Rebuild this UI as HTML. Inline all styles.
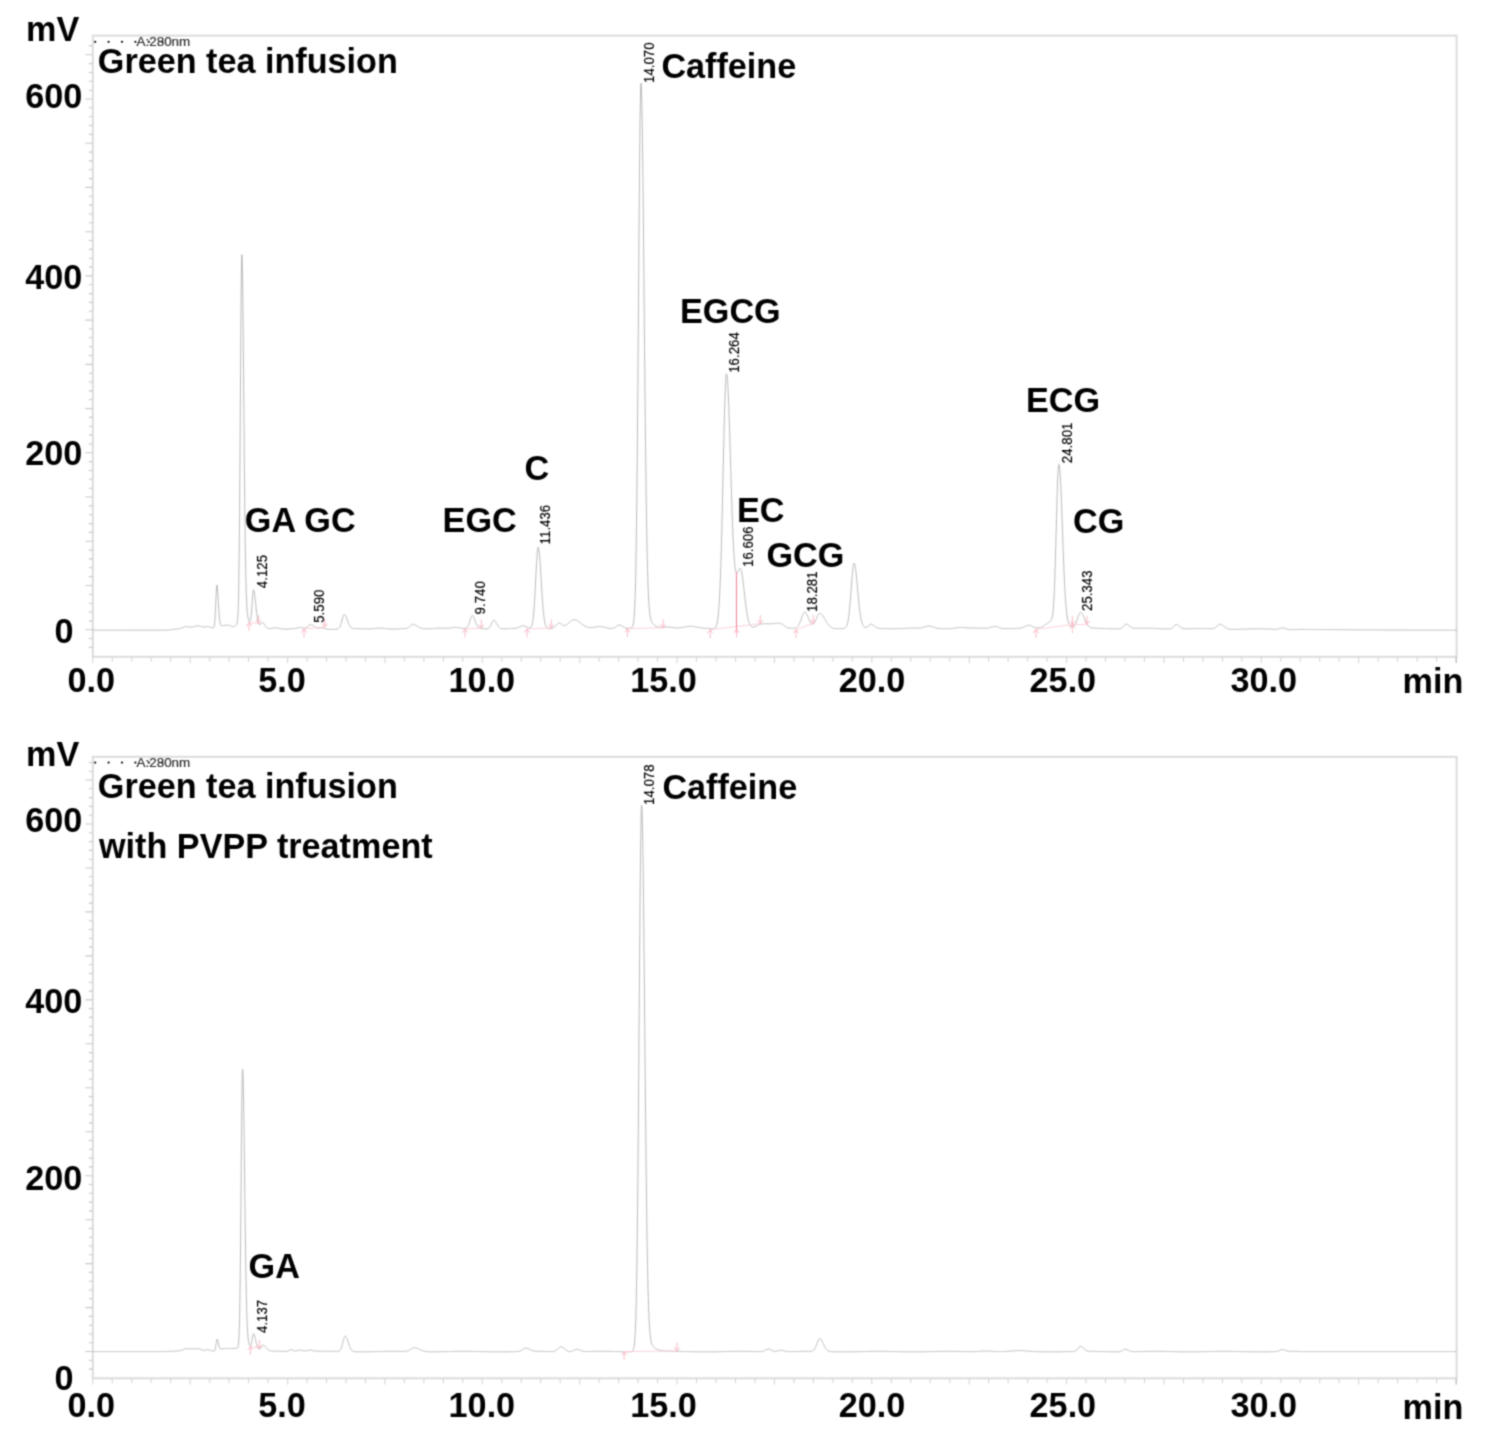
<!DOCTYPE html>
<html lang="en"><head><meta charset="utf-8"><title>HPLC chromatograms of green tea infusion</title>
<style>
html,body{margin:0;padding:0;background:#fff;}
body{width:1488px;height:1439px;overflow:hidden;}
svg{display:block;}
.b{font-family:"Liberation Sans",sans-serif;font-weight:700;font-size:34.2px;fill:#000;}
.r{font-family:"Liberation Sans",sans-serif;font-weight:400;font-size:13.3px;fill:#000;stroke:#000;stroke-width:0.15px;}
.lg{font-family:"Liberation Sans",sans-serif;font-weight:400;font-size:13.4px;fill:#303030;stroke:#303030;stroke-width:0.2px;}
.t{fill:none;stroke:#b2b2b2;stroke-width:0.9;stroke-linejoin:round;}
.m{fill:none;stroke:#f8b4c1;stroke-width:0.9;}
.m .s{stroke:#fbcdd6;stroke-width:0.9;}
</style></head><body>
<svg width="1488" height="1439" viewBox="0 0 1488 1439">
<defs><filter id="soft" x="0" y="0" width="1488" height="1439" filterUnits="userSpaceOnUse" color-interpolation-filters="sRGB"><feConvolveMatrix order="3" kernelMatrix="0.04084 0.12041 0.04084 0.12041 0.35503 0.12041 0.04084 0.12041 0.04084" divisor="1" edgeMode="duplicate" preserveAlpha="false"/></filter></defs>
<g filter="url(#soft)">
<rect width="1488" height="1439" fill="#fff"/>
<g id="chart-top">
<rect x="92.8" y="35.6" width="1363.8" height="621.2" fill="none" stroke="#dcdcdc" stroke-width="2"/>
<path d="M88.8,45.9H92.8M85.3,54.8H92.8M88.8,63.6H92.8M88.8,72.5H92.8M88.8,81.3H92.8M88.8,90.2H92.8M85.3,99.0H92.8M88.8,107.8H92.8M88.8,116.7H92.8M88.8,125.5H92.8M88.8,134.4H92.8M85.3,143.2H92.8M88.8,152.1H92.8M88.8,160.9H92.8M88.8,169.8H92.8M88.8,178.6H92.8M85.3,187.4H92.8M88.8,196.3H92.8M88.8,205.1H92.8M88.8,214.0H92.8M88.8,222.8H92.8M85.3,231.7H92.8M88.8,240.5H92.8M88.8,249.4H92.8M88.8,258.2H92.8M88.8,267.1H92.8M85.3,275.9H92.8M88.8,284.7H92.8M88.8,293.6H92.8M88.8,302.4H92.8M88.8,311.3H92.8M85.3,320.1H92.8M88.8,329.0H92.8M88.8,337.8H92.8M88.8,346.7H92.8M88.8,355.5H92.8M85.3,364.4H92.8M88.8,373.2H92.8M88.8,382.0H92.8M88.8,390.9H92.8M88.8,399.7H92.8M85.3,408.6H92.8M88.8,417.4H92.8M88.8,426.3H92.8M88.8,435.1H92.8M88.8,444.0H92.8M85.3,452.8H92.8M88.8,461.6H92.8M88.8,470.5H92.8M88.8,479.3H92.8M88.8,488.2H92.8M85.3,497.0H92.8M88.8,505.9H92.8M88.8,514.7H92.8M88.8,523.6H92.8M88.8,532.4H92.8M85.3,541.2H92.8M88.8,550.1H92.8M88.8,558.9H92.8M88.8,567.8H92.8M88.8,576.6H92.8M85.3,585.5H92.8M88.8,594.3H92.8M88.8,603.2H92.8M88.8,612.0H92.8M88.8,620.9H92.8M85.3,629.7H92.8M88.8,638.5H92.8M88.8,647.4H92.8" stroke="#cacaca" stroke-width="1.1" fill="none"/>
<path d="M92.8,656.8v6.2M112.3,656.8v5.0M131.8,656.8v5.0M151.2,656.8v5.0M170.7,656.8v5.0M190.2,656.8v6.2M209.7,656.8v5.0M229.1,656.8v5.0M248.6,656.8v5.0M268.1,656.8v5.0M287.6,656.8v6.2M307.0,656.8v5.0M326.5,656.8v5.0M346.0,656.8v5.0M365.5,656.8v5.0M384.9,656.8v6.2M404.4,656.8v5.0M423.9,656.8v5.0M443.4,656.8v5.0M462.8,656.8v5.0M482.3,656.8v6.2M501.8,656.8v5.0M521.2,656.8v5.0M540.7,656.8v5.0M560.2,656.8v5.0M579.7,656.8v6.2M599.1,656.8v5.0M618.6,656.8v5.0M638.1,656.8v5.0M657.6,656.8v5.0M677.0,656.8v6.2M696.5,656.8v5.0M716.0,656.8v5.0M735.5,656.8v5.0M755.0,656.8v5.0M774.4,656.8v6.2M793.9,656.8v5.0M813.4,656.8v5.0M832.9,656.8v5.0M852.3,656.8v5.0M871.8,656.8v6.2M891.3,656.8v5.0M910.8,656.8v5.0M930.2,656.8v5.0M949.7,656.8v5.0M969.2,656.8v6.2M988.6,656.8v5.0M1008.1,656.8v5.0M1027.6,656.8v5.0M1047.1,656.8v5.0M1066.6,656.8v6.2M1086.0,656.8v5.0M1105.5,656.8v5.0M1125.0,656.8v5.0M1144.5,656.8v5.0M1163.9,656.8v6.2M1183.4,656.8v5.0M1202.9,656.8v5.0M1222.4,656.8v5.0M1241.8,656.8v5.0M1261.3,656.8v6.2M1280.8,656.8v5.0M1300.2,656.8v5.0M1319.7,656.8v5.0M1339.2,656.8v5.0M1358.7,656.8v6.2M1378.2,656.8v5.0M1397.6,656.8v5.0M1417.1,656.8v5.0M1436.6,656.8v5.0M1456.0,656.8v6.2" stroke="#d6d6d6" stroke-width="1.1" fill="none"/>
<text class="b" transform="translate(26.0,41.4) scale(1,1.005)">mV</text>
<text class="b" transform="translate(25.2,108.3) scale(1,1.03)">600</text>
<text class="b" transform="translate(25.2,288.6) scale(1,1.03)">400</text>
<text class="b" transform="translate(25.2,465.4) scale(1,1.03)">200</text>
<text class="b" transform="translate(54.4,642.6) scale(1,1.03)">0</text>
<text class="b" transform="translate(67.4,691.6) scale(1,1.03)">0.0</text>
<text class="b" transform="translate(258.2,691.6) scale(1,1.03)">5.0</text>
<text class="b" transform="translate(448.6,691.6) scale(1,1.03)">10.0</text>
<text class="b" transform="translate(630.2,691.6) scale(1,1.03)">15.0</text>
<text class="b" transform="translate(838.8,691.6) scale(1,1.03)">20.0</text>
<text class="b" transform="translate(1029.6,691.6) scale(1,1.03)">25.0</text>
<text class="b" transform="translate(1230.4,691.6) scale(1,1.03)">30.0</text>
<text class="b" transform="translate(1402.6,693.4) scale(1,1.005)">min</text>
<path d="M1456.3,656.8v6.2" stroke="#c2c2c2" stroke-width="1.2" fill="none"/>
<path d="M95.2,41.8h0.01M108.6,41.8h0.01M122.0,41.8h0.01M135.4,41.8h0.01M148.8,41.8h0.01M162.2,41.8h0.01" stroke="#111" stroke-width="2.3" stroke-linecap="round" fill="none"/>
<text class="lg" x="136.6" y="46.0">A:280nm</text>
<path class="t" d="M92.8,630.2 L93.0,630.2 L93.3,630.2 L93.5,630.2 L93.8,630.2 L94.0,630.2 L94.3,630.2 L94.5,630.2 L94.8,630.2 L95.0,630.2 L95.3,630.2 L95.5,630.2 L95.8,630.2 L96.0,630.2 L96.3,630.2 L96.5,630.2 L96.8,630.2 L97.0,630.2 L97.3,630.2 L97.5,630.2 L97.8,630.2 L98.0,630.2 L98.3,630.2 L98.5,630.2 L98.8,630.2 L99.0,630.2 L99.3,630.2 L99.5,630.2 L99.8,630.2 L100.0,630.2 L100.3,630.2 L100.5,630.2 L100.8,630.2 L101.0,630.2 L101.3,630.2 L101.5,630.2 L101.8,630.2 L102.0,630.2 L102.3,630.2 L102.5,630.2 L102.8,630.2 L103.0,630.2 L103.3,630.2 L103.5,630.2 L103.8,630.2 L104.0,630.2 L104.3,630.2 L104.5,630.2 L104.8,630.2 L105.0,630.2 L105.3,630.2 L105.5,630.2 L105.8,630.2 L106.0,630.2 L106.3,630.2 L106.5,630.2 L106.8,630.2 L107.0,630.2 L107.3,630.2 L107.5,630.2 L107.8,630.2 L108.0,630.2 L108.3,630.2 L108.5,630.2 L108.8,630.2 L109.0,630.2 L109.3,630.2 L109.5,630.2 L109.8,630.2 L110.0,630.2 L110.3,630.2 L110.5,630.2 L110.8,630.2 L111.0,630.2 L111.3,630.2 L111.5,630.2 L111.8,630.2 L112.0,630.2 L112.3,630.2 L112.5,630.2 L112.8,630.2 L113.0,630.2 L113.3,630.2 L113.5,630.2 L113.8,630.2 L114.0,630.2 L114.3,630.2 L114.5,630.2 L114.8,630.2 L115.0,630.2 L115.3,630.2 L115.5,630.2 L115.8,630.2 L116.0,630.2 L116.3,630.2 L116.5,630.2 L116.8,630.2 L117.0,630.2 L117.3,630.2 L117.5,630.2 L117.8,630.2 L118.0,630.2 L118.3,630.2 L118.5,630.2 L118.8,630.2 L119.0,630.2 L119.3,630.2 L119.5,630.2 L119.8,630.2 L120.0,630.2 L120.3,630.2 L120.5,630.2 L120.8,630.2 L121.0,630.2 L121.3,630.2 L121.5,630.2 L121.8,630.2 L122.0,630.2 L122.3,630.2 L122.5,630.2 L122.8,630.2 L123.0,630.2 L123.3,630.2 L123.5,630.2 L123.8,630.2 L124.0,630.2 L124.3,630.2 L124.5,630.2 L124.8,630.2 L125.0,630.2 L125.3,630.2 L125.5,630.2 L125.8,630.2 L126.0,630.2 L126.3,630.2 L126.5,630.2 L126.8,630.2 L127.0,630.2 L127.3,630.2 L127.5,630.2 L127.8,630.2 L128.1,630.2 L128.3,630.2 L128.6,630.2 L128.8,630.2 L129.1,630.2 L129.3,630.2 L129.6,630.2 L129.8,630.2 L130.1,630.2 L130.3,630.2 L130.6,630.2 L130.8,630.2 L131.1,630.2 L131.3,630.2 L131.6,630.2 L131.8,630.2 L132.1,630.2 L132.3,630.2 L132.6,630.2 L132.8,630.2 L133.1,630.2 L133.3,630.2 L133.6,630.2 L133.8,630.2 L134.1,630.2 L134.3,630.2 L134.6,630.2 L134.8,630.2 L135.1,630.2 L135.3,630.2 L135.6,630.2 L135.8,630.2 L136.1,630.2 L136.3,630.2 L136.6,630.2 L136.8,630.2 L137.1,630.2 L137.3,630.2 L137.6,630.2 L137.8,630.2 L138.1,630.2 L138.3,630.2 L138.6,630.2 L138.8,630.2 L139.1,630.2 L139.3,630.2 L139.6,630.2 L139.8,630.2 L140.1,630.2 L140.3,630.2 L140.6,630.2 L140.8,630.2 L141.1,630.2 L141.3,630.2 L141.6,630.2 L141.8,630.2 L142.1,630.2 L142.3,630.2 L142.6,630.2 L142.8,630.2 L143.1,630.2 L143.3,630.2 L143.6,630.2 L143.8,630.2 L144.1,630.2 L144.3,630.2 L144.6,630.2 L144.8,630.2 L145.1,630.2 L145.3,630.2 L145.6,630.2 L145.8,630.2 L146.1,630.2 L146.3,630.2 L146.6,630.2 L146.8,630.2 L147.1,630.2 L147.3,630.2 L147.6,630.2 L147.8,630.2 L148.1,630.2 L148.3,630.2 L148.6,630.2 L148.8,630.2 L149.1,630.2 L149.3,630.2 L149.6,630.2 L149.8,630.2 L150.1,630.2 L150.3,630.2 L150.6,630.2 L150.8,630.2 L151.1,630.2 L151.3,630.2 L151.6,630.2 L151.8,630.2 L152.1,630.2 L152.3,630.2 L152.6,630.2 L152.8,630.2 L153.1,630.2 L153.3,630.2 L153.6,630.2 L153.8,630.2 L154.1,630.2 L154.3,630.2 L154.6,630.2 L154.8,630.2 L155.1,630.2 L155.3,630.2 L155.6,630.2 L155.8,630.2 L156.1,630.2 L156.3,630.2 L156.6,630.2 L156.8,630.2 L157.1,630.2 L157.3,630.2 L157.6,630.2 L157.8,630.2 L158.1,630.2 L158.3,630.2 L158.6,630.2 L158.8,630.2 L159.1,630.2 L159.3,630.2 L159.6,630.2 L159.8,630.2 L160.1,630.2 L160.3,630.2 L160.6,630.2 L160.8,630.2 L161.1,630.2 L161.3,630.2 L161.6,630.2 L161.8,630.2 L162.1,630.2 L162.3,630.2 L162.6,630.2 L162.8,630.2 L163.1,630.2 L163.3,630.2 L163.6,630.2 L163.8,630.2 L164.1,630.1 L164.3,630.1 L164.6,630.1 L164.8,630.1 L165.1,630.1 L165.3,630.1 L165.6,630.1 L165.8,630.1 L166.1,630.1 L166.3,630.1 L166.6,630.1 L166.8,630.1 L167.1,630.1 L167.3,630.0 L167.6,630.0 L167.8,630.0 L168.1,630.0 L168.3,630.0 L168.6,630.0 L168.8,630.0 L169.1,629.9 L169.3,629.9 L169.6,629.9 L169.8,629.9 L170.1,629.9 L170.3,629.8 L170.6,629.8 L170.8,629.8 L171.1,629.8 L171.3,629.7 L171.6,629.7 L171.8,629.7 L172.1,629.6 L172.3,629.5 L172.6,629.5 L172.8,629.5 L173.1,629.4 L173.3,629.4 L173.6,629.4 L173.8,629.3 L174.1,629.3 L174.3,629.2 L174.6,629.2 L174.8,629.2 L175.1,629.2 L175.3,629.1 L175.6,629.1 L175.8,629.1 L176.1,629.0 L176.3,629.0 L176.6,629.0 L176.8,628.9 L177.1,628.9 L177.3,628.9 L177.6,628.9 L177.8,628.8 L178.1,628.8 L178.3,628.8 L178.6,628.7 L178.8,628.7 L179.1,628.7 L179.3,628.6 L179.6,628.6 L179.8,628.5 L180.1,628.5 L180.3,628.4 L180.6,628.3 L180.8,628.3 L181.1,628.2 L181.3,628.1 L181.6,628.1 L181.8,628.0 L182.1,627.9 L182.3,627.8 L182.6,627.7 L182.8,627.6 L183.1,627.5 L183.3,627.4 L183.6,627.3 L183.8,627.2 L184.1,627.1 L184.3,627.0 L184.6,627.0 L184.8,626.9 L185.1,626.8 L185.3,626.8 L185.6,626.7 L185.8,626.7 L186.1,626.7 L186.3,626.7 L186.6,626.7 L186.8,626.7 L187.1,626.7 L187.3,626.7 L187.6,626.7 L187.8,626.7 L188.1,626.8 L188.3,626.8 L188.6,626.9 L188.8,626.9 L189.1,626.9 L189.3,627.0 L189.6,627.0 L189.8,627.1 L190.1,627.1 L190.3,627.1 L190.6,627.1 L190.8,627.1 L191.1,627.1 L191.3,627.1 L191.6,627.1 L191.8,627.1 L192.1,627.0 L192.3,627.0 L192.6,627.0 L192.8,626.9 L193.1,626.9 L193.3,626.8 L193.6,626.7 L193.8,626.7 L194.1,626.6 L194.3,626.5 L194.6,626.5 L194.8,626.4 L195.1,626.3 L195.3,626.3 L195.6,626.2 L195.8,626.2 L196.1,626.1 L196.3,626.1 L196.6,626.0 L196.8,626.0 L197.1,626.0 L197.3,626.0 L197.6,625.9 L197.8,625.9 L198.1,625.9 L198.3,625.9 L198.6,626.0 L198.8,626.0 L199.1,626.0 L199.3,626.1 L199.6,626.1 L199.8,626.2 L200.1,626.2 L200.3,626.3 L200.6,626.4 L200.8,626.4 L201.1,626.5 L201.3,626.6 L201.6,626.6 L201.8,626.7 L202.1,626.8 L202.3,626.8 L202.6,626.9 L202.8,626.9 L203.1,627.0 L203.3,627.0 L203.6,627.0 L203.8,627.0 L204.1,627.0 L204.3,627.0 L204.6,627.0 L204.8,627.0 L205.1,627.0 L205.3,626.9 L205.6,626.9 L205.8,626.8 L206.1,626.8 L206.3,626.7 L206.6,626.7 L206.8,626.7 L207.1,626.6 L207.3,626.6 L207.6,626.6 L207.8,626.6 L208.1,626.6 L208.3,626.6 L208.6,626.7 L208.8,626.7 L209.1,626.8 L209.3,626.9 L209.6,627.0 L209.8,627.0 L210.1,627.1 L210.3,627.2 L210.6,627.3 L210.8,627.4 L211.1,627.5 L211.3,627.6 L211.6,627.7 L211.8,627.8 L212.1,627.8 L212.3,627.9 L212.6,627.9 L212.8,628.0 L213.1,627.9 L213.3,627.9 L213.6,627.7 L213.8,627.3 L214.1,626.6 L214.3,625.5 L214.6,623.8 L214.8,621.2 L215.1,617.7 L215.3,613.2 L215.6,607.9 L215.8,602.0 L216.1,596.2 L216.3,591.0 L216.6,587.1 L216.8,585.1 L217.1,585.1 L217.3,586.6 L217.6,589.2 L217.8,592.7 L218.1,596.9 L218.3,601.4 L218.6,605.9 L218.8,610.1 L219.1,613.9 L219.3,617.1 L219.6,619.7 L219.8,621.7 L220.1,623.1 L220.3,624.2 L220.6,624.8 L220.8,625.3 L221.1,625.5 L221.3,625.6 L221.6,625.7 L221.8,625.7 L222.1,625.6 L222.3,625.6 L222.6,625.6 L222.8,625.5 L223.1,625.5 L223.3,625.5 L223.6,625.5 L223.8,625.5 L224.1,625.5 L224.3,625.4 L224.6,625.4 L224.8,625.4 L225.1,625.4 L225.3,625.4 L225.6,625.3 L225.8,625.3 L226.1,625.3 L226.3,625.2 L226.6,625.2 L226.8,625.2 L227.1,625.1 L227.3,625.1 L227.6,625.1 L227.8,625.1 L228.1,625.1 L228.3,625.1 L228.6,625.2 L228.8,625.2 L229.1,625.3 L229.3,625.4 L229.6,625.5 L229.8,625.6 L230.1,625.7 L230.3,625.8 L230.6,625.9 L230.8,626.0 L231.1,626.1 L231.3,626.2 L231.6,626.3 L231.8,626.4 L232.1,626.5 L232.3,626.5 L232.6,626.6 L232.8,626.6 L233.1,626.6 L233.3,626.6 L233.6,626.5 L233.8,626.5 L234.1,626.4 L234.3,626.3 L234.6,626.2 L234.8,626.1 L235.1,625.9 L235.3,625.8 L235.6,625.6 L235.8,625.4 L236.1,625.1 L236.3,624.9 L236.6,624.5 L236.8,623.9 L237.1,623.0 L237.3,621.6 L237.6,619.5 L237.8,616.3 L238.1,611.4 L238.3,604.4 L238.6,594.4 L238.8,580.9 L239.1,563.2 L239.3,540.8 L239.6,513.5 L239.8,481.5 L240.1,445.8 L240.3,407.7 L240.6,369.2 L240.8,332.7 L241.1,300.7 L241.3,275.8 L241.6,260.0 L241.8,254.7 L242.1,257.5 L242.3,265.9 L242.6,279.6 L242.8,298.2 L243.1,320.9 L243.3,346.8 L243.6,374.8 L243.8,403.8 L244.1,432.7 L244.3,460.6 L244.6,486.6 L244.8,510.3 L245.1,531.2 L245.3,549.3 L245.6,564.5 L245.8,577.1 L246.1,587.3 L246.3,595.3 L246.6,601.6 L246.8,606.5 L247.1,610.3 L247.3,613.1 L247.6,615.2 L247.8,616.9 L248.1,618.1 L248.3,619.1 L248.6,619.9 L248.8,620.5 L249.1,621.0 L249.3,621.3 L249.6,621.5 L249.8,621.5 L250.1,621.2 L250.3,620.6 L250.6,619.7 L250.8,618.2 L251.1,616.3 L251.3,613.9 L251.6,610.9 L251.8,607.5 L252.1,603.9 L252.3,600.2 L252.6,596.7 L252.8,593.6 L253.1,591.4 L253.3,590.1 L253.6,589.9 L253.8,590.3 L254.1,591.2 L254.3,592.4 L254.6,594.0 L254.8,595.9 L255.1,598.0 L255.3,600.3 L255.6,602.8 L255.8,605.2 L256.1,607.7 L256.3,610.0 L256.6,612.3 L256.8,614.4 L257.1,616.3 L257.3,618.0 L257.6,619.5 L257.8,620.8 L258.1,621.9 L258.3,622.7 L258.6,623.4 L258.8,623.9 L259.1,624.2 L259.3,624.4 L259.6,624.5 L259.8,624.5 L260.1,624.4 L260.3,624.2 L260.6,624.1 L260.8,623.8 L261.1,623.6 L261.3,623.4 L261.6,623.2 L261.8,623.1 L262.1,622.9 L262.3,622.9 L262.6,622.8 L262.8,622.9 L263.1,622.9 L263.3,623.1 L263.6,623.3 L263.8,623.6 L264.1,623.9 L264.3,624.2 L264.6,624.6 L264.8,625.0 L265.1,625.4 L265.3,625.8 L265.6,626.1 L265.8,626.5 L266.1,626.9 L266.3,627.2 L266.6,627.5 L266.8,627.7 L267.1,628.0 L267.3,628.1 L267.6,628.3 L267.8,628.4 L268.1,628.5 L268.3,628.6 L268.6,628.7 L268.8,628.7 L269.1,628.7 L269.3,628.7 L269.6,628.7 L269.8,628.7 L270.1,628.7 L270.3,628.6 L270.6,628.6 L270.8,628.6 L271.1,628.5 L271.3,628.5 L271.6,628.4 L271.8,628.3 L272.1,628.3 L272.3,628.2 L272.6,628.2 L272.8,628.1 L273.1,628.1 L273.3,628.1 L273.6,628.0 L273.8,628.0 L274.1,628.0 L274.3,627.9 L274.6,627.9 L274.8,627.9 L275.1,627.9 L275.3,627.9 L275.6,627.9 L275.8,627.9 L276.1,627.9 L276.3,628.0 L276.6,628.0 L276.8,628.0 L277.1,628.0 L277.3,628.1 L277.6,628.1 L277.8,628.2 L278.1,628.2 L278.3,628.2 L278.6,628.3 L278.8,628.3 L279.1,628.4 L279.3,628.4 L279.6,628.5 L279.8,628.5 L280.1,628.6 L280.3,628.6 L280.6,628.7 L280.8,628.7 L281.1,628.7 L281.3,628.8 L281.6,628.8 L281.8,628.8 L282.1,628.9 L282.3,628.9 L282.6,628.9 L282.8,628.9 L283.1,628.9 L283.3,629.0 L283.6,629.0 L283.8,629.0 L284.1,629.0 L284.3,629.0 L284.6,629.0 L284.8,629.0 L285.1,629.0 L285.3,629.0 L285.6,629.0 L285.8,629.0 L286.1,629.0 L286.3,629.0 L286.6,629.0 L286.8,629.0 L287.1,629.0 L287.3,629.0 L287.6,629.0 L287.8,629.0 L288.1,628.9 L288.3,628.9 L288.6,628.9 L288.8,628.9 L289.1,628.9 L289.3,628.9 L289.6,628.9 L289.8,628.9 L290.1,628.9 L290.3,628.9 L290.6,628.9 L290.8,628.9 L291.1,628.9 L291.3,628.8 L291.6,628.8 L291.8,628.8 L292.1,628.8 L292.3,628.8 L292.6,628.8 L292.8,628.8 L293.1,628.7 L293.3,628.7 L293.6,628.7 L293.8,628.7 L294.1,628.6 L294.3,628.6 L294.6,628.6 L294.8,628.5 L295.1,628.5 L295.3,628.4 L295.6,628.4 L295.8,628.3 L296.1,628.3 L296.3,628.2 L296.6,628.2 L296.8,628.1 L297.1,628.0 L297.3,628.0 L297.6,627.9 L297.8,627.9 L298.1,627.8 L298.3,627.8 L298.6,627.7 L298.8,627.7 L299.1,627.6 L299.3,627.6 L299.6,627.6 L299.8,627.6 L300.1,627.6 L300.3,627.6 L300.6,627.6 L300.8,627.6 L301.1,627.7 L301.3,627.7 L301.6,627.7 L301.8,627.8 L302.1,627.8 L302.3,627.9 L302.6,627.9 L302.8,628.0 L303.1,628.0 L303.3,628.0 L303.6,628.1 L303.8,628.1 L304.1,628.1 L304.3,628.1 L304.6,628.1 L304.8,628.0 L305.1,628.0 L305.3,627.9 L305.6,627.8 L305.8,627.7 L306.1,627.6 L306.3,627.5 L306.6,627.3 L306.8,627.2 L307.1,627.0 L307.3,626.8 L307.6,626.6 L307.8,626.4 L308.1,626.2 L308.3,626.0 L308.6,625.8 L308.8,625.6 L309.1,625.4 L309.3,625.2 L309.6,625.0 L309.8,624.9 L310.1,624.8 L310.3,624.7 L310.6,624.6 L310.8,624.6 L311.1,624.6 L311.3,624.6 L311.6,624.7 L311.8,624.7 L312.1,624.8 L312.3,624.9 L312.6,625.1 L312.8,625.2 L313.1,625.4 L313.3,625.5 L313.6,625.7 L313.8,625.9 L314.1,626.1 L314.3,626.3 L314.6,626.5 L314.8,626.7 L315.1,626.8 L315.3,627.0 L315.6,627.2 L315.8,627.3 L316.1,627.5 L316.3,627.6 L316.6,627.7 L316.8,627.8 L317.1,627.9 L317.3,628.0 L317.6,628.0 L317.8,628.1 L318.1,628.1 L318.3,628.1 L318.6,628.1 L318.8,628.1 L319.1,628.1 L319.3,628.1 L319.6,628.1 L319.8,628.0 L320.1,628.0 L320.3,628.0 L320.6,628.0 L320.8,627.9 L321.1,627.9 L321.3,627.9 L321.6,627.9 L321.8,627.9 L322.1,627.9 L322.3,627.9 L322.6,627.9 L322.8,628.0 L323.1,628.0 L323.3,628.1 L323.6,628.1 L323.8,628.2 L324.1,628.3 L324.3,628.3 L324.6,628.4 L324.8,628.5 L325.1,628.6 L325.3,628.6 L325.6,628.7 L325.8,628.8 L326.1,628.8 L326.3,628.9 L326.6,629.0 L326.8,629.0 L327.1,629.1 L327.3,629.1 L327.6,629.2 L327.8,629.2 L328.1,629.2 L328.3,629.3 L328.6,629.3 L328.8,629.3 L329.1,629.3 L329.3,629.3 L329.6,629.3 L329.8,629.3 L330.1,629.4 L330.3,629.4 L330.6,629.4 L330.8,629.4 L331.1,629.4 L331.3,629.4 L331.6,629.4 L331.8,629.3 L332.1,629.3 L332.3,629.3 L332.6,629.3 L332.8,629.3 L333.1,629.3 L333.3,629.3 L333.6,629.3 L333.8,629.3 L334.1,629.3 L334.3,629.3 L334.6,629.3 L334.8,629.3 L335.1,629.2 L335.3,629.2 L335.6,629.2 L335.8,629.2 L336.1,629.2 L336.3,629.2 L336.6,629.1 L336.8,629.1 L337.1,629.1 L337.3,629.0 L337.6,629.0 L337.8,628.9 L338.1,628.8 L338.3,628.6 L338.6,628.5 L338.8,628.3 L339.1,628.0 L339.3,627.7 L339.6,627.4 L339.8,626.9 L340.1,626.4 L340.3,625.9 L340.6,625.2 L340.8,624.5 L341.1,623.7 L341.3,622.8 L341.6,621.9 L341.8,621.0 L342.1,620.0 L342.3,619.0 L342.6,618.1 L342.8,617.2 L343.1,616.4 L343.3,615.7 L343.6,615.2 L343.8,614.7 L344.1,614.5 L344.3,614.4 L344.6,614.4 L344.8,614.6 L345.1,614.8 L345.3,615.1 L345.6,615.6 L345.8,616.0 L346.1,616.6 L346.3,617.2 L346.6,617.9 L346.8,618.6 L347.1,619.3 L347.3,620.0 L347.6,620.7 L347.8,621.4 L348.1,622.1 L348.3,622.8 L348.6,623.4 L348.8,624.1 L349.1,624.6 L349.3,625.1 L349.6,625.6 L349.8,626.0 L350.1,626.4 L350.3,626.8 L350.6,627.1 L350.8,627.3 L351.1,627.6 L351.3,627.8 L351.6,627.9 L351.8,628.1 L352.1,628.2 L352.3,628.3 L352.6,628.4 L352.8,628.4 L353.1,628.5 L353.3,628.5 L353.6,628.6 L353.8,628.6 L354.1,628.6 L354.3,628.6 L354.6,628.7 L354.8,628.7 L355.1,628.7 L355.3,628.7 L355.6,628.7 L355.8,628.7 L356.1,628.7 L356.3,628.7 L356.6,628.7 L356.8,628.7 L357.1,628.7 L357.3,628.7 L357.6,628.7 L357.8,628.7 L358.1,628.7 L358.3,628.7 L358.6,628.7 L358.8,628.7 L359.1,628.7 L359.3,628.7 L359.6,628.8 L359.8,628.8 L360.1,628.8 L360.3,628.8 L360.6,628.8 L360.8,628.8 L361.1,628.8 L361.3,628.8 L361.6,628.8 L361.8,628.8 L362.1,628.8 L362.3,628.8 L362.6,628.8 L362.8,628.8 L363.1,628.8 L363.3,628.8 L363.6,628.9 L363.8,628.9 L364.1,628.9 L364.3,628.9 L364.6,628.9 L364.8,628.9 L365.1,628.9 L365.3,628.9 L365.6,628.9 L365.8,628.9 L366.1,628.9 L366.3,628.9 L366.6,628.9 L366.8,628.9 L367.1,628.9 L367.3,628.9 L367.6,628.9 L367.8,628.9 L368.1,629.0 L368.3,629.0 L368.6,629.0 L368.8,628.9 L369.1,628.9 L369.3,628.9 L369.6,628.9 L369.8,628.9 L370.1,628.9 L370.3,628.9 L370.6,628.9 L370.8,628.9 L371.1,628.9 L371.3,628.9 L371.6,628.9 L371.8,628.8 L372.1,628.8 L372.3,628.8 L372.6,628.8 L372.8,628.8 L373.1,628.7 L373.3,628.7 L373.6,628.7 L373.8,628.7 L374.1,628.6 L374.3,628.6 L374.6,628.6 L374.8,628.5 L375.1,628.5 L375.3,628.5 L375.6,628.5 L375.8,628.4 L376.1,628.4 L376.3,628.4 L376.6,628.3 L376.8,628.3 L377.1,628.3 L377.3,628.3 L377.6,628.2 L377.8,628.2 L378.1,628.2 L378.3,628.2 L378.6,628.2 L378.8,628.1 L379.1,628.1 L379.3,628.1 L379.6,628.1 L379.8,628.1 L380.1,628.1 L380.3,628.1 L380.6,628.1 L380.8,628.1 L381.1,628.2 L381.3,628.2 L381.6,628.2 L381.8,628.2 L382.1,628.2 L382.3,628.2 L382.6,628.3 L382.8,628.3 L383.1,628.3 L383.3,628.4 L383.6,628.4 L383.8,628.4 L384.1,628.5 L384.3,628.5 L384.6,628.5 L384.8,628.5 L385.1,628.6 L385.3,628.6 L385.6,628.6 L385.8,628.7 L386.1,628.7 L386.3,628.7 L386.6,628.8 L386.8,628.8 L387.1,628.8 L387.3,628.8 L387.6,628.9 L387.8,628.9 L388.1,628.9 L388.3,628.9 L388.6,628.9 L388.8,629.0 L389.1,629.0 L389.3,629.0 L389.6,629.0 L389.8,629.0 L390.1,629.0 L390.3,629.0 L390.6,629.0 L390.8,629.0 L391.1,629.0 L391.3,629.0 L391.6,629.0 L391.8,629.0 L392.1,629.0 L392.3,629.0 L392.6,629.0 L392.8,629.0 L393.1,629.0 L393.3,629.0 L393.6,629.0 L393.8,629.0 L394.1,629.0 L394.3,629.0 L394.6,629.0 L394.8,629.0 L395.1,629.0 L395.3,629.0 L395.6,629.0 L395.8,628.9 L396.1,628.9 L396.3,628.9 L396.6,628.9 L396.8,628.9 L397.1,628.9 L397.3,628.9 L397.6,628.9 L397.8,628.9 L398.1,628.9 L398.3,628.9 L398.6,628.8 L398.8,628.8 L399.1,628.8 L399.3,628.8 L399.6,628.8 L399.8,628.8 L400.1,628.8 L400.3,628.8 L400.6,628.8 L400.8,628.8 L401.1,628.7 L401.3,628.7 L401.6,628.7 L401.8,628.7 L402.1,628.7 L402.3,628.7 L402.6,628.7 L402.8,628.7 L403.1,628.7 L403.3,628.7 L403.6,628.6 L403.8,628.6 L404.1,628.6 L404.3,628.6 L404.6,628.6 L404.8,628.6 L405.1,628.5 L405.3,628.5 L405.6,628.5 L405.8,628.4 L406.1,628.4 L406.3,628.3 L406.6,628.3 L406.8,628.2 L407.1,628.1 L407.3,628.0 L407.6,627.9 L407.8,627.8 L408.1,627.6 L408.3,627.5 L408.6,627.3 L408.8,627.1 L409.1,626.9 L409.3,626.7 L409.6,626.5 L409.8,626.3 L410.1,626.0 L410.3,625.8 L410.6,625.6 L410.8,625.4 L411.1,625.2 L411.3,625.0 L411.6,624.8 L411.8,624.7 L412.1,624.5 L412.3,624.4 L412.6,624.4 L412.8,624.4 L413.1,624.4 L413.3,624.4 L413.6,624.4 L413.8,624.5 L414.1,624.5 L414.3,624.6 L414.6,624.7 L414.8,624.8 L415.1,624.9 L415.3,625.1 L415.6,625.2 L415.8,625.4 L416.1,625.5 L416.3,625.7 L416.6,625.8 L416.8,626.0 L417.1,626.2 L417.3,626.3 L417.6,626.5 L417.8,626.7 L418.1,626.8 L418.3,627.0 L418.6,627.1 L418.8,627.2 L419.1,627.4 L419.3,627.5 L419.6,627.6 L419.8,627.7 L420.1,627.8 L420.3,627.9 L420.6,628.0 L420.8,628.1 L421.1,628.2 L421.3,628.3 L421.6,628.3 L421.8,628.4 L422.1,628.4 L422.3,628.5 L422.6,628.5 L422.8,628.6 L423.1,628.6 L423.3,628.6 L423.6,628.7 L423.8,628.7 L424.1,628.7 L424.3,628.7 L424.6,628.8 L424.8,628.8 L425.1,628.8 L425.3,628.8 L425.6,628.8 L425.8,628.8 L426.1,628.8 L426.3,628.8 L426.6,628.8 L426.8,628.8 L427.1,628.8 L427.3,628.8 L427.6,628.8 L427.8,628.8 L428.1,628.8 L428.3,628.8 L428.6,628.8 L428.8,628.8 L429.1,628.8 L429.3,628.8 L429.6,628.8 L429.8,628.8 L430.1,628.8 L430.3,628.8 L430.6,628.8 L430.8,628.7 L431.1,628.7 L431.3,628.7 L431.6,628.7 L431.8,628.7 L432.1,628.7 L432.3,628.7 L432.6,628.6 L432.8,628.6 L433.1,628.6 L433.3,628.6 L433.6,628.6 L433.8,628.5 L434.1,628.5 L434.3,628.5 L434.6,628.5 L434.8,628.4 L435.1,628.4 L435.3,628.4 L435.6,628.4 L435.8,628.4 L436.1,628.3 L436.3,628.3 L436.6,628.3 L436.8,628.3 L437.1,628.3 L437.3,628.3 L437.6,628.2 L437.8,628.2 L438.1,628.2 L438.3,628.2 L438.6,628.2 L438.8,628.2 L439.1,628.2 L439.3,628.2 L439.6,628.2 L439.8,628.1 L440.1,628.1 L440.3,628.1 L440.6,628.1 L440.8,628.1 L441.1,628.1 L441.3,628.1 L441.6,628.2 L441.8,628.2 L442.1,628.2 L442.3,628.2 L442.6,628.2 L442.8,628.2 L443.1,628.2 L443.3,628.2 L443.6,628.2 L443.8,628.2 L444.1,628.2 L444.3,628.3 L444.6,628.3 L444.8,628.3 L445.1,628.3 L445.3,628.3 L445.6,628.3 L445.8,628.3 L446.1,628.3 L446.3,628.3 L446.6,628.3 L446.8,628.3 L447.1,628.3 L447.3,628.3 L447.6,628.3 L447.8,628.3 L448.1,628.3 L448.3,628.3 L448.6,628.2 L448.8,628.2 L449.1,628.2 L449.3,628.2 L449.6,628.1 L449.8,628.1 L450.1,628.1 L450.3,628.0 L450.6,628.0 L450.8,627.9 L451.1,627.9 L451.3,627.9 L451.6,627.8 L451.8,627.8 L452.1,627.7 L452.3,627.7 L452.6,627.7 L452.8,627.6 L453.1,627.6 L453.3,627.6 L453.6,627.5 L453.8,627.5 L454.1,627.5 L454.3,627.5 L454.6,627.4 L454.8,627.4 L455.1,627.4 L455.3,627.4 L455.6,627.4 L455.8,627.4 L456.1,627.4 L456.3,627.4 L456.6,627.5 L456.8,627.5 L457.1,627.5 L457.3,627.5 L457.6,627.6 L457.8,627.6 L458.1,627.6 L458.3,627.7 L458.6,627.7 L458.8,627.7 L459.1,627.8 L459.3,627.8 L459.6,627.9 L459.8,627.9 L460.1,627.9 L460.3,628.0 L460.6,628.0 L460.8,628.0 L461.1,628.1 L461.3,628.1 L461.6,628.1 L461.8,628.1 L462.1,628.2 L462.3,628.2 L462.6,628.2 L462.8,628.2 L463.1,628.2 L463.3,628.3 L463.6,628.3 L463.8,628.3 L464.1,628.3 L464.3,628.3 L464.6,628.3 L464.8,628.3 L465.1,628.2 L465.3,628.2 L465.6,628.2 L465.8,628.1 L466.1,628.0 L466.3,627.9 L466.6,627.8 L466.8,627.6 L467.1,627.4 L467.3,627.1 L467.6,626.8 L467.8,626.5 L468.1,626.0 L468.3,625.5 L468.6,625.0 L468.8,624.3 L469.1,623.6 L469.3,622.9 L469.6,622.1 L469.8,621.3 L470.1,620.4 L470.3,619.6 L470.6,618.8 L470.8,618.0 L471.1,617.3 L471.3,616.7 L471.6,616.3 L471.8,615.9 L472.1,615.7 L472.3,615.6 L472.6,615.7 L472.8,615.8 L473.1,616.1 L473.3,616.5 L473.6,616.9 L473.8,617.5 L474.1,618.1 L474.3,618.7 L474.6,619.4 L474.8,620.1 L475.1,620.9 L475.3,621.6 L475.6,622.3 L475.8,623.0 L476.1,623.6 L476.3,624.2 L476.6,624.8 L476.8,625.3 L477.1,625.8 L477.3,626.2 L477.6,626.6 L477.8,626.9 L478.1,627.2 L478.3,627.5 L478.6,627.7 L478.8,627.9 L479.1,628.0 L479.3,628.2 L479.6,628.3 L479.8,628.4 L480.1,628.4 L480.3,628.5 L480.6,628.5 L480.8,628.6 L481.1,628.6 L481.3,628.6 L481.6,628.7 L481.8,628.7 L482.1,628.7 L482.3,628.7 L482.6,628.7 L482.8,628.7 L483.1,628.7 L483.3,628.7 L483.6,628.8 L483.8,628.8 L484.1,628.8 L484.3,628.8 L484.6,628.8 L484.8,628.8 L485.1,628.8 L485.3,628.8 L485.6,628.8 L485.8,628.8 L486.1,628.8 L486.3,628.8 L486.6,628.8 L486.8,628.8 L487.1,628.8 L487.3,628.7 L487.6,628.7 L487.8,628.6 L488.1,628.6 L488.3,628.5 L488.6,628.3 L488.8,628.2 L489.1,628.0 L489.3,627.7 L489.6,627.4 L489.8,627.1 L490.1,626.7 L490.3,626.3 L490.6,625.8 L490.8,625.3 L491.1,624.7 L491.3,624.1 L491.6,623.5 L491.8,622.9 L492.1,622.3 L492.3,621.8 L492.6,621.3 L492.8,620.9 L493.1,620.6 L493.3,620.3 L493.6,620.2 L493.8,620.2 L494.1,620.2 L494.3,620.4 L494.6,620.5 L494.8,620.8 L495.1,621.1 L495.3,621.4 L495.6,621.8 L495.8,622.2 L496.1,622.6 L496.3,623.1 L496.6,623.5 L496.8,624.0 L497.1,624.4 L497.3,624.9 L497.6,625.3 L497.8,625.7 L498.1,626.1 L498.3,626.4 L498.6,626.8 L498.8,627.1 L499.1,627.3 L499.3,627.6 L499.6,627.8 L499.8,628.0 L500.1,628.1 L500.3,628.2 L500.6,628.4 L500.8,628.5 L501.1,628.5 L501.3,628.6 L501.6,628.7 L501.8,628.7 L502.1,628.7 L502.3,628.7 L502.6,628.8 L502.8,628.8 L503.1,628.8 L503.3,628.8 L503.6,628.8 L503.8,628.8 L504.1,628.8 L504.3,628.8 L504.6,628.8 L504.8,628.8 L505.1,628.8 L505.3,628.7 L505.6,628.7 L505.8,628.7 L506.1,628.7 L506.3,628.7 L506.6,628.7 L506.8,628.7 L507.1,628.7 L507.3,628.7 L507.6,628.7 L507.8,628.7 L508.1,628.6 L508.3,628.6 L508.6,628.6 L508.8,628.6 L509.1,628.6 L509.3,628.6 L509.6,628.6 L509.8,628.6 L510.1,628.6 L510.3,628.5 L510.6,628.5 L510.8,628.5 L511.1,628.5 L511.3,628.5 L511.6,628.5 L511.8,628.5 L512.0,628.5 L512.3,628.5 L512.5,628.5 L512.8,628.4 L513.0,628.4 L513.3,628.4 L513.5,628.4 L513.8,628.4 L514.0,628.4 L514.3,628.4 L514.5,628.3 L514.8,628.3 L515.0,628.3 L515.3,628.3 L515.5,628.2 L515.8,628.2 L516.0,628.2 L516.3,628.1 L516.5,628.1 L516.8,628.0 L517.0,628.0 L517.3,627.9 L517.5,627.8 L517.8,627.7 L518.0,627.6 L518.3,627.5 L518.5,627.4 L518.8,627.3 L519.0,627.2 L519.3,627.1 L519.5,627.0 L519.8,626.8 L520.0,626.7 L520.3,626.6 L520.5,626.4 L520.8,626.3 L521.0,626.2 L521.3,626.1 L521.5,626.0 L521.8,625.9 L522.0,625.8 L522.3,625.8 L522.5,625.7 L522.8,625.7 L523.0,625.7 L523.3,625.7 L523.5,625.8 L523.8,625.8 L524.0,625.9 L524.3,625.9 L524.5,626.0 L524.8,626.1 L525.0,626.2 L525.3,626.3 L525.5,626.5 L525.8,626.6 L526.0,626.7 L526.3,626.9 L526.5,627.0 L526.8,627.1 L527.0,627.2 L527.3,627.3 L527.5,627.4 L527.8,627.5 L528.0,627.6 L528.3,627.7 L528.5,627.8 L528.8,627.8 L529.0,627.9 L529.3,627.9 L529.5,627.9 L529.8,627.9 L530.0,627.8 L530.3,627.7 L530.5,627.6 L530.8,627.4 L531.0,627.1 L531.3,626.7 L531.5,626.2 L531.8,625.6 L532.0,624.8 L532.3,623.8 L532.5,622.6 L532.8,621.2 L533.0,619.4 L533.3,617.3 L533.5,614.9 L533.8,612.1 L534.0,609.0 L534.3,605.5 L534.5,601.6 L534.8,597.3 L535.0,592.8 L535.3,588.0 L535.5,583.1 L535.8,578.0 L536.0,573.0 L536.3,568.2 L536.5,563.5 L536.8,559.3 L537.0,555.5 L537.3,552.3 L537.5,549.8 L537.8,548.1 L538.0,547.2 L538.3,547.1 L538.5,547.6 L538.8,548.7 L539.0,550.4 L539.3,552.6 L539.5,555.2 L539.8,558.3 L540.0,561.7 L540.3,565.4 L540.5,569.3 L540.8,573.4 L541.0,577.6 L541.3,581.7 L541.5,585.9 L541.8,590.0 L542.0,593.9 L542.3,597.7 L542.5,601.2 L542.8,604.6 L543.0,607.6 L543.3,610.4 L543.5,613.0 L543.8,615.3 L544.0,617.3 L544.3,619.1 L544.5,620.7 L544.8,622.1 L545.0,623.3 L545.3,624.3 L545.5,625.1 L545.8,625.8 L546.0,626.4 L546.3,626.9 L546.5,627.3 L546.8,627.7 L547.0,627.9 L547.3,628.1 L547.5,628.3 L547.8,628.4 L548.0,628.5 L548.3,628.6 L548.5,628.7 L548.8,628.7 L549.0,628.7 L549.3,628.8 L549.5,628.8 L549.8,628.8 L550.0,628.8 L550.3,628.8 L550.5,628.7 L550.8,628.7 L551.0,628.7 L551.3,628.6 L551.5,628.6 L551.8,628.5 L552.0,628.5 L552.3,628.4 L552.5,628.3 L552.8,628.2 L553.0,628.1 L553.3,627.9 L553.5,627.8 L553.8,627.6 L554.0,627.4 L554.3,627.2 L554.5,627.0 L554.8,626.7 L555.0,626.5 L555.3,626.2 L555.5,626.0 L555.8,625.7 L556.0,625.4 L556.3,625.1 L556.5,624.8 L556.8,624.5 L557.0,624.3 L557.3,624.0 L557.5,623.8 L557.8,623.6 L558.0,623.4 L558.3,623.3 L558.5,623.1 L558.8,623.1 L559.0,623.0 L559.3,623.0 L559.5,623.0 L559.8,623.1 L560.0,623.2 L560.3,623.3 L560.5,623.4 L560.8,623.6 L561.0,623.8 L561.3,624.0 L561.5,624.2 L561.8,624.4 L562.0,624.6 L562.3,624.7 L562.5,624.9 L562.8,625.1 L563.0,625.2 L563.3,625.3 L563.5,625.4 L563.8,625.5 L564.0,625.6 L564.3,625.6 L564.5,625.6 L564.8,625.6 L565.0,625.5 L565.3,625.5 L565.5,625.4 L565.8,625.3 L566.0,625.1 L566.3,625.0 L566.5,624.8 L566.8,624.7 L567.0,624.5 L567.3,624.3 L567.5,624.1 L567.8,623.8 L568.0,623.6 L568.3,623.4 L568.5,623.1 L568.8,622.9 L569.0,622.7 L569.3,622.4 L569.5,622.2 L569.8,622.0 L570.0,621.8 L570.3,621.5 L570.5,621.3 L570.8,621.1 L571.0,620.9 L571.3,620.7 L571.5,620.6 L571.8,620.4 L572.0,620.3 L572.3,620.1 L572.5,620.0 L572.8,619.9 L573.0,619.9 L573.3,619.8 L573.5,619.7 L573.8,619.7 L574.0,619.7 L574.3,619.7 L574.5,619.7 L574.8,619.7 L575.0,619.8 L575.3,619.8 L575.5,619.9 L575.8,620.0 L576.0,620.1 L576.3,620.2 L576.5,620.3 L576.8,620.4 L577.0,620.5 L577.3,620.7 L577.5,620.8 L577.8,621.0 L578.0,621.1 L578.3,621.3 L578.5,621.5 L578.8,621.7 L579.0,621.8 L579.3,622.0 L579.5,622.2 L579.8,622.4 L580.0,622.6 L580.3,622.8 L580.5,623.0 L580.8,623.2 L581.0,623.4 L581.3,623.6 L581.5,623.8 L581.8,624.0 L582.0,624.2 L582.3,624.4 L582.5,624.5 L582.8,624.7 L583.0,624.9 L583.3,625.1 L583.5,625.2 L583.8,625.4 L584.0,625.6 L584.3,625.7 L584.5,625.9 L584.8,626.0 L585.0,626.1 L585.3,626.3 L585.5,626.4 L585.8,626.5 L586.0,626.6 L586.3,626.7 L586.5,626.8 L586.8,626.9 L587.0,627.0 L587.3,627.1 L587.5,627.2 L587.8,627.2 L588.0,627.3 L588.3,627.4 L588.5,627.4 L588.8,627.5 L589.0,627.5 L589.3,627.5 L589.5,627.6 L589.8,627.6 L590.0,627.6 L590.3,627.6 L590.5,627.6 L590.8,627.6 L591.0,627.6 L591.3,627.6 L591.5,627.6 L591.8,627.6 L592.0,627.6 L592.3,627.6 L592.5,627.5 L592.8,627.5 L593.0,627.5 L593.3,627.4 L593.5,627.4 L593.8,627.3 L594.0,627.3 L594.3,627.3 L594.5,627.2 L594.8,627.2 L595.0,627.1 L595.3,627.0 L595.5,627.0 L595.8,626.9 L596.0,626.9 L596.3,626.8 L596.5,626.8 L596.8,626.7 L597.0,626.7 L597.3,626.7 L597.5,626.6 L597.8,626.6 L598.0,626.6 L598.3,626.5 L598.5,626.5 L598.8,626.5 L599.0,626.5 L599.3,626.5 L599.5,626.5 L599.8,626.5 L600.0,626.5 L600.3,626.5 L600.5,626.5 L600.8,626.5 L601.0,626.5 L601.3,626.6 L601.5,626.6 L601.8,626.7 L602.0,626.7 L602.3,626.7 L602.5,626.8 L602.8,626.9 L603.0,626.9 L603.3,627.0 L603.5,627.0 L603.8,627.1 L604.0,627.2 L604.3,627.2 L604.5,627.3 L604.8,627.4 L605.0,627.5 L605.3,627.5 L605.5,627.6 L605.8,627.7 L606.0,627.7 L606.3,627.8 L606.5,627.9 L606.8,627.9 L607.0,628.0 L607.3,628.0 L607.5,628.1 L607.8,628.1 L608.0,628.2 L608.3,628.2 L608.5,628.3 L608.8,628.3 L609.0,628.4 L609.3,628.4 L609.5,628.4 L609.8,628.4 L610.0,628.5 L610.3,628.5 L610.5,628.5 L610.8,628.5 L611.0,628.5 L611.3,628.5 L611.5,628.5 L611.8,628.5 L612.0,628.5 L612.3,628.4 L612.5,628.4 L612.8,628.4 L613.0,628.3 L613.3,628.2 L613.5,628.2 L613.8,628.1 L614.0,628.0 L614.3,627.9 L614.5,627.7 L614.8,627.6 L615.0,627.4 L615.3,627.3 L615.5,627.1 L615.8,627.0 L616.0,626.8 L616.3,626.6 L616.5,626.4 L616.8,626.2 L617.0,626.1 L617.3,625.9 L617.5,625.7 L617.8,625.6 L618.0,625.4 L618.3,625.3 L618.5,625.2 L618.8,625.1 L619.0,625.1 L619.3,625.1 L619.5,625.1 L619.8,625.1 L620.0,625.1 L620.3,625.2 L620.5,625.3 L620.8,625.4 L621.0,625.5 L621.3,625.6 L621.5,625.8 L621.8,625.9 L622.0,626.1 L622.3,626.2 L622.5,626.4 L622.8,626.6 L623.0,626.7 L623.3,626.9 L623.5,627.0 L623.8,627.2 L624.0,627.3 L624.3,627.4 L624.5,627.6 L624.8,627.6 L625.0,627.7 L625.3,627.8 L625.5,627.9 L625.8,627.9 L626.0,628.0 L626.3,628.0 L626.5,628.1 L626.8,628.1 L627.0,628.1 L627.3,628.1 L627.5,628.2 L627.8,628.2 L628.0,628.2 L628.3,628.2 L628.5,628.2 L628.8,628.2 L629.0,628.2 L629.3,628.2 L629.5,628.2 L629.8,628.2 L630.0,628.1 L630.3,628.1 L630.5,628.1 L630.8,628.1 L631.0,628.0 L631.3,627.9 L631.5,627.8 L631.8,627.7 L632.0,627.4 L632.3,627.1 L632.5,626.7 L632.8,626.1 L633.0,625.3 L633.3,624.2 L633.5,622.7 L633.8,620.8 L634.0,618.3 L634.3,615.1 L634.5,611.1 L634.8,605.9 L635.0,599.5 L635.3,591.7 L635.5,582.2 L635.8,570.8 L636.0,557.3 L636.3,541.5 L636.5,523.4 L636.8,502.7 L637.0,479.5 L637.3,453.8 L637.5,425.9 L637.8,395.8 L638.0,364.1 L638.3,331.1 L638.5,297.5 L638.8,263.9 L639.0,231.0 L639.3,199.7 L639.5,170.7 L639.8,144.7 L640.0,122.6 L640.3,104.9 L640.5,92.2 L640.8,84.9 L641.0,83.2 L641.3,85.5 L641.5,91.0 L641.8,99.8 L642.0,111.9 L642.3,126.9 L642.5,144.7 L642.8,165.1 L643.0,187.6 L643.3,211.9 L643.5,237.6 L643.8,264.2 L644.0,291.3 L644.3,318.6 L644.5,345.6 L644.8,371.9 L645.0,397.3 L645.3,421.6 L645.5,444.4 L645.8,465.8 L646.0,485.4 L646.3,503.4 L646.5,519.7 L646.8,534.3 L647.0,547.3 L647.3,558.8 L647.5,568.8 L647.8,577.5 L648.0,585.0 L648.3,591.5 L648.5,596.9 L648.8,601.5 L649.0,605.4 L649.3,608.6 L649.5,611.3 L649.8,613.6 L650.0,615.4 L650.3,617.0 L650.5,618.3 L650.8,619.3 L651.0,620.2 L651.3,621.0 L651.5,621.6 L651.8,622.1 L652.0,622.6 L652.3,623.0 L652.5,623.4 L652.8,623.7 L653.0,624.0 L653.3,624.2 L653.5,624.5 L653.8,624.7 L654.0,624.9 L654.3,625.1 L654.5,625.3 L654.8,625.4 L655.0,625.6 L655.3,625.7 L655.5,625.9 L655.8,626.0 L656.0,626.1 L656.3,626.2 L656.5,626.3 L656.8,626.4 L657.0,626.5 L657.3,626.6 L657.5,626.7 L657.8,626.8 L658.0,626.8 L658.3,626.9 L658.5,627.0 L658.8,627.0 L659.0,627.1 L659.3,627.1 L659.5,627.2 L659.8,627.2 L660.0,627.2 L660.3,627.2 L660.5,627.3 L660.8,627.3 L661.0,627.3 L661.3,627.3 L661.5,627.3 L661.8,627.3 L662.0,627.3 L662.3,627.3 L662.5,627.3 L662.8,627.3 L663.0,627.2 L663.3,627.2 L663.5,627.2 L663.8,627.2 L664.0,627.2 L664.3,627.2 L664.5,627.1 L664.8,627.1 L665.0,627.1 L665.3,627.1 L665.5,627.1 L665.8,627.1 L666.0,627.0 L666.3,627.0 L666.5,627.0 L666.8,627.0 L667.0,627.0 L667.3,627.0 L667.5,627.0 L667.8,627.0 L668.0,627.0 L668.3,627.0 L668.5,627.0 L668.8,627.1 L669.0,627.1 L669.3,627.1 L669.5,627.1 L669.8,627.1 L670.0,627.2 L670.3,627.2 L670.5,627.2 L670.8,627.3 L671.0,627.3 L671.3,627.3 L671.5,627.4 L671.8,627.4 L672.0,627.5 L672.3,627.5 L672.5,627.5 L672.8,627.6 L673.0,627.6 L673.3,627.7 L673.5,627.7 L673.8,627.7 L674.0,627.8 L674.3,627.8 L674.5,627.8 L674.8,627.8 L675.0,627.9 L675.3,627.9 L675.5,627.9 L675.8,627.9 L676.0,628.0 L676.3,628.0 L676.5,628.0 L676.8,628.0 L677.0,628.0 L677.3,628.0 L677.5,628.0 L677.8,628.0 L678.0,628.0 L678.3,628.0 L678.5,627.9 L678.8,627.9 L679.0,627.9 L679.3,627.9 L679.5,627.9 L679.8,627.8 L680.0,627.8 L680.3,627.8 L680.5,627.7 L680.8,627.7 L681.0,627.7 L681.3,627.6 L681.5,627.6 L681.8,627.5 L682.0,627.5 L682.3,627.5 L682.5,627.4 L682.8,627.4 L683.0,627.3 L683.3,627.3 L683.5,627.2 L683.8,627.2 L684.0,627.1 L684.3,627.1 L684.5,627.0 L684.8,627.0 L685.0,626.9 L685.3,626.9 L685.5,626.8 L685.8,626.8 L686.0,626.7 L686.3,626.7 L686.5,626.6 L686.8,626.6 L687.0,626.5 L687.3,626.5 L687.5,626.5 L687.8,626.4 L688.0,626.4 L688.3,626.4 L688.5,626.4 L688.8,626.3 L689.0,626.3 L689.3,626.3 L689.5,626.3 L689.8,626.3 L690.0,626.3 L690.3,626.3 L690.5,626.3 L690.8,626.3 L691.0,626.3 L691.3,626.3 L691.5,626.3 L691.8,626.3 L692.0,626.4 L692.3,626.4 L692.5,626.4 L692.8,626.4 L693.0,626.5 L693.3,626.5 L693.5,626.5 L693.8,626.6 L694.0,626.6 L694.3,626.7 L694.5,626.7 L694.8,626.8 L695.0,626.8 L695.3,626.9 L695.5,626.9 L695.8,626.9 L696.0,627.0 L696.3,627.0 L696.5,627.1 L696.8,627.1 L697.0,627.2 L697.3,627.2 L697.5,627.3 L697.8,627.3 L698.0,627.4 L698.3,627.4 L698.5,627.5 L698.8,627.5 L699.0,627.6 L699.3,627.6 L699.5,627.6 L699.8,627.7 L700.0,627.7 L700.3,627.8 L700.5,627.8 L700.8,627.8 L701.0,627.9 L701.3,627.9 L701.5,627.9 L701.8,628.0 L702.0,628.0 L702.3,628.0 L702.5,628.0 L702.8,628.1 L703.0,628.1 L703.3,628.1 L703.5,628.1 L703.8,628.2 L704.0,628.2 L704.3,628.2 L704.5,628.2 L704.8,628.2 L705.0,628.2 L705.3,628.3 L705.5,628.3 L705.8,628.3 L706.0,628.3 L706.3,628.3 L706.5,628.3 L706.8,628.4 L707.0,628.4 L707.3,628.4 L707.5,628.4 L707.8,628.4 L708.0,628.4 L708.3,628.4 L708.5,628.4 L708.8,628.5 L709.0,628.5 L709.3,628.5 L709.5,628.5 L709.8,628.5 L710.0,628.5 L710.3,628.5 L710.5,628.5 L710.8,628.5 L711.0,628.5 L711.3,628.5 L711.5,628.6 L711.8,628.6 L712.0,628.6 L712.3,628.6 L712.5,628.5 L712.8,628.5 L713.0,628.5 L713.3,628.5 L713.5,628.5 L713.8,628.4 L714.0,628.3 L714.3,628.2 L714.5,628.1 L714.8,628.0 L715.0,627.8 L715.3,627.6 L715.5,627.3 L715.8,626.9 L716.0,626.4 L716.3,625.9 L716.5,625.2 L716.8,624.4 L717.0,623.4 L717.3,622.2 L717.5,620.8 L717.8,619.1 L718.0,617.1 L718.3,614.8 L718.5,612.2 L718.8,609.2 L719.0,605.7 L719.3,601.7 L719.5,597.2 L719.8,592.2 L720.0,586.7 L720.3,580.5 L720.5,573.7 L720.8,566.3 L721.0,558.3 L721.3,549.7 L721.5,540.6 L721.8,530.9 L722.0,520.7 L722.3,510.1 L722.5,499.1 L722.8,488.0 L723.0,476.6 L723.3,465.3 L723.5,454.0 L723.8,443.0 L724.0,432.4 L724.3,422.2 L724.5,412.7 L724.8,404.0 L725.0,396.2 L725.3,389.4 L725.5,383.8 L725.8,379.3 L726.0,376.1 L726.3,374.3 L726.5,373.8 L726.8,374.3 L727.0,375.7 L727.3,377.8 L727.5,380.8 L727.8,384.6 L728.0,389.1 L728.3,394.3 L728.5,400.1 L728.8,406.5 L729.0,413.5 L729.3,420.9 L729.5,428.6 L729.8,436.7 L730.0,445.0 L730.3,453.4 L730.5,461.9 L730.8,470.4 L731.0,478.9 L731.3,487.1 L731.5,495.2 L731.8,503.1 L732.0,510.6 L732.3,517.8 L732.5,524.5 L732.8,530.9 L733.0,536.8 L733.3,542.3 L733.5,547.3 L733.8,551.8 L734.0,555.8 L734.3,559.3 L734.5,562.4 L734.8,565.1 L735.0,567.3 L735.3,569.1 L735.5,570.6 L735.8,571.7 L736.0,572.5 L736.3,573.0 L736.5,573.3 L736.8,573.3 L737.0,573.2 L737.3,572.9 L737.5,572.5 L737.8,572.0 L738.0,571.5 L738.3,570.9 L738.5,570.4 L738.8,569.8 L739.0,569.4 L739.3,569.0 L739.5,568.7 L739.8,568.6 L740.0,568.5 L740.3,568.6 L740.5,568.9 L740.8,569.3 L741.0,569.9 L741.3,570.7 L741.5,571.7 L741.8,572.8 L742.0,574.2 L742.3,575.7 L742.5,577.4 L742.8,579.2 L743.0,581.1 L743.3,583.1 L743.5,585.2 L743.8,587.4 L744.0,589.6 L744.3,591.8 L744.5,594.1 L744.8,596.3 L745.0,598.5 L745.3,600.7 L745.5,602.8 L745.8,604.8 L746.0,606.8 L746.3,608.7 L746.5,610.4 L746.8,612.1 L747.0,613.7 L747.3,615.1 L747.5,616.5 L747.8,617.7 L748.0,618.9 L748.3,619.9 L748.5,620.8 L748.8,621.7 L749.0,622.5 L749.3,623.1 L749.5,623.8 L749.8,624.3 L750.0,624.8 L750.3,625.2 L750.5,625.5 L750.8,625.8 L751.0,626.1 L751.3,626.3 L751.5,626.5 L751.8,626.6 L752.0,626.8 L752.3,626.8 L752.5,626.9 L752.8,627.0 L753.0,627.0 L753.3,627.0 L753.5,627.0 L753.8,626.9 L754.0,626.9 L754.3,626.9 L754.5,626.8 L754.8,626.7 L755.0,626.6 L755.3,626.5 L755.5,626.4 L755.8,626.3 L756.0,626.2 L756.3,626.1 L756.5,625.9 L756.8,625.8 L757.0,625.7 L757.3,625.5 L757.5,625.4 L757.8,625.2 L758.0,625.1 L758.3,625.0 L758.5,624.8 L758.8,624.7 L759.0,624.6 L759.3,624.5 L759.5,624.4 L759.8,624.3 L760.0,624.2 L760.3,624.1 L760.5,624.0 L760.8,624.0 L761.0,623.9 L761.3,623.9 L761.5,623.9 L761.8,623.8 L762.0,623.8 L762.3,623.8 L762.5,623.8 L762.8,623.8 L763.0,623.7 L763.3,623.7 L763.5,623.7 L763.8,623.7 L764.0,623.7 L764.3,623.7 L764.5,623.7 L764.8,623.7 L765.0,623.7 L765.3,623.7 L765.5,623.7 L765.8,623.7 L766.0,623.7 L766.3,623.7 L766.5,623.7 L766.8,623.7 L767.0,623.7 L767.3,623.8 L767.5,623.8 L767.8,623.8 L768.0,623.8 L768.3,623.8 L768.5,623.8 L768.8,623.8 L769.0,623.8 L769.3,623.8 L769.5,623.8 L769.8,623.8 L770.0,623.8 L770.3,623.8 L770.5,623.8 L770.8,623.8 L771.0,623.8 L771.3,623.7 L771.5,623.7 L771.8,623.7 L772.0,623.7 L772.3,623.7 L772.5,623.7 L772.8,623.7 L773.0,623.6 L773.3,623.6 L773.5,623.6 L773.8,623.6 L774.0,623.6 L774.3,623.5 L774.5,623.5 L774.8,623.5 L775.0,623.5 L775.3,623.5 L775.5,623.4 L775.8,623.4 L776.0,623.4 L776.3,623.4 L776.5,623.3 L776.8,623.3 L777.0,623.3 L777.3,623.3 L777.5,623.3 L777.8,623.3 L778.0,623.3 L778.3,623.3 L778.5,623.3 L778.8,623.3 L779.0,623.3 L779.3,623.3 L779.5,623.4 L779.8,623.4 L780.0,623.4 L780.3,623.5 L780.5,623.5 L780.8,623.6 L781.0,623.6 L781.3,623.7 L781.5,623.8 L781.8,623.9 L782.0,624.0 L782.3,624.1 L782.5,624.3 L782.8,624.4 L783.0,624.6 L783.3,624.8 L783.5,625.0 L783.8,625.2 L784.0,625.4 L784.3,625.6 L784.5,625.8 L784.8,626.0 L785.0,626.2 L785.3,626.4 L785.5,626.5 L785.8,626.7 L786.0,626.9 L786.3,627.0 L786.5,627.2 L786.8,627.3 L787.0,627.5 L787.3,627.6 L787.5,627.7 L787.8,627.8 L788.0,627.9 L788.3,627.9 L788.5,628.0 L788.8,628.1 L789.0,628.1 L789.3,628.2 L789.5,628.2 L789.8,628.2 L790.0,628.3 L790.3,628.3 L790.5,628.3 L790.8,628.3 L791.0,628.3 L791.3,628.3 L791.5,628.3 L791.8,628.3 L792.0,628.3 L792.3,628.3 L792.5,628.3 L792.8,628.3 L793.0,628.3 L793.3,628.3 L793.5,628.3 L793.8,628.3 L794.0,628.2 L794.3,628.2 L794.5,628.2 L794.8,628.1 L795.0,628.1 L795.3,628.0 L795.5,627.9 L795.8,627.8 L796.0,627.7 L796.3,627.6 L796.5,627.5 L796.8,627.3 L797.0,627.1 L797.3,626.9 L797.5,626.7 L797.8,626.4 L798.0,626.1 L798.3,625.7 L798.5,625.4 L798.8,624.9 L799.0,624.5 L799.3,624.0 L799.5,623.4 L799.8,622.8 L800.0,622.2 L800.3,621.5 L800.5,620.9 L800.8,620.2 L801.0,619.4 L801.3,618.7 L801.5,618.0 L801.8,617.2 L802.0,616.5 L802.3,615.8 L802.5,615.1 L802.8,614.5 L803.0,614.0 L803.3,613.4 L803.5,613.0 L803.8,612.6 L804.0,612.4 L804.3,612.2 L804.5,612.1 L804.8,612.1 L805.0,612.1 L805.3,612.2 L805.5,612.4 L805.8,612.7 L806.0,613.0 L806.3,613.4 L806.5,613.8 L806.8,614.3 L807.0,614.8 L807.3,615.4 L807.5,615.9 L807.8,616.5 L808.0,617.1 L808.3,617.8 L808.5,618.4 L808.8,619.0 L809.0,619.6 L809.3,620.2 L809.5,620.7 L809.8,621.3 L810.0,621.8 L810.3,622.2 L810.5,622.6 L810.8,623.0 L811.0,623.4 L811.3,623.6 L811.5,623.9 L811.8,624.1 L812.0,624.2 L812.3,624.3 L812.5,624.3 L812.8,624.2 L813.0,624.1 L813.3,624.0 L813.5,623.8 L813.8,623.5 L814.0,623.2 L814.3,622.9 L814.5,622.5 L814.8,622.0 L815.0,621.5 L815.3,621.0 L815.5,620.5 L815.8,619.9 L816.0,619.3 L816.3,618.7 L816.5,618.2 L816.8,617.6 L817.0,617.0 L817.3,616.4 L817.5,615.9 L817.8,615.4 L818.0,615.0 L818.3,614.5 L818.5,614.2 L818.8,613.9 L819.0,613.7 L819.3,613.5 L819.5,613.4 L819.8,613.4 L820.0,613.4 L820.3,613.5 L820.5,613.6 L820.8,613.7 L821.0,613.9 L821.3,614.1 L821.5,614.3 L821.8,614.5 L822.0,614.8 L822.3,615.1 L822.5,615.4 L822.8,615.8 L823.0,616.2 L823.3,616.6 L823.5,617.0 L823.8,617.4 L824.0,617.8 L824.3,618.2 L824.5,618.7 L824.8,619.1 L825.0,619.6 L825.3,620.0 L825.5,620.5 L825.8,620.9 L826.0,621.3 L826.3,621.8 L826.5,622.2 L826.8,622.6 L827.0,623.0 L827.3,623.3 L827.5,623.7 L827.8,624.1 L828.0,624.4 L828.3,624.7 L828.5,625.0 L828.8,625.3 L829.0,625.6 L829.3,625.9 L829.5,626.1 L829.8,626.3 L830.0,626.6 L830.3,626.8 L830.5,626.9 L830.8,627.1 L831.0,627.3 L831.3,627.4 L831.5,627.6 L831.8,627.7 L832.0,627.8 L832.3,627.9 L832.5,628.0 L832.8,628.1 L833.0,628.2 L833.3,628.2 L833.5,628.3 L833.8,628.4 L834.0,628.4 L834.3,628.4 L834.5,628.5 L834.8,628.5 L835.0,628.5 L835.3,628.6 L835.5,628.6 L835.8,628.6 L836.0,628.6 L836.3,628.6 L836.5,628.7 L836.8,628.7 L837.0,628.7 L837.3,628.7 L837.5,628.7 L837.8,628.7 L838.0,628.7 L838.3,628.7 L838.5,628.7 L838.8,628.7 L839.0,628.7 L839.3,628.7 L839.5,628.7 L839.8,628.7 L840.0,628.7 L840.3,628.7 L840.5,628.7 L840.8,628.7 L841.0,628.7 L841.3,628.6 L841.5,628.6 L841.8,628.6 L842.0,628.6 L842.3,628.6 L842.5,628.6 L842.8,628.6 L843.0,628.6 L843.3,628.5 L843.5,628.5 L843.8,628.5 L844.0,628.4 L844.3,628.3 L844.5,628.3 L844.8,628.2 L845.0,628.0 L845.3,627.9 L845.5,627.7 L845.8,627.4 L846.0,627.1 L846.3,626.7 L846.5,626.3 L846.8,625.7 L847.0,625.1 L847.3,624.3 L847.5,623.4 L847.8,622.3 L848.0,621.0 L848.3,619.6 L848.5,618.0 L848.8,616.2 L849.0,614.1 L849.3,611.9 L849.5,609.4 L849.8,606.7 L850.0,603.8 L850.3,600.8 L850.5,597.6 L850.8,594.3 L851.0,590.9 L851.3,587.5 L851.5,584.1 L851.8,580.8 L852.0,577.6 L852.3,574.6 L852.5,571.9 L852.8,569.5 L853.0,567.4 L853.3,565.7 L853.5,564.4 L853.8,563.6 L854.0,563.2 L854.3,563.3 L854.5,563.7 L854.8,564.5 L855.0,565.5 L855.3,566.9 L855.5,568.5 L855.8,570.4 L856.0,572.5 L856.3,574.8 L856.5,577.3 L856.8,579.9 L857.0,582.6 L857.3,585.3 L857.5,588.1 L857.8,590.9 L858.0,593.7 L858.3,596.5 L858.5,599.1 L858.8,601.7 L859.0,604.2 L859.3,606.5 L859.5,608.7 L859.8,610.8 L860.0,612.7 L860.3,614.5 L860.5,616.2 L860.8,617.7 L861.0,619.0 L861.3,620.2 L861.5,621.3 L861.8,622.3 L862.0,623.1 L862.3,623.9 L862.5,624.5 L862.8,625.1 L863.0,625.6 L863.3,626.0 L863.5,626.3 L863.8,626.6 L864.0,626.8 L864.3,627.0 L864.5,627.2 L864.8,627.3 L865.0,627.4 L865.3,627.4 L865.5,627.4 L865.8,627.4 L866.0,627.4 L866.3,627.3 L866.5,627.3 L866.8,627.1 L867.0,627.0 L867.3,626.9 L867.5,626.7 L867.8,626.5 L868.0,626.3 L868.3,626.1 L868.5,625.8 L868.8,625.6 L869.0,625.4 L869.3,625.1 L869.5,624.9 L869.8,624.7 L870.0,624.6 L870.3,624.4 L870.5,624.3 L870.8,624.2 L871.0,624.2 L871.3,624.2 L871.5,624.2 L871.8,624.3 L872.0,624.4 L872.3,624.5 L872.5,624.6 L872.8,624.8 L873.0,624.9 L873.3,625.1 L873.5,625.3 L873.8,625.5 L874.0,625.7 L874.3,626.0 L874.5,626.2 L874.8,626.4 L875.0,626.6 L875.3,626.8 L875.5,627.0 L875.8,627.1 L876.0,627.3 L876.3,627.4 L876.5,627.6 L876.8,627.7 L877.0,627.8 L877.3,627.9 L877.5,628.0 L877.8,628.1 L878.0,628.2 L878.3,628.2 L878.5,628.3 L878.8,628.3 L879.0,628.4 L879.3,628.4 L879.5,628.4 L879.8,628.4 L880.0,628.5 L880.3,628.5 L880.5,628.5 L880.8,628.5 L881.0,628.5 L881.3,628.6 L881.5,628.6 L881.8,628.6 L882.0,628.6 L882.3,628.6 L882.5,628.6 L882.8,628.6 L883.0,628.6 L883.3,628.6 L883.5,628.6 L883.8,628.6 L884.0,628.7 L884.3,628.7 L884.5,628.7 L884.8,628.7 L885.0,628.7 L885.3,628.7 L885.5,628.7 L885.8,628.7 L886.0,628.7 L886.3,628.7 L886.5,628.7 L886.8,628.7 L887.0,628.7 L887.3,628.7 L887.5,628.7 L887.8,628.7 L888.0,628.7 L888.3,628.7 L888.5,628.7 L888.8,628.7 L889.0,628.7 L889.3,628.7 L889.5,628.7 L889.8,628.7 L890.0,628.7 L890.3,628.7 L890.5,628.8 L890.8,628.8 L891.0,628.8 L891.3,628.8 L891.5,628.8 L891.8,628.7 L892.0,628.7 L892.3,628.7 L892.5,628.7 L892.8,628.7 L893.0,628.7 L893.3,628.7 L893.5,628.7 L893.8,628.7 L894.0,628.7 L894.3,628.7 L894.5,628.7 L894.8,628.7 L895.0,628.7 L895.3,628.7 L895.5,628.7 L895.8,628.7 L896.0,628.7 L896.3,628.7 L896.5,628.7 L896.8,628.7 L897.0,628.7 L897.3,628.7 L897.5,628.7 L897.8,628.7 L898.0,628.6 L898.3,628.6 L898.5,628.6 L898.8,628.6 L899.0,628.6 L899.3,628.6 L899.5,628.6 L899.8,628.6 L900.0,628.6 L900.3,628.6 L900.5,628.6 L900.8,628.6 L901.0,628.6 L901.3,628.5 L901.5,628.5 L901.8,628.5 L902.0,628.5 L902.3,628.5 L902.5,628.5 L902.8,628.5 L903.0,628.5 L903.3,628.5 L903.5,628.5 L903.8,628.5 L904.0,628.4 L904.3,628.4 L904.5,628.4 L904.8,628.4 L905.0,628.4 L905.3,628.4 L905.5,628.4 L905.8,628.4 L906.0,628.4 L906.3,628.4 L906.5,628.3 L906.8,628.3 L907.0,628.3 L907.3,628.3 L907.5,628.3 L907.8,628.3 L908.0,628.3 L908.3,628.3 L908.5,628.3 L908.8,628.3 L909.0,628.3 L909.3,628.2 L909.5,628.2 L909.8,628.2 L910.0,628.2 L910.3,628.2 L910.5,628.2 L910.8,628.2 L911.0,628.2 L911.3,628.2 L911.5,628.2 L911.8,628.2 L912.0,628.2 L912.3,628.2 L912.5,628.1 L912.8,628.1 L913.0,628.1 L913.3,628.1 L913.5,628.1 L913.8,628.1 L914.0,628.1 L914.3,628.1 L914.5,628.1 L914.8,628.1 L915.0,628.1 L915.3,628.1 L915.5,628.1 L915.8,628.1 L916.0,628.1 L916.3,628.1 L916.5,628.1 L916.8,628.0 L917.0,628.0 L917.3,628.0 L917.5,628.0 L917.8,628.0 L918.0,628.0 L918.3,628.0 L918.5,628.0 L918.8,628.0 L919.0,628.0 L919.3,628.0 L919.5,627.9 L919.8,627.9 L920.0,627.9 L920.3,627.9 L920.5,627.9 L920.8,627.8 L921.0,627.8 L921.3,627.8 L921.5,627.7 L921.8,627.7 L922.0,627.6 L922.3,627.6 L922.5,627.5 L922.8,627.5 L923.0,627.4 L923.3,627.4 L923.5,627.3 L923.8,627.2 L924.0,627.2 L924.3,627.1 L924.5,627.0 L924.8,626.9 L925.0,626.9 L925.3,626.8 L925.5,626.7 L925.8,626.6 L926.0,626.6 L926.3,626.5 L926.5,626.4 L926.8,626.4 L927.0,626.3 L927.3,626.2 L927.5,626.2 L927.8,626.1 L928.0,626.1 L928.3,626.1 L928.5,626.1 L928.8,626.0 L929.0,626.0 L929.3,626.0 L929.5,626.1 L929.8,626.1 L930.0,626.1 L930.3,626.2 L930.5,626.2 L930.8,626.3 L931.0,626.3 L931.3,626.4 L931.5,626.5 L931.8,626.5 L932.0,626.6 L932.3,626.7 L932.5,626.8 L932.8,626.9 L933.0,627.0 L933.3,627.1 L933.5,627.2 L933.8,627.2 L934.0,627.3 L934.3,627.4 L934.5,627.5 L934.8,627.6 L935.0,627.7 L935.3,627.8 L935.5,627.8 L935.8,627.9 L936.0,628.0 L936.3,628.0 L936.5,628.1 L936.8,628.2 L937.0,628.2 L937.3,628.3 L937.5,628.3 L937.8,628.3 L938.0,628.4 L938.3,628.4 L938.5,628.4 L938.8,628.5 L939.0,628.5 L939.3,628.5 L939.5,628.5 L939.8,628.6 L940.0,628.6 L940.3,628.6 L940.5,628.6 L940.8,628.6 L941.0,628.6 L941.3,628.6 L941.5,628.7 L941.8,628.7 L942.0,628.7 L942.3,628.7 L942.5,628.7 L942.8,628.7 L943.0,628.7 L943.3,628.7 L943.5,628.7 L943.8,628.7 L944.0,628.7 L944.3,628.7 L944.5,628.7 L944.8,628.7 L945.0,628.7 L945.3,628.7 L945.5,628.7 L945.8,628.7 L946.0,628.7 L946.3,628.7 L946.5,628.7 L946.8,628.7 L947.0,628.7 L947.3,628.7 L947.5,628.7 L947.8,628.7 L948.0,628.7 L948.3,628.7 L948.5,628.7 L948.8,628.7 L949.0,628.7 L949.3,628.6 L949.5,628.6 L949.8,628.6 L950.0,628.6 L950.3,628.6 L950.5,628.6 L950.8,628.5 L951.0,628.5 L951.3,628.5 L951.5,628.5 L951.8,628.5 L952.0,628.4 L952.3,628.4 L952.5,628.4 L952.8,628.3 L953.0,628.3 L953.3,628.3 L953.5,628.2 L953.8,628.2 L954.0,628.2 L954.3,628.1 L954.5,628.1 L954.8,628.1 L955.0,628.0 L955.3,628.0 L955.5,628.0 L955.8,627.9 L956.0,627.9 L956.3,627.8 L956.5,627.8 L956.8,627.8 L957.0,627.7 L957.3,627.7 L957.5,627.7 L957.8,627.6 L958.0,627.6 L958.3,627.6 L958.5,627.6 L958.8,627.5 L959.0,627.5 L959.3,627.5 L959.5,627.5 L959.8,627.5 L960.0,627.5 L960.3,627.5 L960.5,627.5 L960.8,627.5 L961.0,627.4 L961.3,627.5 L961.5,627.5 L961.8,627.5 L962.0,627.5 L962.3,627.5 L962.5,627.5 L962.8,627.5 L963.0,627.5 L963.3,627.5 L963.5,627.6 L963.8,627.6 L964.0,627.6 L964.3,627.6 L964.5,627.6 L964.8,627.7 L965.0,627.7 L965.3,627.7 L965.5,627.7 L965.8,627.7 L966.0,627.8 L966.3,627.8 L966.5,627.8 L966.8,627.8 L967.0,627.8 L967.3,627.9 L967.5,627.9 L967.8,627.9 L968.0,627.9 L968.3,627.9 L968.5,627.9 L968.8,627.9 L969.0,628.0 L969.3,628.0 L969.5,628.0 L969.8,628.0 L970.0,628.0 L970.3,628.0 L970.5,628.0 L970.8,628.0 L971.0,628.0 L971.3,628.0 L971.5,628.0 L971.8,628.0 L972.0,628.0 L972.3,628.0 L972.5,628.0 L972.8,628.0 L973.0,628.0 L973.3,628.0 L973.5,628.0 L973.8,628.0 L974.0,628.0 L974.3,628.0 L974.5,628.0 L974.8,628.0 L975.0,628.0 L975.3,628.0 L975.5,628.0 L975.8,628.0 L976.0,628.0 L976.3,628.1 L976.5,628.1 L976.8,628.1 L977.0,628.1 L977.3,628.1 L977.5,628.1 L977.8,628.1 L978.0,628.1 L978.3,628.1 L978.5,628.1 L978.8,628.1 L979.0,628.1 L979.3,628.1 L979.5,628.1 L979.8,628.1 L980.0,628.1 L980.3,628.1 L980.5,628.1 L980.8,628.1 L981.0,628.1 L981.3,628.1 L981.5,628.1 L981.8,628.1 L982.0,628.1 L982.3,628.1 L982.5,628.1 L982.8,628.2 L983.0,628.2 L983.3,628.2 L983.5,628.2 L983.8,628.2 L984.0,628.2 L984.3,628.2 L984.5,628.2 L984.8,628.2 L985.0,628.2 L985.3,628.2 L985.5,628.2 L985.8,628.2 L986.0,628.2 L986.3,628.2 L986.5,628.2 L986.8,628.2 L987.0,628.1 L987.3,628.1 L987.5,628.1 L987.8,628.1 L988.0,628.1 L988.3,628.0 L988.5,628.0 L988.8,627.9 L989.0,627.9 L989.3,627.8 L989.5,627.8 L989.8,627.7 L990.0,627.7 L990.3,627.6 L990.5,627.5 L990.8,627.4 L991.0,627.4 L991.3,627.3 L991.5,627.2 L991.8,627.1 L992.0,627.0 L992.3,626.9 L992.5,626.9 L992.8,626.8 L993.0,626.7 L993.3,626.6 L993.5,626.6 L993.8,626.5 L994.0,626.5 L994.3,626.4 L994.5,626.4 L994.8,626.4 L995.0,626.4 L995.3,626.4 L995.5,626.4 L995.8,626.5 L996.0,626.5 L996.3,626.5 L996.5,626.6 L996.8,626.7 L997.0,626.7 L997.3,626.8 L997.5,626.9 L997.8,627.0 L998.0,627.1 L998.3,627.2 L998.5,627.3 L998.8,627.4 L999.0,627.5 L999.3,627.6 L999.5,627.7 L999.8,627.8 L1000.0,627.9 L1000.3,628.0 L1000.5,628.0 L1000.8,628.1 L1001.0,628.2 L1001.3,628.3 L1001.5,628.3 L1001.8,628.4 L1002.0,628.4 L1002.3,628.5 L1002.5,628.5 L1002.8,628.5 L1003.0,628.6 L1003.3,628.6 L1003.5,628.6 L1003.8,628.7 L1004.0,628.7 L1004.3,628.7 L1004.5,628.7 L1004.8,628.7 L1005.0,628.7 L1005.3,628.7 L1005.5,628.7 L1005.8,628.7 L1006.0,628.7 L1006.3,628.7 L1006.5,628.7 L1006.8,628.7 L1007.0,628.7 L1007.3,628.7 L1007.5,628.7 L1007.8,628.7 L1008.0,628.7 L1008.3,628.7 L1008.5,628.7 L1008.8,628.7 L1009.0,628.7 L1009.3,628.7 L1009.5,628.7 L1009.8,628.7 L1010.0,628.7 L1010.3,628.7 L1010.5,628.7 L1010.8,628.7 L1011.0,628.7 L1011.3,628.7 L1011.5,628.6 L1011.8,628.6 L1012.0,628.6 L1012.3,628.6 L1012.5,628.6 L1012.8,628.6 L1013.0,628.6 L1013.3,628.6 L1013.5,628.6 L1013.8,628.6 L1014.0,628.6 L1014.3,628.6 L1014.5,628.5 L1014.8,628.5 L1015.0,628.5 L1015.3,628.5 L1015.5,628.5 L1015.8,628.5 L1016.0,628.5 L1016.3,628.5 L1016.5,628.5 L1016.8,628.5 L1017.0,628.4 L1017.3,628.4 L1017.5,628.4 L1017.8,628.4 L1018.0,628.4 L1018.3,628.4 L1018.5,628.4 L1018.8,628.3 L1019.0,628.3 L1019.3,628.3 L1019.5,628.3 L1019.8,628.2 L1020.0,628.2 L1020.3,628.2 L1020.5,628.1 L1020.8,628.1 L1021.0,628.0 L1021.3,628.0 L1021.5,627.9 L1021.8,627.9 L1022.0,627.8 L1022.3,627.7 L1022.5,627.6 L1022.8,627.5 L1023.0,627.4 L1023.3,627.3 L1023.5,627.2 L1023.8,627.1 L1024.0,627.0 L1024.3,626.9 L1024.5,626.8 L1024.8,626.6 L1025.0,626.5 L1025.3,626.4 L1025.5,626.2 L1025.8,626.1 L1026.0,626.0 L1026.3,625.9 L1026.5,625.8 L1026.8,625.7 L1027.0,625.6 L1027.3,625.5 L1027.5,625.4 L1027.8,625.4 L1028.0,625.3 L1028.3,625.3 L1028.5,625.3 L1028.8,625.3 L1029.0,625.3 L1029.3,625.3 L1029.5,625.4 L1029.8,625.4 L1030.0,625.5 L1030.3,625.6 L1030.5,625.7 L1030.8,625.8 L1031.0,625.9 L1031.3,626.0 L1031.5,626.1 L1031.8,626.2 L1032.0,626.3 L1032.3,626.5 L1032.5,626.6 L1032.8,626.7 L1033.0,626.8 L1033.3,626.9 L1033.5,627.0 L1033.8,627.1 L1034.0,627.2 L1034.3,627.3 L1034.5,627.4 L1034.8,627.5 L1035.0,627.5 L1035.3,627.6 L1035.5,627.6 L1035.8,627.7 L1036.0,627.7 L1036.3,627.8 L1036.5,627.8 L1036.8,627.8 L1037.0,627.8 L1037.3,627.8 L1037.5,627.8 L1037.8,627.8 L1038.0,627.8 L1038.3,627.8 L1038.5,627.8 L1038.8,627.8 L1039.0,627.7 L1039.3,627.7 L1039.5,627.6 L1039.8,627.6 L1040.0,627.5 L1040.3,627.5 L1040.5,627.4 L1040.8,627.3 L1041.0,627.2 L1041.3,627.2 L1041.5,627.1 L1041.8,627.0 L1042.0,626.8 L1042.3,626.7 L1042.5,626.6 L1042.8,626.5 L1043.0,626.3 L1043.3,626.2 L1043.5,626.0 L1043.8,625.9 L1044.0,625.7 L1044.3,625.5 L1044.5,625.4 L1044.8,625.2 L1045.0,625.0 L1045.3,624.8 L1045.5,624.6 L1045.8,624.5 L1046.0,624.3 L1046.3,624.1 L1046.5,623.9 L1046.8,623.7 L1047.0,623.5 L1047.3,623.4 L1047.5,623.2 L1047.8,623.0 L1048.0,622.9 L1048.3,622.7 L1048.5,622.6 L1048.8,622.4 L1049.0,622.2 L1049.3,622.1 L1049.5,621.9 L1049.8,621.7 L1050.0,621.5 L1050.3,621.3 L1050.5,620.9 L1050.8,620.5 L1051.0,620.1 L1051.3,619.7 L1051.5,619.3 L1051.8,618.7 L1052.0,618.0 L1052.3,617.1 L1052.5,615.8 L1052.8,614.0 L1053.0,611.9 L1053.3,609.1 L1053.5,605.8 L1053.8,601.7 L1054.0,597.0 L1054.3,591.6 L1054.5,585.5 L1054.8,578.7 L1055.0,571.3 L1055.3,563.2 L1055.5,554.7 L1055.8,545.7 L1056.0,536.4 L1056.3,527.1 L1056.5,517.7 L1056.8,508.6 L1057.0,499.8 L1057.3,491.7 L1057.5,484.3 L1057.8,477.8 L1058.0,472.5 L1058.3,468.4 L1058.5,465.7 L1058.8,464.4 L1059.0,464.4 L1059.3,465.2 L1059.5,466.8 L1059.8,469.2 L1060.0,472.3 L1060.3,476.0 L1060.5,480.5 L1060.8,485.5 L1061.0,491.1 L1061.3,497.1 L1061.5,503.5 L1061.8,510.3 L1062.0,517.2 L1062.3,524.3 L1062.5,531.4 L1062.8,538.5 L1063.0,545.6 L1063.3,552.4 L1063.5,559.1 L1063.8,565.4 L1064.0,571.5 L1064.3,577.2 L1064.5,582.6 L1064.8,587.6 L1065.0,592.2 L1065.3,596.4 L1065.5,600.2 L1065.8,603.7 L1066.0,606.8 L1066.3,609.5 L1066.5,612.0 L1066.8,614.1 L1067.0,616.0 L1067.3,617.7 L1067.5,619.1 L1067.8,620.4 L1068.0,621.4 L1068.3,622.3 L1068.5,623.1 L1068.8,623.8 L1069.0,624.3 L1069.3,624.8 L1069.5,625.2 L1069.8,625.5 L1070.0,625.8 L1070.3,626.0 L1070.5,626.2 L1070.8,626.4 L1071.0,626.5 L1071.3,626.6 L1071.5,626.7 L1071.8,626.7 L1072.0,626.7 L1072.3,626.8 L1072.5,626.7 L1072.8,626.7 L1073.0,626.6 L1073.3,626.5 L1073.5,626.4 L1073.8,626.3 L1074.0,626.1 L1074.3,625.9 L1074.5,625.6 L1074.8,625.3 L1075.0,624.9 L1075.3,624.5 L1075.5,624.0 L1075.8,623.5 L1076.0,623.0 L1076.3,622.4 L1076.5,621.7 L1076.8,621.0 L1077.0,620.3 L1077.3,619.6 L1077.5,618.8 L1077.8,618.1 L1078.0,617.3 L1078.3,616.5 L1078.5,615.8 L1078.8,615.1 L1079.0,614.5 L1079.3,613.9 L1079.5,613.5 L1079.8,613.0 L1080.0,612.7 L1080.3,612.5 L1080.5,612.4 L1080.8,612.4 L1081.0,612.5 L1081.3,612.6 L1081.5,612.8 L1081.8,613.1 L1082.0,613.4 L1082.3,613.7 L1082.5,614.2 L1082.8,614.6 L1083.0,615.1 L1083.3,615.7 L1083.5,616.3 L1083.8,616.8 L1084.0,617.5 L1084.3,618.1 L1084.5,618.7 L1084.8,619.3 L1085.0,619.9 L1085.3,620.5 L1085.5,621.1 L1085.8,621.7 L1086.0,622.2 L1086.3,622.8 L1086.5,623.3 L1086.8,623.7 L1087.0,624.2 L1087.3,624.6 L1087.5,625.0 L1087.8,625.3 L1088.0,625.6 L1088.3,625.9 L1088.5,626.2 L1088.8,626.4 L1089.0,626.6 L1089.3,626.8 L1089.5,627.0 L1089.8,627.2 L1090.0,627.3 L1090.3,627.4 L1090.5,627.5 L1090.8,627.6 L1091.0,627.7 L1091.3,627.8 L1091.5,627.8 L1091.8,627.9 L1092.0,627.9 L1092.3,628.0 L1092.5,628.0 L1092.8,628.0 L1093.0,628.0 L1093.3,628.1 L1093.5,628.1 L1093.8,628.1 L1094.0,628.1 L1094.3,628.1 L1094.5,628.1 L1094.8,628.2 L1095.0,628.2 L1095.3,628.2 L1095.5,628.2 L1095.8,628.2 L1096.0,628.2 L1096.3,628.2 L1096.5,628.2 L1096.8,628.2 L1097.0,628.2 L1097.3,628.3 L1097.5,628.3 L1097.8,628.3 L1098.0,628.3 L1098.3,628.3 L1098.5,628.3 L1098.8,628.3 L1099.0,628.3 L1099.3,628.3 L1099.5,628.3 L1099.8,628.3 L1100.0,628.4 L1100.3,628.4 L1100.5,628.4 L1100.8,628.4 L1101.0,628.4 L1101.3,628.4 L1101.5,628.4 L1101.8,628.4 L1102.0,628.4 L1102.3,628.5 L1102.5,628.5 L1102.8,628.5 L1103.0,628.5 L1103.3,628.5 L1103.5,628.5 L1103.8,628.5 L1104.0,628.5 L1104.3,628.5 L1104.5,628.5 L1104.8,628.6 L1105.0,628.6 L1105.3,628.6 L1105.5,628.6 L1105.8,628.6 L1106.0,628.6 L1106.3,628.6 L1106.5,628.6 L1106.8,628.6 L1107.0,628.6 L1107.3,628.7 L1107.5,628.7 L1107.8,628.7 L1108.0,628.7 L1108.3,628.7 L1108.5,628.7 L1108.8,628.7 L1109.0,628.7 L1109.3,628.7 L1109.5,628.7 L1109.8,628.7 L1110.0,628.8 L1110.3,628.8 L1110.5,628.8 L1110.8,628.8 L1111.0,628.8 L1111.3,628.8 L1111.5,628.8 L1111.8,628.8 L1112.0,628.8 L1112.3,628.8 L1112.5,628.8 L1112.8,628.8 L1113.0,628.8 L1113.3,628.8 L1113.5,628.8 L1113.8,628.8 L1114.0,628.8 L1114.3,628.8 L1114.5,628.9 L1114.8,628.9 L1115.0,628.9 L1115.3,628.9 L1115.5,628.9 L1115.8,628.9 L1116.0,628.9 L1116.3,628.9 L1116.5,628.9 L1116.8,628.9 L1117.0,628.9 L1117.3,628.9 L1117.5,628.9 L1117.8,628.9 L1118.0,628.9 L1118.3,628.9 L1118.5,628.8 L1118.8,628.8 L1119.0,628.8 L1119.3,628.8 L1119.5,628.8 L1119.8,628.7 L1120.0,628.7 L1120.3,628.6 L1120.5,628.6 L1120.8,628.5 L1121.0,628.4 L1121.3,628.3 L1121.5,628.1 L1121.8,628.0 L1122.0,627.8 L1122.3,627.6 L1122.5,627.4 L1122.8,627.1 L1123.0,626.9 L1123.3,626.6 L1123.5,626.3 L1123.8,626.0 L1124.0,625.7 L1124.3,625.4 L1124.5,625.2 L1124.8,624.9 L1125.0,624.7 L1125.3,624.5 L1125.5,624.3 L1125.8,624.2 L1126.0,624.2 L1126.3,624.1 L1126.5,624.2 L1126.8,624.2 L1127.0,624.3 L1127.3,624.4 L1127.5,624.5 L1127.8,624.6 L1128.0,624.8 L1128.3,625.0 L1128.5,625.2 L1128.8,625.3 L1129.0,625.6 L1129.3,625.8 L1129.5,626.0 L1129.8,626.2 L1130.0,626.4 L1130.3,626.6 L1130.5,626.8 L1130.8,626.9 L1131.0,627.1 L1131.3,627.3 L1131.5,627.4 L1131.8,627.6 L1132.0,627.7 L1132.3,627.8 L1132.5,627.9 L1132.8,628.0 L1133.0,628.0 L1133.3,628.1 L1133.5,628.2 L1133.8,628.2 L1134.0,628.2 L1134.3,628.3 L1134.5,628.3 L1134.8,628.3 L1135.0,628.3 L1135.3,628.4 L1135.5,628.4 L1135.8,628.4 L1136.0,628.4 L1136.3,628.4 L1136.5,628.4 L1136.8,628.4 L1137.0,628.4 L1137.3,628.4 L1137.5,628.4 L1137.8,628.4 L1138.0,628.3 L1138.3,628.3 L1138.5,628.3 L1138.8,628.3 L1139.0,628.3 L1139.3,628.3 L1139.5,628.3 L1139.8,628.3 L1140.0,628.3 L1140.3,628.3 L1140.5,628.3 L1140.8,628.3 L1141.0,628.3 L1141.3,628.3 L1141.5,628.3 L1141.8,628.3 L1142.0,628.3 L1142.3,628.3 L1142.5,628.3 L1142.8,628.3 L1143.0,628.3 L1143.3,628.3 L1143.5,628.3 L1143.8,628.3 L1144.0,628.3 L1144.3,628.3 L1144.5,628.3 L1144.8,628.3 L1145.0,628.3 L1145.3,628.3 L1145.5,628.3 L1145.8,628.3 L1146.0,628.3 L1146.3,628.3 L1146.5,628.3 L1146.8,628.3 L1147.0,628.3 L1147.3,628.3 L1147.5,628.3 L1147.8,628.3 L1148.0,628.3 L1148.3,628.3 L1148.5,628.3 L1148.8,628.3 L1149.0,628.3 L1149.3,628.3 L1149.5,628.3 L1149.8,628.3 L1150.0,628.3 L1150.3,628.3 L1150.5,628.3 L1150.8,628.3 L1151.0,628.4 L1151.3,628.4 L1151.5,628.4 L1151.8,628.4 L1152.0,628.4 L1152.3,628.4 L1152.5,628.4 L1152.8,628.4 L1153.0,628.4 L1153.3,628.4 L1153.5,628.4 L1153.8,628.4 L1154.0,628.5 L1154.3,628.5 L1154.5,628.5 L1154.8,628.5 L1155.0,628.5 L1155.3,628.5 L1155.5,628.5 L1155.8,628.5 L1156.0,628.5 L1156.3,628.5 L1156.5,628.5 L1156.8,628.6 L1157.0,628.6 L1157.3,628.6 L1157.5,628.6 L1157.8,628.6 L1158.0,628.6 L1158.3,628.6 L1158.5,628.6 L1158.8,628.6 L1159.0,628.7 L1159.3,628.7 L1159.5,628.7 L1159.8,628.7 L1160.0,628.7 L1160.3,628.7 L1160.5,628.7 L1160.8,628.7 L1161.0,628.7 L1161.3,628.8 L1161.5,628.8 L1161.8,628.8 L1162.0,628.8 L1162.3,628.8 L1162.5,628.8 L1162.8,628.8 L1163.0,628.8 L1163.3,628.8 L1163.5,628.8 L1163.8,628.9 L1164.0,628.9 L1164.3,628.9 L1164.5,628.9 L1164.8,628.9 L1165.0,628.9 L1165.3,628.9 L1165.5,628.9 L1165.8,628.9 L1166.0,628.9 L1166.3,628.9 L1166.5,629.0 L1166.8,629.0 L1167.0,629.0 L1167.3,629.0 L1167.5,629.0 L1167.8,629.0 L1168.0,629.0 L1168.3,629.0 L1168.5,629.0 L1168.8,629.0 L1169.0,629.0 L1169.3,629.0 L1169.5,628.9 L1169.8,628.9 L1170.0,628.9 L1170.3,628.8 L1170.5,628.8 L1170.8,628.7 L1171.0,628.6 L1171.3,628.5 L1171.5,628.4 L1171.8,628.2 L1172.0,628.0 L1172.3,627.9 L1172.5,627.6 L1172.8,627.4 L1173.0,627.1 L1173.3,626.9 L1173.5,626.6 L1173.8,626.3 L1174.0,626.0 L1174.3,625.7 L1174.5,625.5 L1174.8,625.2 L1175.0,625.0 L1175.3,624.8 L1175.5,624.7 L1175.8,624.6 L1176.0,624.5 L1176.3,624.5 L1176.5,624.5 L1176.8,624.6 L1177.0,624.6 L1177.3,624.7 L1177.5,624.9 L1177.8,625.0 L1178.0,625.2 L1178.3,625.4 L1178.5,625.6 L1178.8,625.8 L1179.0,626.0 L1179.3,626.2 L1179.5,626.4 L1179.8,626.6 L1180.0,626.8 L1180.3,627.0 L1180.5,627.2 L1180.8,627.4 L1181.0,627.6 L1181.3,627.7 L1181.5,627.9 L1181.8,628.0 L1182.0,628.1 L1182.3,628.2 L1182.5,628.3 L1182.8,628.4 L1183.0,628.5 L1183.3,628.6 L1183.5,628.6 L1183.8,628.7 L1184.0,628.7 L1184.3,628.7 L1184.5,628.8 L1184.8,628.8 L1185.0,628.8 L1185.3,628.8 L1185.5,628.8 L1185.8,628.8 L1186.0,628.8 L1186.3,628.8 L1186.5,628.8 L1186.8,628.8 L1187.0,628.8 L1187.3,628.8 L1187.5,628.8 L1187.8,628.8 L1188.0,628.8 L1188.3,628.8 L1188.5,628.8 L1188.8,628.8 L1189.0,628.8 L1189.3,628.8 L1189.5,628.8 L1189.8,628.7 L1190.0,628.7 L1190.3,628.7 L1190.5,628.7 L1190.8,628.7 L1191.0,628.7 L1191.3,628.7 L1191.5,628.7 L1191.8,628.7 L1192.0,628.7 L1192.3,628.7 L1192.5,628.7 L1192.8,628.7 L1193.0,628.7 L1193.3,628.6 L1193.5,628.6 L1193.8,628.6 L1194.0,628.6 L1194.3,628.6 L1194.5,628.6 L1194.8,628.6 L1195.0,628.6 L1195.3,628.6 L1195.5,628.6 L1195.8,628.6 L1196.0,628.6 L1196.3,628.6 L1196.5,628.6 L1196.8,628.6 L1197.0,628.6 L1197.3,628.6 L1197.5,628.6 L1197.8,628.6 L1198.0,628.6 L1198.3,628.5 L1198.5,628.5 L1198.8,628.5 L1199.0,628.5 L1199.3,628.5 L1199.5,628.5 L1199.8,628.5 L1200.0,628.5 L1200.3,628.5 L1200.5,628.5 L1200.8,628.5 L1201.0,628.5 L1201.3,628.5 L1201.5,628.5 L1201.8,628.5 L1202.0,628.5 L1202.3,628.5 L1202.5,628.5 L1202.8,628.5 L1203.0,628.5 L1203.3,628.5 L1203.5,628.5 L1203.8,628.6 L1204.0,628.6 L1204.3,628.6 L1204.5,628.6 L1204.8,628.6 L1205.0,628.6 L1205.3,628.6 L1205.5,628.6 L1205.8,628.6 L1206.0,628.6 L1206.3,628.6 L1206.5,628.6 L1206.8,628.6 L1207.0,628.6 L1207.3,628.6 L1207.5,628.6 L1207.8,628.6 L1208.0,628.6 L1208.3,628.7 L1208.5,628.7 L1208.8,628.7 L1209.0,628.7 L1209.3,628.7 L1209.5,628.7 L1209.8,628.7 L1210.0,628.7 L1210.3,628.7 L1210.5,628.7 L1210.8,628.7 L1211.0,628.7 L1211.3,628.7 L1211.5,628.7 L1211.8,628.7 L1212.0,628.7 L1212.3,628.7 L1212.5,628.7 L1212.8,628.6 L1213.0,628.6 L1213.3,628.6 L1213.5,628.5 L1213.8,628.4 L1214.0,628.4 L1214.3,628.3 L1214.5,628.2 L1214.8,628.0 L1215.0,627.9 L1215.3,627.7 L1215.5,627.6 L1215.8,627.4 L1216.0,627.2 L1216.3,627.0 L1216.5,626.7 L1216.8,626.5 L1217.0,626.2 L1217.3,626.0 L1217.5,625.7 L1217.8,625.5 L1218.0,625.3 L1218.3,625.1 L1218.5,624.9 L1218.8,624.7 L1219.0,624.6 L1219.3,624.4 L1219.5,624.4 L1219.8,624.3 L1220.0,624.3 L1220.3,624.3 L1220.5,624.4 L1220.8,624.5 L1221.0,624.5 L1221.3,624.6 L1221.5,624.8 L1221.8,624.9 L1222.0,625.1 L1222.3,625.2 L1222.5,625.4 L1222.8,625.6 L1223.0,625.8 L1223.3,626.0 L1223.5,626.1 L1223.8,626.3 L1224.0,626.5 L1224.3,626.7 L1224.5,626.9 L1224.8,627.1 L1225.0,627.3 L1225.3,627.5 L1225.5,627.7 L1225.8,627.8 L1226.0,628.0 L1226.3,628.1 L1226.5,628.2 L1226.8,628.4 L1227.0,628.5 L1227.3,628.6 L1227.5,628.7 L1227.8,628.8 L1228.0,628.8 L1228.3,628.9 L1228.5,629.0 L1228.8,629.0 L1229.0,629.1 L1229.3,629.1 L1229.5,629.2 L1229.8,629.2 L1230.0,629.2 L1230.3,629.3 L1230.5,629.3 L1230.8,629.3 L1231.0,629.3 L1231.3,629.3 L1231.5,629.3 L1231.8,629.3 L1232.0,629.3 L1232.3,629.4 L1232.5,629.4 L1232.8,629.4 L1233.0,629.4 L1233.3,629.4 L1233.5,629.4 L1233.8,629.4 L1234.0,629.4 L1234.3,629.4 L1234.5,629.4 L1234.8,629.4 L1235.0,629.4 L1235.3,629.3 L1235.5,629.3 L1235.8,629.3 L1236.0,629.3 L1236.3,629.3 L1236.5,629.3 L1236.8,629.3 L1237.0,629.3 L1237.3,629.3 L1237.5,629.3 L1237.8,629.3 L1238.0,629.3 L1238.3,629.3 L1238.5,629.3 L1238.8,629.3 L1239.0,629.3 L1239.3,629.3 L1239.5,629.3 L1239.8,629.2 L1240.0,629.2 L1240.3,629.2 L1240.5,629.2 L1240.8,629.2 L1241.0,629.2 L1241.3,629.2 L1241.5,629.2 L1241.8,629.2 L1242.0,629.2 L1242.3,629.2 L1242.5,629.2 L1242.8,629.2 L1243.0,629.1 L1243.3,629.1 L1243.5,629.1 L1243.8,629.1 L1244.0,629.1 L1244.3,629.1 L1244.5,629.1 L1244.8,629.1 L1245.0,629.1 L1245.3,629.1 L1245.5,629.1 L1245.8,629.1 L1246.0,629.0 L1246.3,629.0 L1246.5,629.0 L1246.8,629.0 L1247.0,629.0 L1247.3,629.0 L1247.5,629.0 L1247.8,629.0 L1248.0,629.0 L1248.3,629.0 L1248.5,629.0 L1248.8,629.0 L1249.0,629.0 L1249.3,628.9 L1249.5,628.9 L1249.8,628.9 L1250.0,628.9 L1250.3,628.9 L1250.5,628.9 L1250.8,628.9 L1251.0,628.9 L1251.3,628.9 L1251.5,628.9 L1251.8,628.9 L1252.0,628.9 L1252.3,628.9 L1252.5,628.9 L1252.8,628.9 L1253.0,628.9 L1253.3,628.9 L1253.5,628.8 L1253.8,628.8 L1254.0,628.8 L1254.3,628.8 L1254.5,628.8 L1254.8,628.8 L1255.0,628.8 L1255.3,628.8 L1255.5,628.8 L1255.8,628.8 L1256.0,628.8 L1256.3,628.8 L1256.5,628.8 L1256.8,628.8 L1257.0,628.8 L1257.3,628.8 L1257.5,628.8 L1257.8,628.8 L1258.0,628.8 L1258.3,628.8 L1258.5,628.8 L1258.8,628.8 L1259.0,628.8 L1259.3,628.8 L1259.5,628.8 L1259.8,628.8 L1260.0,628.8 L1260.3,628.8 L1260.5,628.8 L1260.8,628.8 L1261.0,628.8 L1261.3,628.9 L1261.5,628.9 L1261.8,628.9 L1262.0,628.9 L1262.3,628.9 L1262.5,628.9 L1262.8,628.9 L1263.0,628.9 L1263.3,628.9 L1263.5,628.9 L1263.8,628.9 L1264.0,628.9 L1264.3,628.9 L1264.5,628.9 L1264.8,628.9 L1265.0,628.9 L1265.3,629.0 L1265.5,629.0 L1265.8,629.0 L1266.0,629.0 L1266.3,629.0 L1266.5,629.0 L1266.8,629.0 L1267.0,629.0 L1267.3,629.0 L1267.5,629.0 L1267.8,629.0 L1268.0,629.1 L1268.3,629.1 L1268.5,629.1 L1268.8,629.1 L1269.0,629.1 L1269.3,629.1 L1269.5,629.1 L1269.8,629.1 L1270.0,629.1 L1270.3,629.1 L1270.5,629.2 L1270.8,629.2 L1271.0,629.2 L1271.3,629.2 L1271.5,629.2 L1271.8,629.2 L1272.0,629.2 L1272.3,629.2 L1272.5,629.2 L1272.8,629.2 L1273.0,629.3 L1273.3,629.3 L1273.5,629.3 L1273.8,629.3 L1274.0,629.3 L1274.3,629.3 L1274.5,629.3 L1274.8,629.3 L1275.0,629.3 L1275.3,629.3 L1275.5,629.3 L1275.8,629.3 L1276.0,629.2 L1276.3,629.2 L1276.5,629.2 L1276.8,629.2 L1277.0,629.1 L1277.3,629.1 L1277.5,629.0 L1277.8,629.0 L1278.0,628.9 L1278.3,628.9 L1278.5,628.8 L1278.8,628.8 L1279.0,628.7 L1279.3,628.6 L1279.5,628.5 L1279.8,628.5 L1280.0,628.4 L1280.3,628.3 L1280.5,628.3 L1280.8,628.2 L1281.0,628.2 L1281.3,628.1 L1281.5,628.1 L1281.8,628.0 L1282.0,628.0 L1282.3,628.0 L1282.5,628.0 L1282.8,628.0 L1283.0,628.1 L1283.3,628.1 L1283.5,628.1 L1283.8,628.2 L1284.0,628.2 L1284.3,628.3 L1284.5,628.4 L1284.8,628.5 L1285.0,628.6 L1285.3,628.6 L1285.5,628.7 L1285.8,628.8 L1286.0,628.9 L1286.3,629.0 L1286.5,629.0 L1286.8,629.1 L1287.0,629.2 L1287.3,629.2 L1287.5,629.3 L1287.8,629.4 L1288.0,629.4 L1288.3,629.4 L1288.5,629.5 L1288.8,629.5 L1289.0,629.5 L1289.3,629.6 L1289.5,629.6 L1289.8,629.6 L1290.0,629.6 L1290.3,629.6 L1290.5,629.6 L1290.8,629.6 L1291.0,629.6 L1291.3,629.6 L1291.5,629.6 L1291.8,629.7 L1292.0,629.6 L1292.3,629.6 L1292.5,629.6 L1292.8,629.6 L1293.0,629.6 L1293.3,629.6 L1293.5,629.6 L1293.8,629.6 L1294.0,629.6 L1294.3,629.6 L1294.5,629.6 L1294.8,629.6 L1295.0,629.6 L1295.3,629.6 L1295.5,629.6 L1295.8,629.6 L1296.0,629.6 L1296.3,629.6 L1296.5,629.6 L1296.8,629.6 L1297.0,629.5 L1297.3,629.5 L1297.5,629.5 L1297.8,629.5 L1298.0,629.5 L1298.3,629.5 L1298.5,629.5 L1298.8,629.5 L1299.0,629.5 L1299.3,629.5 L1299.5,629.5 L1299.8,629.5 L1300.0,629.4 L1300.3,629.4 L1300.5,629.4 L1300.8,629.4 L1301.0,629.4 L1301.3,629.4 L1301.5,629.4 L1301.8,629.4 L1302.0,629.4 L1302.3,629.4 L1302.5,629.4 L1302.8,629.4 L1303.0,629.4 L1303.3,629.4 L1303.5,629.4 L1303.8,629.4 L1304.0,629.4 L1304.3,629.4 L1304.5,629.5 L1304.8,629.5 L1305.0,629.5 L1305.3,629.5 L1305.5,629.5 L1305.8,629.5 L1306.0,629.5 L1306.3,629.5 L1306.5,629.5 L1306.8,629.5 L1307.0,629.5 L1307.3,629.5 L1307.5,629.5 L1307.8,629.5 L1308.0,629.5 L1308.3,629.5 L1308.5,629.5 L1308.8,629.5 L1309.0,629.5 L1309.3,629.5 L1309.5,629.5 L1309.8,629.5 L1310.0,629.5 L1310.3,629.5 L1310.5,629.5 L1310.8,629.5 L1311.0,629.5 L1311.3,629.5 L1311.5,629.5 L1311.8,629.5 L1312.0,629.5 L1312.3,629.5 L1312.5,629.5 L1312.8,629.5 L1313.0,629.5 L1313.3,629.5 L1313.5,629.5 L1313.8,629.5 L1314.0,629.5 L1314.3,629.5 L1314.5,629.5 L1314.8,629.5 L1315.0,629.5 L1315.3,629.5 L1315.5,629.5 L1315.8,629.5 L1316.0,629.5 L1316.3,629.5 L1316.5,629.5 L1316.8,629.5 L1317.0,629.5 L1317.3,629.5 L1317.5,629.5 L1317.8,629.5 L1318.0,629.5 L1318.3,629.5 L1318.5,629.6 L1318.8,629.6 L1319.0,629.6 L1319.3,629.6 L1319.5,629.6 L1319.8,629.6 L1320.0,629.6 L1320.3,629.6 L1320.5,629.6 L1320.8,629.6 L1321.0,629.6 L1321.3,629.6 L1321.5,629.6 L1321.8,629.6 L1322.0,629.6 L1322.3,629.6 L1322.5,629.6 L1322.8,629.6 L1323.0,629.6 L1323.3,629.6 L1323.5,629.6 L1323.8,629.6 L1324.0,629.6 L1324.3,629.6 L1324.5,629.6 L1324.8,629.6 L1325.0,629.6 L1325.3,629.6 L1325.5,629.6 L1325.8,629.6 L1326.0,629.6 L1326.3,629.6 L1326.5,629.6 L1326.8,629.6 L1327.0,629.6 L1327.3,629.6 L1327.5,629.6 L1327.8,629.6 L1328.0,629.6 L1328.3,629.6 L1328.5,629.6 L1328.8,629.6 L1329.0,629.6 L1329.3,629.6 L1329.5,629.6 L1329.8,629.6 L1330.0,629.6 L1330.3,629.6 L1330.5,629.6 L1330.8,629.6 L1331.0,629.6 L1331.3,629.6 L1331.5,629.6 L1331.8,629.6 L1332.0,629.6 L1332.3,629.7 L1332.5,629.7 L1332.8,629.7 L1333.0,629.7 L1333.3,629.7 L1333.5,629.7 L1333.8,629.7 L1334.0,629.7 L1334.3,629.7 L1334.5,629.7 L1334.8,629.7 L1335.0,629.7 L1335.3,629.7 L1335.5,629.7 L1335.8,629.7 L1336.0,629.7 L1336.3,629.7 L1336.5,629.7 L1336.8,629.7 L1337.0,629.7 L1337.3,629.7 L1337.5,629.7 L1337.8,629.7 L1338.0,629.7 L1338.3,629.7 L1338.5,629.7 L1338.8,629.7 L1339.0,629.7 L1339.3,629.7 L1339.5,629.7 L1339.8,629.7 L1340.0,629.7 L1340.3,629.7 L1340.5,629.7 L1340.8,629.7 L1341.0,629.7 L1341.3,629.7 L1341.5,629.7 L1341.8,629.7 L1342.0,629.7 L1342.3,629.7 L1342.5,629.7 L1342.8,629.7 L1343.0,629.7 L1343.3,629.7 L1343.5,629.7 L1343.8,629.7 L1344.0,629.7 L1344.3,629.7 L1344.5,629.7 L1344.8,629.7 L1345.0,629.7 L1345.3,629.7 L1345.5,629.7 L1345.8,629.7 L1346.0,629.7 L1346.3,629.7 L1346.5,629.8 L1346.8,629.8 L1347.0,629.8 L1347.3,629.8 L1347.5,629.8 L1347.8,629.8 L1348.0,629.8 L1348.3,629.8 L1348.5,629.8 L1348.8,629.8 L1349.0,629.8 L1349.3,629.8 L1349.5,629.8 L1349.8,629.8 L1350.0,629.8 L1350.3,629.8 L1350.5,629.8 L1350.8,629.8 L1351.0,629.8 L1351.3,629.8 L1351.5,629.8 L1351.8,629.8 L1352.0,629.8 L1352.3,629.8 L1352.5,629.8 L1352.8,629.8 L1353.0,629.8 L1353.3,629.8 L1353.5,629.8 L1353.8,629.8 L1354.0,629.8 L1354.3,629.8 L1354.5,629.8 L1354.8,629.8 L1355.0,629.8 L1355.3,629.8 L1355.5,629.8 L1355.8,629.8 L1356.0,629.8 L1356.3,629.8 L1356.5,629.8 L1356.8,629.8 L1357.0,629.8 L1357.3,629.8 L1357.5,629.8 L1357.8,629.8 L1358.0,629.8 L1358.3,629.8 L1358.5,629.8 L1358.8,629.8 L1359.0,629.8 L1359.3,629.8 L1359.5,629.8 L1359.8,629.8 L1360.0,629.8 L1360.3,629.8 L1360.5,629.8 L1360.8,629.8 L1361.0,629.8 L1361.3,629.8 L1361.5,629.8 L1361.8,629.9 L1362.0,629.9 L1362.3,629.9 L1362.5,629.9 L1362.8,629.9 L1363.0,629.9 L1363.3,629.9 L1363.5,629.9 L1363.8,629.9 L1364.0,629.9 L1364.3,629.9 L1364.5,629.9 L1364.8,629.9 L1365.0,629.9 L1365.3,629.9 L1365.5,629.9 L1365.8,629.9 L1366.0,629.9 L1366.3,629.9 L1366.5,629.9 L1366.8,629.9 L1367.0,629.9 L1367.3,629.9 L1367.5,629.9 L1367.8,629.9 L1368.0,629.9 L1368.3,629.9 L1368.5,629.9 L1368.8,629.9 L1369.0,629.9 L1369.3,629.9 L1369.5,629.9 L1369.8,629.9 L1370.0,629.9 L1370.3,629.9 L1370.5,629.9 L1370.8,629.9 L1371.0,629.9 L1371.3,629.9 L1371.5,629.9 L1371.8,629.9 L1372.0,629.9 L1372.3,629.9 L1372.5,629.9 L1372.8,629.9 L1373.0,629.9 L1373.3,629.9 L1373.5,629.9 L1373.8,629.9 L1374.0,629.9 L1374.3,629.9 L1374.5,629.9 L1374.8,629.9 L1375.0,629.9 L1375.3,629.9 L1375.5,629.9 L1375.8,629.9 L1376.0,629.9 L1376.3,629.9 L1376.5,629.9 L1376.8,629.9 L1377.0,629.9 L1377.3,629.9 L1377.5,629.9 L1377.8,629.9 L1378.0,629.9 L1378.3,629.9 L1378.5,629.9 L1378.8,629.9 L1379.0,629.9 L1379.3,629.9 L1379.5,629.9 L1379.8,629.9 L1380.0,630.0 L1380.3,630.0 L1380.5,630.0 L1380.8,630.0 L1381.0,630.0 L1381.3,630.0 L1381.5,630.0 L1381.8,630.0 L1382.0,630.0 L1382.3,630.0 L1382.5,630.0 L1382.8,630.0 L1383.0,630.0 L1383.3,630.0 L1383.5,630.0 L1383.8,630.0 L1384.0,630.0 L1384.3,630.0 L1384.5,630.0 L1384.8,630.0 L1385.0,630.0 L1385.3,630.0 L1385.5,630.0 L1385.8,630.0 L1386.0,630.0 L1386.3,630.0 L1386.5,630.0 L1386.8,630.0 L1387.0,630.0 L1387.3,630.0 L1387.5,630.0 L1387.8,630.0 L1388.0,630.0 L1388.3,630.0 L1388.5,630.0 L1388.8,630.0 L1389.0,630.0 L1389.3,630.0 L1389.5,630.0 L1389.8,630.0 L1390.0,630.0 L1390.3,630.0 L1390.5,630.0 L1390.8,630.0 L1391.0,630.0 L1391.3,630.0 L1391.5,630.0 L1391.8,630.0 L1392.0,630.0 L1392.3,630.0 L1392.5,630.0 L1392.8,630.0 L1393.0,630.0 L1393.3,630.0 L1393.5,630.0 L1393.8,630.0 L1394.0,630.0 L1394.3,630.0 L1394.5,630.0 L1394.8,630.0 L1395.0,630.0 L1395.3,630.0 L1395.5,630.0 L1395.8,630.0 L1396.0,630.0 L1396.3,630.0 L1396.5,630.0 L1396.8,630.0 L1397.0,630.0 L1397.3,630.0 L1397.5,630.0 L1397.8,630.0 L1398.0,630.0 L1398.3,630.0 L1398.5,630.0 L1398.8,630.0 L1399.0,630.0 L1399.3,630.0 L1399.5,630.0 L1399.8,630.0 L1400.0,630.0 L1400.3,630.0 L1400.5,630.0 L1400.8,630.0 L1401.0,630.0 L1401.3,630.0 L1401.5,630.0 L1401.8,630.0 L1402.0,630.0 L1402.3,630.0 L1402.5,630.0 L1402.8,630.0 L1403.0,630.0 L1403.3,630.0 L1403.5,630.0 L1403.8,630.0 L1404.0,630.0 L1404.3,630.0 L1404.5,630.0 L1404.8,630.1 L1405.0,630.1 L1405.3,630.1 L1405.5,630.1 L1405.8,630.1 L1406.0,630.1 L1406.3,630.1 L1406.5,630.1 L1406.8,630.1 L1407.0,630.1 L1407.3,630.1 L1407.5,630.1 L1407.8,630.1 L1408.0,630.1 L1408.3,630.1 L1408.5,630.1 L1408.8,630.1 L1409.0,630.1 L1409.3,630.1 L1409.5,630.1 L1409.8,630.1 L1410.0,630.1 L1410.3,630.1 L1410.5,630.1 L1410.8,630.1 L1411.0,630.1 L1411.3,630.1 L1411.5,630.1 L1411.8,630.1 L1412.0,630.1 L1412.3,630.1 L1412.5,630.1 L1412.8,630.1 L1413.0,630.1 L1413.3,630.1 L1413.5,630.1 L1413.8,630.1 L1414.0,630.1 L1414.3,630.1 L1414.5,630.1 L1414.8,630.1 L1415.0,630.1 L1415.3,630.1 L1415.5,630.1 L1415.8,630.1 L1416.0,630.1 L1416.3,630.1 L1416.5,630.1 L1416.8,630.1 L1417.0,630.1 L1417.3,630.1 L1417.5,630.1 L1417.8,630.1 L1418.0,630.1 L1418.3,630.1 L1418.5,630.1 L1418.8,630.1 L1419.0,630.1 L1419.3,630.1 L1419.5,630.1 L1419.8,630.1 L1420.0,630.1 L1420.3,630.1 L1420.5,630.1 L1420.8,630.1 L1421.0,630.1 L1421.3,630.1 L1421.5,630.1 L1421.8,630.1 L1422.0,630.1 L1422.3,630.1 L1422.5,630.1 L1422.8,630.1 L1423.0,630.1 L1423.3,630.1 L1423.5,630.1 L1423.8,630.1 L1424.0,630.1 L1424.3,630.1 L1424.5,630.1 L1424.8,630.1 L1425.0,630.1 L1425.3,630.1 L1425.5,630.1 L1425.8,630.1 L1426.0,630.1 L1426.3,630.1 L1426.5,630.1 L1426.8,630.1 L1427.0,630.1 L1427.3,630.1 L1427.5,630.1 L1427.8,630.1 L1428.0,630.1 L1428.3,630.1 L1428.5,630.1 L1428.8,630.1 L1429.0,630.1 L1429.3,630.1 L1429.5,630.1 L1429.8,630.1 L1430.0,630.1 L1430.3,630.1 L1430.5,630.1 L1430.8,630.1 L1431.0,630.1 L1431.3,630.1 L1431.5,630.1 L1431.8,630.1 L1432.0,630.1 L1432.3,630.1 L1432.5,630.1 L1432.8,630.1 L1433.0,630.1 L1433.3,630.1 L1433.5,630.1 L1433.8,630.1 L1434.0,630.1 L1434.3,630.1 L1434.5,630.1 L1434.8,630.1 L1435.0,630.1 L1435.3,630.1 L1435.5,630.1 L1435.8,630.1 L1436.0,630.1 L1436.3,630.1 L1436.5,630.1 L1436.8,630.1 L1437.0,630.1 L1437.3,630.1 L1437.5,630.1 L1437.8,630.1 L1438.0,630.1 L1438.3,630.1 L1438.5,630.1 L1438.8,630.1 L1439.0,630.1 L1439.3,630.1 L1439.5,630.1 L1439.8,630.1 L1440.0,630.1 L1440.3,630.1 L1440.5,630.1 L1440.8,630.1 L1441.0,630.1 L1441.3,630.1 L1441.5,630.1 L1441.8,630.1 L1442.0,630.1 L1442.3,630.1 L1442.5,630.1 L1442.8,630.1 L1443.0,630.1 L1443.3,630.1 L1443.5,630.1 L1443.8,630.1 L1444.0,630.1 L1444.3,630.1 L1444.5,630.1 L1444.8,630.1 L1445.0,630.1 L1445.3,630.1 L1445.5,630.1 L1445.8,630.1 L1446.0,630.1 L1446.3,630.1 L1446.5,630.1 L1446.8,630.1 L1447.0,630.1 L1447.3,630.1 L1447.5,630.1 L1447.8,630.1 L1448.0,630.1 L1448.3,630.1 L1448.5,630.1 L1448.8,630.1 L1449.0,630.1 L1449.3,630.1 L1449.5,630.1 L1449.8,630.1 L1450.0,630.1 L1450.3,630.1 L1450.5,630.1 L1450.8,630.1 L1451.0,630.1 L1451.3,630.1 L1451.5,630.1 L1451.8,630.1 L1452.0,630.1 L1452.3,630.1 L1452.5,630.2 L1452.8,630.2 L1453.0,630.2 L1453.3,630.2 L1453.5,630.2 L1453.8,630.2 L1454.0,630.2 L1454.3,630.2 L1454.5,630.2 L1454.8,630.2 L1455.0,630.2 L1455.3,630.2 L1455.5,630.2 L1455.8,630.2 L1456.0,630.2 L1456.3,630.2 L1456.5,630.2"/>
<g class="m">
<path class="s" d="M249.0,622.4L258.6,623.6"/>
<path class="s" d="M304.0,629.0L324.8,627.0"/>
<path class="s" d="M465.0,629.0L481.3,628.0"/>
<path class="s" d="M527.0,629.0L551.3,628.0"/>
<path class="s" d="M627.4,628.6L663.2,627.8"/>
<path class="s" d="M710.2,629.6L760.3,623.6"/>
<path class="s" d="M796.0,629.6L813.2,623.4"/>
<path class="s" d="M1035.9,629.4L1072.4,624.6"/>
<path class="s" d="M1072.4,624.6L1087.0,624.4"/>
<path d="M736.5,572.6V633.6" style="stroke:#f3879a;stroke-width:1.1"/>
<path d="M249.0,630.9 L249.0,622.4 M246.4,626.0 L249.0,622.4 L251.6,626.0" />
<path d="M304.0,637.5 L304.0,629.0 M301.4,632.6 L304.0,629.0 L306.6,632.6" />
<path d="M465.0,637.5 L465.0,629.0 M462.4,632.6 L465.0,629.0 L467.6,632.6" />
<path d="M527.0,637.5 L527.0,629.0 M524.4,632.6 L527.0,629.0 L529.6,632.6" />
<path d="M627.4,637.1 L627.4,628.6 M624.8,632.2 L627.4,628.6 L630.0,632.2" />
<path d="M710.2,638.1 L710.2,629.6 M707.6,633.2 L710.2,629.6 L712.8,633.2" />
<path d="M796.0,638.1 L796.0,629.6 M793.4,633.2 L796.0,629.6 L798.6,633.2" />
<path d="M1035.9,637.9 L1035.9,629.4 M1033.3,633.0 L1035.9,629.4 L1038.5,633.0" />
<path d="M258.6,615.1 L258.6,623.6 M256.0,620.0 L258.6,623.6 L261.2,620.0" />
<path d="M324.8,618.5 L324.8,627.0 M322.2,623.4 L324.8,627.0 L327.4,623.4" />
<path d="M481.3,619.5 L481.3,628.0 M478.7,624.4 L481.3,628.0 L483.9,624.4" />
<path d="M551.3,619.5 L551.3,628.0 M548.7,624.4 L551.3,628.0 L553.9,624.4" />
<path d="M663.2,619.3 L663.2,627.8 M660.6,624.2 L663.2,627.8 L665.8,624.2" />
<path d="M760.3,615.1 L760.3,623.6 M757.7,620.0 L760.3,623.6 L762.9,620.0" />
<path d="M813.2,614.9 L813.2,623.4 M810.6,619.8 L813.2,623.4 L815.8,619.8" />
<path d="M1087.0,615.9 L1087.0,624.4 M1084.4,620.8 L1087.0,624.4 L1089.6,620.8" />
<path d="M736.6,637.5 L736.6,629.0 M734.0,632.6 L736.6,629.0 L739.2,632.6" />
<path d="M1072.4,633.1 L1072.4,624.6 M1069.8,628.2 L1072.4,624.6 L1075.0,628.2" />
<path d="M1072.4,616.1 L1072.4,624.6 M1069.8,621.0 L1072.4,624.6 L1075.0,621.0" />
</g>
<text class="r" transform="translate(266.6,588.2) rotate(-90) scale(1,1.06)">4.125</text>
<text class="r" transform="translate(323.6,622.8) rotate(-90) scale(1,1.06)">5.590</text>
<text class="r" transform="translate(485.4,614.4) rotate(-90) scale(1,1.06)">9.740</text>
<text class="r" transform="translate(550.4,544.4) rotate(-90) scale(1,1.06)">11.436</text>
<text class="r" transform="translate(653.8,83.0) rotate(-90) scale(1,1.06)">14.070</text>
<text class="r" transform="translate(739.2,372.8) rotate(-90) scale(1,1.06)">16.264</text>
<text class="r" transform="translate(752.6,567.0) rotate(-90) scale(1,1.06)">16.606</text>
<text class="r" transform="translate(817.2,612.0) rotate(-90) scale(1,1.06)">18.281</text>
<text class="r" transform="translate(1071.8,463.2) rotate(-90) scale(1,1.06)">24.801</text>
<text class="r" transform="translate(1091.8,611.0) rotate(-90) scale(1,1.06)">25.343</text>
<text class="b" transform="translate(97.8,72.8) scale(1,1.005)">Green tea infusion</text>
<text class="b" transform="translate(661.4,78.2) scale(1,1.005)">Caffeine</text>
<text class="b" transform="translate(680.0,323.0) scale(1,1.05)">EGCG</text>
<text class="b" transform="translate(244.8,532.4) scale(1,1.05)">GA GC</text>
<text class="b" transform="translate(442.6,532.0) scale(1,1.05)">EGC</text>
<text class="b" transform="translate(524.6,480.2) scale(1,1.05)">C</text>
<text class="b" transform="translate(737.0,521.8) scale(1,1.05)">EC</text>
<text class="b" transform="translate(766.4,566.8) scale(1,1.05)">GCG</text>
<text class="b" transform="translate(1026.0,412.4) scale(1,1.05)">ECG</text>
<text class="b" transform="translate(1073.0,533.2) scale(1,1.05)">CG</text>
</g>
<g id="chart-bottom">
<rect x="92.8" y="756.8" width="1363.8" height="621.5" fill="none" stroke="#dcdcdc" stroke-width="2"/>
<path d="M88.8,762.5H92.8M88.8,771.2H92.8M85.3,780.0H92.8M88.8,788.8H92.8M88.8,797.6H92.8M88.8,806.4H92.8M88.8,815.2H92.8M85.3,824.0H92.8M88.8,832.8H92.8M88.8,841.6H92.8M88.8,850.4H92.8M88.8,859.2H92.8M85.3,868.0H92.8M88.8,876.8H92.8M88.8,885.5H92.8M88.8,894.3H92.8M88.8,903.1H92.8M85.3,911.9H92.8M88.8,920.7H92.8M88.8,929.5H92.8M88.8,938.3H92.8M88.8,947.1H92.8M85.3,955.9H92.8M88.8,964.7H92.8M88.8,973.5H92.8M88.8,982.3H92.8M88.8,991.1H92.8M85.3,999.9H92.8M88.8,1008.6H92.8M88.8,1017.4H92.8M88.8,1026.2H92.8M88.8,1035.0H92.8M85.3,1043.8H92.8M88.8,1052.6H92.8M88.8,1061.4H92.8M88.8,1070.2H92.8M88.8,1079.0H92.8M85.3,1087.8H92.8M88.8,1096.6H92.8M88.8,1105.4H92.8M88.8,1114.2H92.8M88.8,1122.9H92.8M85.3,1131.7H92.8M88.8,1140.5H92.8M88.8,1149.3H92.8M88.8,1158.1H92.8M88.8,1166.9H92.8M85.3,1175.7H92.8M88.8,1184.5H92.8M88.8,1193.3H92.8M88.8,1202.1H92.8M88.8,1210.9H92.8M85.3,1219.7H92.8M88.8,1228.5H92.8M88.8,1237.2H92.8M88.8,1246.0H92.8M88.8,1254.8H92.8M85.3,1263.6H92.8M88.8,1272.4H92.8M88.8,1281.2H92.8M88.8,1290.0H92.8M88.8,1298.8H92.8M85.3,1307.6H92.8M88.8,1316.4H92.8M88.8,1325.2H92.8M88.8,1334.0H92.8M88.8,1342.8H92.8M85.3,1351.5H92.8M88.8,1360.3H92.8M88.8,1369.1H92.8" stroke="#cacaca" stroke-width="1.1" fill="none"/>
<path d="M92.8,1378.3v6.2M112.3,1378.3v5.0M131.8,1378.3v5.0M151.2,1378.3v5.0M170.7,1378.3v5.0M190.2,1378.3v6.2M209.7,1378.3v5.0M229.1,1378.3v5.0M248.6,1378.3v5.0M268.1,1378.3v5.0M287.6,1378.3v6.2M307.0,1378.3v5.0M326.5,1378.3v5.0M346.0,1378.3v5.0M365.5,1378.3v5.0M384.9,1378.3v6.2M404.4,1378.3v5.0M423.9,1378.3v5.0M443.4,1378.3v5.0M462.8,1378.3v5.0M482.3,1378.3v6.2M501.8,1378.3v5.0M521.2,1378.3v5.0M540.7,1378.3v5.0M560.2,1378.3v5.0M579.7,1378.3v6.2M599.1,1378.3v5.0M618.6,1378.3v5.0M638.1,1378.3v5.0M657.6,1378.3v5.0M677.0,1378.3v6.2M696.5,1378.3v5.0M716.0,1378.3v5.0M735.5,1378.3v5.0M755.0,1378.3v5.0M774.4,1378.3v6.2M793.9,1378.3v5.0M813.4,1378.3v5.0M832.9,1378.3v5.0M852.3,1378.3v5.0M871.8,1378.3v6.2M891.3,1378.3v5.0M910.8,1378.3v5.0M930.2,1378.3v5.0M949.7,1378.3v5.0M969.2,1378.3v6.2M988.6,1378.3v5.0M1008.1,1378.3v5.0M1027.6,1378.3v5.0M1047.1,1378.3v5.0M1066.6,1378.3v6.2M1086.0,1378.3v5.0M1105.5,1378.3v5.0M1125.0,1378.3v5.0M1144.5,1378.3v5.0M1163.9,1378.3v6.2M1183.4,1378.3v5.0M1202.9,1378.3v5.0M1222.4,1378.3v5.0M1241.8,1378.3v5.0M1261.3,1378.3v6.2M1280.8,1378.3v5.0M1300.2,1378.3v5.0M1319.7,1378.3v5.0M1339.2,1378.3v5.0M1358.7,1378.3v6.2M1378.2,1378.3v5.0M1397.6,1378.3v5.0M1417.1,1378.3v5.0M1436.6,1378.3v5.0M1456.0,1378.3v6.2" stroke="#d6d6d6" stroke-width="1.1" fill="none"/>
<text class="b" transform="translate(26.0,765.8) scale(1,1.005)">mV</text>
<text class="b" transform="translate(25.2,831.9) scale(1,1.03)">600</text>
<text class="b" transform="translate(25.2,1012.7) scale(1,1.03)">400</text>
<text class="b" transform="translate(25.2,1189.8) scale(1,1.03)">200</text>
<text class="b" transform="translate(54.4,1390.4) scale(1,1.03)">0</text>
<text class="b" transform="translate(67.4,1417.4) scale(1,1.03)">0.0</text>
<text class="b" transform="translate(258.2,1417.4) scale(1,1.03)">5.0</text>
<text class="b" transform="translate(448.6,1417.4) scale(1,1.03)">10.0</text>
<text class="b" transform="translate(630.2,1417.4) scale(1,1.03)">15.0</text>
<text class="b" transform="translate(838.8,1417.4) scale(1,1.03)">20.0</text>
<text class="b" transform="translate(1029.6,1417.4) scale(1,1.03)">25.0</text>
<text class="b" transform="translate(1230.4,1417.4) scale(1,1.03)">30.0</text>
<text class="b" transform="translate(1402.6,1419.2) scale(1,1.005)">min</text>
<path d="M1456.3,1378.3v6.2" stroke="#c2c2c2" stroke-width="1.2" fill="none"/>
<path d="M95.2,762.6h0.01M108.6,762.6h0.01M122.0,762.6h0.01M135.4,762.6h0.01M148.8,762.6h0.01M162.2,762.6h0.01" stroke="#111" stroke-width="2.3" stroke-linecap="round" fill="none"/>
<text class="lg" x="136.6" y="766.8">A:280nm</text>
<path class="t" d="M92.8,1351.6 L93.0,1351.6 L93.3,1351.6 L93.5,1351.6 L93.8,1351.6 L94.0,1351.6 L94.3,1351.6 L94.5,1351.6 L94.8,1351.6 L95.0,1351.6 L95.3,1351.6 L95.5,1351.6 L95.8,1351.6 L96.0,1351.6 L96.3,1351.6 L96.5,1351.6 L96.8,1351.6 L97.0,1351.6 L97.3,1351.6 L97.5,1351.6 L97.8,1351.6 L98.0,1351.6 L98.3,1351.6 L98.5,1351.6 L98.8,1351.6 L99.0,1351.6 L99.3,1351.6 L99.5,1351.6 L99.8,1351.6 L100.0,1351.6 L100.3,1351.6 L100.5,1351.6 L100.8,1351.6 L101.0,1351.6 L101.3,1351.6 L101.5,1351.6 L101.8,1351.6 L102.0,1351.6 L102.3,1351.6 L102.5,1351.6 L102.8,1351.6 L103.0,1351.6 L103.3,1351.6 L103.5,1351.6 L103.8,1351.6 L104.0,1351.6 L104.3,1351.6 L104.5,1351.6 L104.8,1351.6 L105.0,1351.6 L105.3,1351.6 L105.5,1351.6 L105.8,1351.6 L106.0,1351.6 L106.3,1351.6 L106.5,1351.6 L106.8,1351.6 L107.0,1351.6 L107.3,1351.6 L107.5,1351.6 L107.8,1351.6 L108.0,1351.6 L108.3,1351.6 L108.5,1351.6 L108.8,1351.6 L109.0,1351.6 L109.3,1351.6 L109.5,1351.6 L109.8,1351.6 L110.0,1351.6 L110.3,1351.6 L110.5,1351.6 L110.8,1351.6 L111.0,1351.6 L111.3,1351.6 L111.5,1351.6 L111.8,1351.6 L112.0,1351.6 L112.3,1351.6 L112.5,1351.6 L112.8,1351.6 L113.0,1351.6 L113.3,1351.6 L113.5,1351.6 L113.8,1351.6 L114.0,1351.6 L114.3,1351.6 L114.5,1351.6 L114.8,1351.6 L115.0,1351.6 L115.3,1351.6 L115.5,1351.6 L115.8,1351.6 L116.0,1351.6 L116.3,1351.6 L116.5,1351.6 L116.8,1351.6 L117.0,1351.6 L117.3,1351.6 L117.5,1351.6 L117.8,1351.6 L118.0,1351.6 L118.3,1351.6 L118.5,1351.6 L118.8,1351.6 L119.0,1351.6 L119.3,1351.6 L119.5,1351.6 L119.8,1351.6 L120.0,1351.6 L120.3,1351.6 L120.5,1351.6 L120.8,1351.6 L121.0,1351.6 L121.3,1351.6 L121.5,1351.6 L121.8,1351.6 L122.0,1351.6 L122.3,1351.6 L122.5,1351.6 L122.8,1351.6 L123.0,1351.6 L123.3,1351.6 L123.5,1351.6 L123.8,1351.6 L124.0,1351.6 L124.3,1351.6 L124.5,1351.6 L124.8,1351.6 L125.0,1351.6 L125.3,1351.6 L125.5,1351.6 L125.8,1351.6 L126.0,1351.6 L126.3,1351.6 L126.5,1351.6 L126.8,1351.6 L127.0,1351.6 L127.3,1351.6 L127.5,1351.6 L127.8,1351.6 L128.1,1351.6 L128.3,1351.6 L128.6,1351.6 L128.8,1351.6 L129.1,1351.6 L129.3,1351.6 L129.6,1351.6 L129.8,1351.6 L130.1,1351.6 L130.3,1351.6 L130.6,1351.6 L130.8,1351.6 L131.1,1351.6 L131.3,1351.6 L131.6,1351.6 L131.8,1351.6 L132.1,1351.6 L132.3,1351.6 L132.6,1351.6 L132.8,1351.6 L133.1,1351.6 L133.3,1351.6 L133.6,1351.6 L133.8,1351.6 L134.1,1351.6 L134.3,1351.6 L134.6,1351.6 L134.8,1351.6 L135.1,1351.6 L135.3,1351.6 L135.6,1351.6 L135.8,1351.6 L136.1,1351.6 L136.3,1351.6 L136.6,1351.6 L136.8,1351.6 L137.1,1351.6 L137.3,1351.6 L137.6,1351.6 L137.8,1351.6 L138.1,1351.6 L138.3,1351.6 L138.6,1351.6 L138.8,1351.6 L139.1,1351.6 L139.3,1351.6 L139.6,1351.6 L139.8,1351.6 L140.1,1351.6 L140.3,1351.6 L140.6,1351.6 L140.8,1351.6 L141.1,1351.6 L141.3,1351.6 L141.6,1351.6 L141.8,1351.6 L142.1,1351.6 L142.3,1351.6 L142.6,1351.6 L142.8,1351.6 L143.1,1351.6 L143.3,1351.6 L143.6,1351.6 L143.8,1351.6 L144.1,1351.6 L144.3,1351.6 L144.6,1351.6 L144.8,1351.6 L145.1,1351.6 L145.3,1351.6 L145.6,1351.6 L145.8,1351.6 L146.1,1351.6 L146.3,1351.6 L146.6,1351.6 L146.8,1351.6 L147.1,1351.6 L147.3,1351.6 L147.6,1351.6 L147.8,1351.6 L148.1,1351.6 L148.3,1351.6 L148.6,1351.6 L148.8,1351.6 L149.1,1351.6 L149.3,1351.6 L149.6,1351.6 L149.8,1351.6 L150.1,1351.6 L150.3,1351.6 L150.6,1351.6 L150.8,1351.6 L151.1,1351.6 L151.3,1351.6 L151.6,1351.6 L151.8,1351.6 L152.1,1351.6 L152.3,1351.6 L152.6,1351.6 L152.8,1351.6 L153.1,1351.6 L153.3,1351.6 L153.6,1351.6 L153.8,1351.6 L154.1,1351.6 L154.3,1351.6 L154.6,1351.6 L154.8,1351.6 L155.1,1351.6 L155.3,1351.6 L155.6,1351.6 L155.8,1351.6 L156.1,1351.6 L156.3,1351.6 L156.6,1351.6 L156.8,1351.6 L157.1,1351.6 L157.3,1351.6 L157.6,1351.6 L157.8,1351.6 L158.1,1351.6 L158.3,1351.6 L158.6,1351.6 L158.8,1351.6 L159.1,1351.6 L159.3,1351.6 L159.6,1351.6 L159.8,1351.6 L160.1,1351.6 L160.3,1351.6 L160.6,1351.6 L160.8,1351.6 L161.1,1351.6 L161.3,1351.6 L161.6,1351.6 L161.8,1351.6 L162.1,1351.6 L162.3,1351.6 L162.6,1351.6 L162.8,1351.6 L163.1,1351.6 L163.3,1351.6 L163.6,1351.5 L163.8,1351.5 L164.1,1351.5 L164.3,1351.5 L164.6,1351.5 L164.8,1351.5 L165.1,1351.5 L165.3,1351.5 L165.6,1351.5 L165.8,1351.5 L166.1,1351.5 L166.3,1351.5 L166.6,1351.5 L166.8,1351.5 L167.1,1351.5 L167.3,1351.5 L167.6,1351.4 L167.8,1351.4 L168.1,1351.4 L168.3,1351.4 L168.6,1351.4 L168.8,1351.4 L169.1,1351.4 L169.3,1351.4 L169.6,1351.4 L169.8,1351.4 L170.1,1351.3 L170.3,1351.3 L170.6,1351.3 L170.8,1351.3 L171.1,1351.3 L171.3,1351.3 L171.6,1351.3 L171.8,1351.2 L172.1,1351.2 L172.3,1351.2 L172.6,1351.2 L172.8,1351.2 L173.1,1351.2 L173.3,1351.2 L173.6,1351.1 L173.8,1351.1 L174.1,1351.1 L174.3,1351.1 L174.6,1351.1 L174.8,1351.1 L175.1,1351.1 L175.3,1351.1 L175.6,1351.0 L175.8,1351.0 L176.1,1351.0 L176.3,1351.0 L176.6,1351.0 L176.8,1351.0 L177.1,1351.0 L177.3,1351.0 L177.6,1350.9 L177.8,1350.9 L178.1,1350.9 L178.3,1350.9 L178.6,1350.9 L178.8,1350.8 L179.1,1350.8 L179.3,1350.8 L179.6,1350.7 L179.8,1350.7 L180.1,1350.6 L180.3,1350.6 L180.6,1350.5 L180.8,1350.4 L181.1,1350.3 L181.3,1350.3 L181.6,1350.2 L181.8,1350.1 L182.1,1350.0 L182.3,1349.9 L182.6,1349.7 L182.8,1349.6 L183.1,1349.5 L183.3,1349.4 L183.6,1349.3 L183.8,1349.2 L184.1,1349.1 L184.3,1349.0 L184.6,1348.9 L184.8,1348.8 L185.1,1348.8 L185.3,1348.7 L185.6,1348.7 L185.8,1348.6 L186.1,1348.6 L186.3,1348.6 L186.6,1348.7 L186.8,1348.7 L187.1,1348.7 L187.3,1348.8 L187.6,1348.8 L187.8,1348.8 L188.1,1348.9 L188.3,1348.9 L188.6,1349.0 L188.8,1349.0 L189.1,1349.0 L189.3,1349.0 L189.6,1349.0 L189.8,1349.0 L190.1,1349.0 L190.3,1348.9 L190.6,1348.9 L190.8,1348.9 L191.1,1348.8 L191.3,1348.8 L191.6,1348.8 L191.8,1348.8 L192.1,1348.8 L192.3,1348.8 L192.6,1348.8 L192.8,1348.8 L193.1,1348.8 L193.3,1348.9 L193.6,1348.9 L193.8,1348.9 L194.1,1348.9 L194.3,1349.0 L194.6,1349.0 L194.8,1349.0 L195.1,1348.9 L195.3,1348.9 L195.6,1348.9 L195.8,1348.8 L196.1,1348.8 L196.3,1348.7 L196.6,1348.7 L196.8,1348.6 L197.1,1348.6 L197.3,1348.6 L197.6,1348.5 L197.8,1348.5 L198.1,1348.5 L198.3,1348.6 L198.6,1348.6 L198.8,1348.7 L199.1,1348.7 L199.3,1348.8 L199.6,1348.9 L199.8,1349.0 L200.1,1349.1 L200.3,1349.2 L200.6,1349.3 L200.8,1349.4 L201.1,1349.6 L201.3,1349.7 L201.6,1349.8 L201.8,1349.9 L202.1,1350.0 L202.3,1350.1 L202.6,1350.2 L202.8,1350.2 L203.1,1350.3 L203.3,1350.3 L203.6,1350.3 L203.8,1350.3 L204.1,1350.3 L204.3,1350.3 L204.6,1350.3 L204.8,1350.3 L205.1,1350.2 L205.3,1350.2 L205.6,1350.1 L205.8,1350.0 L206.1,1350.0 L206.3,1349.9 L206.6,1349.8 L206.8,1349.8 L207.1,1349.7 L207.3,1349.7 L207.6,1349.7 L207.8,1349.7 L208.1,1349.7 L208.3,1349.7 L208.6,1349.7 L208.8,1349.8 L209.1,1349.8 L209.3,1349.9 L209.6,1350.0 L209.8,1350.1 L210.1,1350.1 L210.3,1350.2 L210.6,1350.3 L210.8,1350.4 L211.1,1350.5 L211.3,1350.6 L211.6,1350.7 L211.8,1350.8 L212.1,1350.8 L212.3,1350.9 L212.6,1350.9 L212.8,1351.0 L213.1,1351.0 L213.3,1351.1 L213.6,1351.1 L213.8,1351.1 L214.1,1351.0 L214.3,1350.9 L214.6,1350.7 L214.8,1350.3 L215.1,1349.7 L215.3,1348.8 L215.6,1347.6 L215.8,1346.1 L216.1,1344.3 L216.3,1342.6 L216.6,1341.0 L216.8,1339.8 L217.1,1339.2 L217.3,1339.3 L217.6,1339.7 L217.8,1340.5 L218.1,1341.6 L218.3,1342.7 L218.6,1344.0 L218.8,1345.1 L219.1,1346.2 L219.3,1347.1 L219.6,1347.7 L219.8,1348.3 L220.1,1348.6 L220.3,1348.8 L220.6,1348.9 L220.8,1349.0 L221.1,1349.0 L221.3,1349.0 L221.6,1349.0 L221.8,1348.9 L222.1,1348.9 L222.3,1348.8 L222.6,1348.8 L222.8,1348.8 L223.1,1348.7 L223.3,1348.7 L223.6,1348.7 L223.8,1348.7 L224.1,1348.6 L224.3,1348.6 L224.6,1348.6 L224.8,1348.6 L225.1,1348.6 L225.3,1348.6 L225.6,1348.6 L225.8,1348.6 L226.1,1348.6 L226.3,1348.6 L226.6,1348.5 L226.8,1348.5 L227.1,1348.5 L227.3,1348.5 L227.6,1348.5 L227.8,1348.5 L228.1,1348.5 L228.3,1348.5 L228.6,1348.5 L228.8,1348.5 L229.1,1348.5 L229.3,1348.5 L229.6,1348.5 L229.8,1348.5 L230.1,1348.5 L230.3,1348.5 L230.6,1348.5 L230.8,1348.5 L231.1,1348.5 L231.3,1348.5 L231.6,1348.5 L231.8,1348.5 L232.1,1348.5 L232.3,1348.5 L232.6,1348.4 L232.8,1348.4 L233.1,1348.4 L233.3,1348.4 L233.6,1348.4 L233.8,1348.4 L234.1,1348.4 L234.3,1348.4 L234.6,1348.4 L234.8,1348.4 L235.1,1348.4 L235.3,1348.4 L235.6,1348.4 L235.8,1348.4 L236.1,1348.4 L236.3,1348.4 L236.6,1348.4 L236.8,1348.3 L237.1,1348.3 L237.3,1348.1 L237.6,1347.9 L237.8,1347.4 L238.1,1346.6 L238.3,1345.3 L238.6,1343.2 L238.8,1339.9 L239.1,1335.0 L239.3,1327.9 L239.6,1318.1 L239.8,1304.9 L240.1,1288.0 L240.3,1267.1 L240.6,1242.4 L240.8,1214.6 L241.1,1184.8 L241.3,1154.7 L241.6,1126.2 L241.8,1101.6 L242.1,1082.8 L242.3,1071.7 L242.6,1069.0 L242.8,1071.7 L243.1,1078.0 L243.3,1087.9 L243.6,1100.9 L243.8,1116.7 L244.1,1134.7 L244.3,1154.2 L244.6,1174.5 L244.8,1195.1 L245.1,1215.1 L245.3,1234.2 L245.6,1251.9 L245.8,1268.0 L246.1,1282.2 L246.3,1294.6 L246.6,1305.1 L246.8,1313.9 L247.1,1321.1 L247.3,1326.9 L247.6,1331.5 L247.8,1335.1 L248.1,1337.9 L248.3,1340.1 L248.6,1341.7 L248.8,1343.0 L249.1,1343.9 L249.3,1344.6 L249.6,1345.1 L249.8,1345.4 L250.1,1345.6 L250.3,1345.6 L250.6,1345.4 L250.8,1345.0 L251.1,1344.4 L251.3,1343.6 L251.6,1342.5 L251.8,1341.2 L252.1,1339.8 L252.3,1338.3 L252.6,1336.9 L252.8,1335.6 L253.1,1334.5 L253.3,1333.9 L253.6,1333.6 L253.8,1333.8 L254.1,1334.2 L254.3,1334.8 L254.6,1335.5 L254.8,1336.4 L255.1,1337.4 L255.3,1338.5 L255.6,1339.7 L255.8,1340.8 L256.1,1342.0 L256.3,1343.1 L256.6,1344.1 L256.8,1345.1 L257.1,1345.9 L257.3,1346.7 L257.6,1347.3 L257.8,1347.9 L258.1,1348.3 L258.3,1348.6 L258.6,1348.9 L258.8,1349.0 L259.1,1349.1 L259.3,1349.1 L259.6,1349.1 L259.8,1349.0 L260.1,1348.8 L260.3,1348.6 L260.6,1348.3 L260.8,1348.1 L261.1,1347.7 L261.3,1347.4 L261.6,1347.1 L261.8,1346.7 L262.1,1346.4 L262.3,1346.1 L262.6,1345.8 L262.8,1345.6 L263.1,1345.5 L263.3,1345.4 L263.6,1345.3 L263.8,1345.4 L264.1,1345.4 L264.3,1345.6 L264.6,1345.7 L264.8,1345.9 L265.1,1346.2 L265.3,1346.5 L265.6,1346.8 L265.8,1347.1 L266.1,1347.4 L266.3,1347.7 L266.6,1348.0 L266.8,1348.4 L267.1,1348.7 L267.3,1349.0 L267.6,1349.2 L267.8,1349.5 L268.1,1349.7 L268.3,1349.9 L268.6,1350.1 L268.8,1350.2 L269.1,1350.4 L269.3,1350.5 L269.6,1350.6 L269.8,1350.7 L270.1,1350.8 L270.3,1350.8 L270.6,1350.9 L270.8,1350.9 L271.1,1351.0 L271.3,1351.0 L271.6,1351.0 L271.8,1351.1 L272.1,1351.1 L272.3,1351.1 L272.6,1351.1 L272.8,1351.1 L273.1,1351.1 L273.3,1351.1 L273.6,1351.1 L273.8,1351.2 L274.1,1351.2 L274.3,1351.2 L274.6,1351.2 L274.8,1351.2 L275.1,1351.2 L275.3,1351.2 L275.6,1351.2 L275.8,1351.2 L276.1,1351.2 L276.3,1351.2 L276.6,1351.2 L276.8,1351.2 L277.1,1351.3 L277.3,1351.3 L277.6,1351.3 L277.8,1351.3 L278.1,1351.3 L278.3,1351.3 L278.6,1351.3 L278.8,1351.3 L279.1,1351.3 L279.3,1351.3 L279.6,1351.3 L279.8,1351.3 L280.1,1351.3 L280.3,1351.3 L280.6,1351.3 L280.8,1351.4 L281.1,1351.4 L281.3,1351.4 L281.6,1351.4 L281.8,1351.4 L282.1,1351.4 L282.3,1351.4 L282.6,1351.4 L282.8,1351.4 L283.1,1351.4 L283.3,1351.4 L283.6,1351.4 L283.8,1351.4 L284.1,1351.4 L284.3,1351.4 L284.6,1351.4 L284.8,1351.4 L285.1,1351.4 L285.3,1351.4 L285.6,1351.4 L285.8,1351.4 L286.1,1351.4 L286.3,1351.4 L286.6,1351.3 L286.8,1351.3 L287.1,1351.2 L287.3,1351.2 L287.6,1351.1 L287.8,1351.0 L288.1,1350.9 L288.3,1350.8 L288.6,1350.7 L288.8,1350.5 L289.1,1350.4 L289.3,1350.3 L289.6,1350.1 L289.8,1350.0 L290.1,1349.9 L290.3,1349.8 L290.6,1349.8 L290.8,1349.7 L291.1,1349.7 L291.3,1349.7 L291.6,1349.8 L291.8,1349.9 L292.1,1350.0 L292.3,1350.1 L292.6,1350.2 L292.8,1350.3 L293.1,1350.4 L293.3,1350.6 L293.6,1350.7 L293.8,1350.8 L294.1,1350.9 L294.3,1351.0 L294.6,1351.0 L294.8,1351.1 L295.1,1351.1 L295.3,1351.1 L295.6,1351.1 L295.8,1351.1 L296.1,1351.0 L296.3,1351.0 L296.6,1350.9 L296.8,1350.9 L297.1,1350.8 L297.3,1350.7 L297.6,1350.6 L297.8,1350.5 L298.1,1350.4 L298.3,1350.3 L298.6,1350.3 L298.8,1350.2 L299.1,1350.1 L299.3,1350.1 L299.6,1350.0 L299.8,1350.0 L300.1,1350.0 L300.3,1350.0 L300.6,1350.0 L300.8,1350.1 L301.1,1350.1 L301.3,1350.2 L301.6,1350.2 L301.8,1350.3 L302.1,1350.4 L302.3,1350.5 L302.6,1350.5 L302.8,1350.6 L303.1,1350.7 L303.3,1350.8 L303.6,1350.8 L303.8,1350.9 L304.1,1350.9 L304.3,1350.9 L304.6,1351.0 L304.8,1351.0 L305.1,1351.0 L305.3,1350.9 L305.6,1350.9 L305.8,1350.9 L306.1,1350.9 L306.3,1350.8 L306.6,1350.8 L306.8,1350.7 L307.1,1350.7 L307.3,1350.6 L307.6,1350.6 L307.8,1350.5 L308.1,1350.4 L308.3,1350.4 L308.6,1350.3 L308.8,1350.3 L309.1,1350.3 L309.3,1350.2 L309.6,1350.2 L309.8,1350.2 L310.1,1350.2 L310.3,1350.2 L310.6,1350.2 L310.8,1350.2 L311.1,1350.2 L311.3,1350.3 L311.6,1350.3 L311.8,1350.4 L312.1,1350.4 L312.3,1350.5 L312.6,1350.5 L312.8,1350.6 L313.1,1350.6 L313.3,1350.7 L313.6,1350.7 L313.8,1350.8 L314.1,1350.9 L314.3,1350.9 L314.6,1350.9 L314.8,1351.0 L315.1,1351.0 L315.3,1351.1 L315.6,1351.1 L315.8,1351.1 L316.1,1351.2 L316.3,1351.2 L316.6,1351.2 L316.8,1351.2 L317.1,1351.2 L317.3,1351.2 L317.6,1351.2 L317.8,1351.3 L318.1,1351.3 L318.3,1351.3 L318.6,1351.3 L318.8,1351.3 L319.1,1351.3 L319.3,1351.3 L319.6,1351.3 L319.8,1351.3 L320.1,1351.3 L320.3,1351.3 L320.6,1351.3 L320.8,1351.3 L321.1,1351.3 L321.3,1351.3 L321.6,1351.3 L321.8,1351.3 L322.1,1351.3 L322.3,1351.3 L322.6,1351.3 L322.8,1351.3 L323.1,1351.3 L323.3,1351.3 L323.6,1351.3 L323.8,1351.3 L324.1,1351.3 L324.3,1351.3 L324.6,1351.3 L324.8,1351.3 L325.1,1351.3 L325.3,1351.3 L325.6,1351.3 L325.8,1351.3 L326.1,1351.3 L326.3,1351.3 L326.6,1351.3 L326.8,1351.3 L327.1,1351.3 L327.3,1351.3 L327.6,1351.3 L327.8,1351.3 L328.1,1351.3 L328.3,1351.3 L328.6,1351.3 L328.8,1351.3 L329.1,1351.3 L329.3,1351.3 L329.6,1351.3 L329.8,1351.3 L330.1,1351.3 L330.3,1351.3 L330.6,1351.3 L330.8,1351.3 L331.1,1351.3 L331.3,1351.3 L331.6,1351.3 L331.8,1351.3 L332.1,1351.3 L332.3,1351.3 L332.6,1351.3 L332.8,1351.4 L333.1,1351.4 L333.3,1351.4 L333.6,1351.4 L333.8,1351.4 L334.1,1351.4 L334.3,1351.4 L334.6,1351.4 L334.8,1351.4 L335.1,1351.4 L335.3,1351.4 L335.6,1351.4 L335.8,1351.4 L336.1,1351.4 L336.3,1351.4 L336.6,1351.4 L336.8,1351.4 L337.1,1351.4 L337.3,1351.4 L337.6,1351.4 L337.8,1351.4 L338.1,1351.3 L338.3,1351.3 L338.6,1351.2 L338.8,1351.2 L339.1,1351.0 L339.3,1350.9 L339.6,1350.7 L339.8,1350.5 L340.1,1350.2 L340.3,1349.9 L340.6,1349.5 L340.8,1349.0 L341.1,1348.5 L341.3,1347.9 L341.6,1347.1 L341.8,1346.4 L342.1,1345.5 L342.3,1344.6 L342.6,1343.6 L342.8,1342.6 L343.1,1341.6 L343.3,1340.6 L343.6,1339.6 L343.8,1338.7 L344.1,1337.9 L344.3,1337.3 L344.6,1336.7 L344.8,1336.4 L345.1,1336.2 L345.3,1336.1 L345.6,1336.2 L345.8,1336.5 L346.1,1336.8 L346.3,1337.2 L346.6,1337.7 L346.8,1338.2 L347.1,1338.9 L347.3,1339.5 L347.6,1340.3 L347.8,1341.0 L348.1,1341.8 L348.3,1342.6 L348.6,1343.4 L348.8,1344.2 L349.1,1344.9 L349.3,1345.6 L349.6,1346.3 L349.8,1346.9 L350.1,1347.5 L350.3,1348.1 L350.6,1348.6 L350.8,1349.0 L351.1,1349.4 L351.3,1349.8 L351.6,1350.1 L351.8,1350.4 L352.1,1350.6 L352.3,1350.8 L352.6,1351.0 L352.8,1351.2 L353.1,1351.3 L353.3,1351.4 L353.6,1351.5 L353.8,1351.5 L354.1,1351.6 L354.3,1351.6 L354.6,1351.7 L354.8,1351.7 L355.1,1351.7 L355.3,1351.8 L355.6,1351.8 L355.8,1351.8 L356.1,1351.8 L356.3,1351.8 L356.6,1351.8 L356.8,1351.8 L357.1,1351.8 L357.3,1351.8 L357.6,1351.8 L357.8,1351.8 L358.1,1351.8 L358.3,1351.8 L358.6,1351.8 L358.8,1351.8 L359.1,1351.8 L359.3,1351.8 L359.6,1351.8 L359.8,1351.8 L360.1,1351.8 L360.3,1351.8 L360.6,1351.8 L360.8,1351.8 L361.1,1351.8 L361.3,1351.8 L361.6,1351.8 L361.8,1351.8 L362.1,1351.8 L362.3,1351.8 L362.6,1351.8 L362.8,1351.8 L363.1,1351.8 L363.3,1351.8 L363.6,1351.8 L363.8,1351.8 L364.1,1351.8 L364.3,1351.8 L364.6,1351.8 L364.8,1351.8 L365.1,1351.8 L365.3,1351.8 L365.6,1351.8 L365.8,1351.8 L366.1,1351.8 L366.3,1351.8 L366.6,1351.8 L366.8,1351.8 L367.1,1351.8 L367.3,1351.8 L367.6,1351.8 L367.8,1351.8 L368.1,1351.8 L368.3,1351.8 L368.6,1351.8 L368.8,1351.8 L369.1,1351.8 L369.3,1351.8 L369.6,1351.8 L369.8,1351.8 L370.1,1351.7 L370.3,1351.7 L370.6,1351.7 L370.8,1351.7 L371.1,1351.7 L371.3,1351.7 L371.6,1351.7 L371.8,1351.7 L372.1,1351.7 L372.3,1351.7 L372.6,1351.7 L372.8,1351.7 L373.1,1351.7 L373.3,1351.7 L373.6,1351.7 L373.8,1351.7 L374.1,1351.7 L374.3,1351.7 L374.6,1351.7 L374.8,1351.7 L375.1,1351.6 L375.3,1351.6 L375.6,1351.6 L375.8,1351.6 L376.1,1351.6 L376.3,1351.6 L376.6,1351.6 L376.8,1351.6 L377.1,1351.6 L377.3,1351.6 L377.6,1351.6 L377.8,1351.6 L378.1,1351.6 L378.3,1351.6 L378.6,1351.6 L378.8,1351.6 L379.1,1351.6 L379.3,1351.6 L379.6,1351.5 L379.8,1351.5 L380.1,1351.5 L380.3,1351.5 L380.6,1351.5 L380.8,1351.5 L381.1,1351.5 L381.3,1351.5 L381.6,1351.5 L381.8,1351.5 L382.1,1351.5 L382.3,1351.5 L382.6,1351.5 L382.8,1351.5 L383.1,1351.5 L383.3,1351.5 L383.6,1351.5 L383.8,1351.5 L384.1,1351.5 L384.3,1351.5 L384.6,1351.4 L384.8,1351.4 L385.1,1351.4 L385.3,1351.4 L385.6,1351.4 L385.8,1351.4 L386.1,1351.4 L386.3,1351.4 L386.6,1351.4 L386.8,1351.4 L387.1,1351.4 L387.3,1351.4 L387.6,1351.4 L387.8,1351.4 L388.1,1351.4 L388.3,1351.4 L388.6,1351.4 L388.8,1351.4 L389.1,1351.4 L389.3,1351.4 L389.6,1351.4 L389.8,1351.4 L390.1,1351.4 L390.3,1351.4 L390.6,1351.4 L390.8,1351.4 L391.1,1351.4 L391.3,1351.4 L391.6,1351.4 L391.8,1351.4 L392.1,1351.4 L392.3,1351.4 L392.6,1351.4 L392.8,1351.4 L393.1,1351.4 L393.3,1351.4 L393.6,1351.4 L393.8,1351.3 L394.1,1351.3 L394.3,1351.3 L394.6,1351.3 L394.8,1351.3 L395.1,1351.3 L395.3,1351.3 L395.6,1351.4 L395.8,1351.4 L396.1,1351.4 L396.3,1351.4 L396.6,1351.4 L396.8,1351.4 L397.1,1351.4 L397.3,1351.4 L397.6,1351.4 L397.8,1351.4 L398.1,1351.4 L398.3,1351.4 L398.6,1351.4 L398.8,1351.4 L399.1,1351.4 L399.3,1351.4 L399.6,1351.4 L399.8,1351.4 L400.1,1351.4 L400.3,1351.4 L400.6,1351.4 L400.8,1351.4 L401.1,1351.4 L401.3,1351.4 L401.6,1351.4 L401.8,1351.4 L402.1,1351.4 L402.3,1351.4 L402.6,1351.4 L402.8,1351.4 L403.1,1351.4 L403.3,1351.4 L403.6,1351.4 L403.8,1351.4 L404.1,1351.4 L404.3,1351.4 L404.6,1351.4 L404.8,1351.4 L405.1,1351.3 L405.3,1351.3 L405.6,1351.3 L405.8,1351.3 L406.1,1351.3 L406.3,1351.2 L406.6,1351.2 L406.8,1351.1 L407.1,1351.1 L407.3,1351.0 L407.6,1350.9 L407.8,1350.9 L408.1,1350.8 L408.3,1350.7 L408.6,1350.6 L408.8,1350.5 L409.1,1350.3 L409.3,1350.2 L409.6,1350.1 L409.8,1349.9 L410.1,1349.8 L410.3,1349.6 L410.6,1349.5 L410.8,1349.3 L411.1,1349.1 L411.3,1349.0 L411.6,1348.8 L411.8,1348.6 L412.1,1348.5 L412.3,1348.3 L412.6,1348.2 L412.8,1348.1 L413.1,1348.0 L413.3,1347.9 L413.6,1347.8 L413.8,1347.7 L414.1,1347.7 L414.3,1347.7 L414.6,1347.7 L414.8,1347.7 L415.1,1347.7 L415.3,1347.7 L415.6,1347.8 L415.8,1347.8 L416.1,1347.9 L416.3,1347.9 L416.6,1348.0 L416.8,1348.1 L417.1,1348.2 L417.3,1348.3 L417.6,1348.4 L417.8,1348.5 L418.1,1348.6 L418.3,1348.7 L418.6,1348.9 L418.8,1349.0 L419.1,1349.1 L419.3,1349.2 L419.6,1349.4 L419.8,1349.5 L420.1,1349.6 L420.3,1349.7 L420.6,1349.9 L420.8,1350.0 L421.1,1350.1 L421.3,1350.2 L421.6,1350.3 L421.8,1350.4 L422.1,1350.5 L422.3,1350.6 L422.6,1350.7 L422.8,1350.8 L423.1,1350.9 L423.3,1351.0 L423.6,1351.0 L423.8,1351.1 L424.1,1351.2 L424.3,1351.2 L424.6,1351.3 L424.8,1351.4 L425.1,1351.4 L425.3,1351.4 L425.6,1351.5 L425.8,1351.5 L426.1,1351.6 L426.3,1351.6 L426.6,1351.6 L426.8,1351.6 L427.1,1351.7 L427.3,1351.7 L427.6,1351.7 L427.8,1351.7 L428.1,1351.7 L428.3,1351.8 L428.6,1351.8 L428.8,1351.8 L429.1,1351.8 L429.3,1351.8 L429.6,1351.8 L429.8,1351.8 L430.1,1351.8 L430.3,1351.8 L430.6,1351.8 L430.8,1351.8 L431.1,1351.8 L431.3,1351.8 L431.6,1351.8 L431.8,1351.8 L432.1,1351.8 L432.3,1351.8 L432.6,1351.8 L432.8,1351.8 L433.1,1351.8 L433.3,1351.8 L433.6,1351.8 L433.8,1351.8 L434.1,1351.8 L434.3,1351.8 L434.6,1351.8 L434.8,1351.8 L435.1,1351.8 L435.3,1351.8 L435.6,1351.8 L435.8,1351.8 L436.1,1351.8 L436.3,1351.8 L436.6,1351.8 L436.8,1351.8 L437.1,1351.8 L437.3,1351.8 L437.6,1351.8 L437.8,1351.8 L438.1,1351.8 L438.3,1351.8 L438.6,1351.8 L438.8,1351.8 L439.1,1351.8 L439.3,1351.8 L439.6,1351.7 L439.8,1351.7 L440.1,1351.7 L440.3,1351.7 L440.6,1351.7 L440.8,1351.7 L441.1,1351.7 L441.3,1351.7 L441.6,1351.7 L441.8,1351.7 L442.1,1351.7 L442.3,1351.7 L442.6,1351.7 L442.8,1351.7 L443.1,1351.7 L443.3,1351.7 L443.6,1351.7 L443.8,1351.7 L444.1,1351.7 L444.3,1351.6 L444.6,1351.6 L444.8,1351.6 L445.1,1351.6 L445.3,1351.6 L445.6,1351.6 L445.8,1351.6 L446.1,1351.6 L446.3,1351.6 L446.6,1351.6 L446.8,1351.6 L447.1,1351.6 L447.3,1351.6 L447.6,1351.6 L447.8,1351.6 L448.1,1351.6 L448.3,1351.6 L448.6,1351.6 L448.8,1351.5 L449.1,1351.5 L449.3,1351.5 L449.6,1351.5 L449.8,1351.5 L450.1,1351.5 L450.3,1351.5 L450.6,1351.5 L450.8,1351.5 L451.1,1351.5 L451.3,1351.5 L451.6,1351.5 L451.8,1351.5 L452.1,1351.5 L452.3,1351.5 L452.6,1351.5 L452.8,1351.5 L453.1,1351.5 L453.3,1351.5 L453.6,1351.4 L453.8,1351.4 L454.1,1351.4 L454.3,1351.4 L454.6,1351.4 L454.8,1351.4 L455.1,1351.4 L455.3,1351.4 L455.6,1351.4 L455.8,1351.4 L456.1,1351.4 L456.3,1351.4 L456.6,1351.4 L456.8,1351.4 L457.1,1351.4 L457.3,1351.4 L457.6,1351.4 L457.8,1351.4 L458.1,1351.4 L458.3,1351.4 L458.6,1351.4 L458.8,1351.4 L459.1,1351.4 L459.3,1351.4 L459.6,1351.4 L459.8,1351.4 L460.1,1351.4 L460.3,1351.4 L460.6,1351.4 L460.8,1351.4 L461.1,1351.4 L461.3,1351.4 L461.6,1351.4 L461.8,1351.4 L462.1,1351.4 L462.3,1351.4 L462.6,1351.4 L462.8,1351.4 L463.1,1351.4 L463.3,1351.4 L463.6,1351.4 L463.8,1351.3 L464.1,1351.4 L464.3,1351.4 L464.6,1351.4 L464.8,1351.4 L465.1,1351.4 L465.3,1351.4 L465.6,1351.4 L465.8,1351.4 L466.1,1351.4 L466.3,1351.4 L466.6,1351.4 L466.8,1351.4 L467.1,1351.4 L467.3,1351.4 L467.6,1351.4 L467.8,1351.4 L468.1,1351.4 L468.3,1351.4 L468.6,1351.4 L468.8,1351.4 L469.1,1351.4 L469.3,1351.4 L469.6,1351.4 L469.8,1351.4 L470.1,1351.4 L470.3,1351.4 L470.6,1351.4 L470.8,1351.4 L471.1,1351.4 L471.3,1351.4 L471.6,1351.4 L471.8,1351.4 L472.1,1351.4 L472.3,1351.4 L472.6,1351.4 L472.8,1351.4 L473.1,1351.4 L473.3,1351.4 L473.6,1351.4 L473.8,1351.4 L474.1,1351.5 L474.3,1351.5 L474.6,1351.5 L474.8,1351.5 L475.1,1351.5 L475.3,1351.5 L475.6,1351.5 L475.8,1351.5 L476.1,1351.5 L476.3,1351.5 L476.6,1351.5 L476.8,1351.5 L477.1,1351.5 L477.3,1351.5 L477.6,1351.5 L477.8,1351.5 L478.1,1351.5 L478.3,1351.5 L478.6,1351.5 L478.8,1351.5 L479.1,1351.6 L479.3,1351.6 L479.6,1351.6 L479.8,1351.6 L480.1,1351.6 L480.3,1351.6 L480.6,1351.6 L480.8,1351.6 L481.1,1351.6 L481.3,1351.6 L481.6,1351.6 L481.8,1351.6 L482.1,1351.6 L482.3,1351.6 L482.6,1351.6 L482.8,1351.6 L483.1,1351.6 L483.3,1351.7 L483.6,1351.7 L483.8,1351.7 L484.1,1351.7 L484.3,1351.7 L484.6,1351.7 L484.8,1351.7 L485.1,1351.7 L485.3,1351.7 L485.6,1351.7 L485.8,1351.7 L486.1,1351.7 L486.3,1351.7 L486.6,1351.7 L486.8,1351.7 L487.1,1351.7 L487.3,1351.7 L487.6,1351.7 L487.8,1351.7 L488.1,1351.7 L488.3,1351.8 L488.6,1351.8 L488.8,1351.8 L489.1,1351.8 L489.3,1351.8 L489.6,1351.8 L489.8,1351.8 L490.1,1351.8 L490.3,1351.8 L490.6,1351.8 L490.8,1351.8 L491.1,1351.8 L491.3,1351.8 L491.6,1351.8 L491.8,1351.8 L492.1,1351.8 L492.3,1351.8 L492.6,1351.8 L492.8,1351.8 L493.1,1351.8 L493.3,1351.8 L493.6,1351.8 L493.8,1351.8 L494.1,1351.8 L494.3,1351.8 L494.6,1351.8 L494.8,1351.8 L495.1,1351.8 L495.3,1351.8 L495.6,1351.8 L495.8,1351.8 L496.1,1351.8 L496.3,1351.8 L496.6,1351.8 L496.8,1351.8 L497.1,1351.8 L497.3,1351.8 L497.6,1351.8 L497.8,1351.8 L498.1,1351.8 L498.3,1351.8 L498.6,1351.8 L498.8,1351.8 L499.1,1351.8 L499.3,1351.8 L499.6,1351.8 L499.8,1351.8 L500.1,1351.8 L500.3,1351.8 L500.6,1351.8 L500.8,1351.8 L501.1,1351.8 L501.3,1351.8 L501.6,1351.8 L501.8,1351.8 L502.1,1351.8 L502.3,1351.8 L502.6,1351.8 L502.8,1351.8 L503.1,1351.8 L503.3,1351.8 L503.6,1351.8 L503.8,1351.8 L504.1,1351.8 L504.3,1351.8 L504.6,1351.8 L504.8,1351.8 L505.1,1351.8 L505.3,1351.8 L505.6,1351.8 L505.8,1351.8 L506.1,1351.8 L506.3,1351.8 L506.6,1351.8 L506.8,1351.8 L507.1,1351.8 L507.3,1351.8 L507.6,1351.8 L507.8,1351.8 L508.1,1351.8 L508.3,1351.8 L508.6,1351.7 L508.8,1351.7 L509.1,1351.7 L509.3,1351.7 L509.6,1351.7 L509.8,1351.7 L510.1,1351.7 L510.3,1351.7 L510.6,1351.7 L510.8,1351.7 L511.1,1351.7 L511.3,1351.7 L511.6,1351.7 L511.8,1351.7 L512.0,1351.7 L512.3,1351.7 L512.5,1351.7 L512.8,1351.7 L513.0,1351.7 L513.3,1351.7 L513.5,1351.6 L513.8,1351.6 L514.0,1351.6 L514.3,1351.6 L514.5,1351.6 L514.8,1351.6 L515.0,1351.6 L515.3,1351.6 L515.5,1351.6 L515.8,1351.6 L516.0,1351.6 L516.3,1351.6 L516.5,1351.5 L516.8,1351.5 L517.0,1351.5 L517.3,1351.5 L517.5,1351.5 L517.8,1351.4 L518.0,1351.4 L518.3,1351.4 L518.5,1351.3 L518.8,1351.3 L519.0,1351.2 L519.3,1351.2 L519.5,1351.1 L519.8,1351.0 L520.0,1350.9 L520.3,1350.8 L520.5,1350.7 L520.8,1350.6 L521.0,1350.5 L521.3,1350.4 L521.5,1350.2 L521.8,1350.0 L522.0,1349.9 L522.3,1349.7 L522.5,1349.6 L522.8,1349.4 L523.0,1349.2 L523.3,1349.0 L523.5,1348.9 L523.8,1348.7 L524.0,1348.6 L524.3,1348.5 L524.5,1348.4 L524.8,1348.3 L525.0,1348.2 L525.3,1348.1 L525.5,1348.1 L525.8,1348.1 L526.0,1348.1 L526.3,1348.1 L526.5,1348.2 L526.8,1348.2 L527.0,1348.3 L527.3,1348.3 L527.5,1348.4 L527.8,1348.5 L528.0,1348.6 L528.3,1348.7 L528.5,1348.8 L528.8,1348.9 L529.0,1349.0 L529.3,1349.2 L529.5,1349.3 L529.8,1349.4 L530.0,1349.5 L530.3,1349.7 L530.5,1349.8 L530.8,1349.9 L531.0,1350.0 L531.3,1350.1 L531.5,1350.2 L531.8,1350.3 L532.0,1350.4 L532.3,1350.5 L532.5,1350.6 L532.8,1350.7 L533.0,1350.7 L533.3,1350.8 L533.5,1350.9 L533.8,1350.9 L534.0,1351.0 L534.3,1351.0 L534.5,1351.1 L534.8,1351.1 L535.0,1351.1 L535.3,1351.2 L535.5,1351.2 L535.8,1351.2 L536.0,1351.2 L536.3,1351.3 L536.5,1351.3 L536.8,1351.3 L537.0,1351.3 L537.3,1351.3 L537.5,1351.3 L537.8,1351.3 L538.0,1351.3 L538.3,1351.4 L538.5,1351.4 L538.8,1351.4 L539.0,1351.4 L539.3,1351.4 L539.5,1351.4 L539.8,1351.4 L540.0,1351.4 L540.3,1351.4 L540.5,1351.4 L540.8,1351.4 L541.0,1351.4 L541.3,1351.4 L541.5,1351.4 L541.8,1351.4 L542.0,1351.4 L542.3,1351.4 L542.5,1351.4 L542.8,1351.4 L543.0,1351.4 L543.3,1351.5 L543.5,1351.5 L543.8,1351.5 L544.0,1351.5 L544.3,1351.5 L544.5,1351.5 L544.8,1351.5 L545.0,1351.5 L545.3,1351.5 L545.5,1351.5 L545.8,1351.5 L546.0,1351.5 L546.3,1351.5 L546.5,1351.5 L546.8,1351.5 L547.0,1351.5 L547.3,1351.5 L547.5,1351.5 L547.8,1351.5 L548.0,1351.6 L548.3,1351.6 L548.5,1351.6 L548.8,1351.6 L549.0,1351.6 L549.3,1351.6 L549.5,1351.6 L549.8,1351.6 L550.0,1351.6 L550.3,1351.6 L550.5,1351.6 L550.8,1351.6 L551.0,1351.6 L551.3,1351.6 L551.5,1351.6 L551.8,1351.6 L552.0,1351.6 L552.3,1351.6 L552.5,1351.6 L552.8,1351.5 L553.0,1351.5 L553.3,1351.5 L553.5,1351.4 L553.8,1351.4 L554.0,1351.3 L554.3,1351.3 L554.5,1351.2 L554.8,1351.1 L555.0,1351.0 L555.3,1350.9 L555.5,1350.8 L555.8,1350.6 L556.0,1350.4 L556.3,1350.3 L556.5,1350.1 L556.8,1349.9 L557.0,1349.6 L557.3,1349.4 L557.5,1349.2 L557.8,1348.9 L558.0,1348.7 L558.3,1348.4 L558.5,1348.2 L558.8,1348.0 L559.0,1347.7 L559.3,1347.5 L559.5,1347.3 L559.8,1347.2 L560.0,1347.0 L560.3,1346.9 L560.5,1346.9 L560.8,1346.8 L561.0,1346.8 L561.3,1346.8 L561.5,1346.9 L561.8,1346.9 L562.0,1347.0 L562.3,1347.2 L562.5,1347.3 L562.8,1347.4 L563.0,1347.6 L563.3,1347.8 L563.5,1348.0 L563.8,1348.2 L564.0,1348.4 L564.3,1348.6 L564.5,1348.9 L564.8,1349.1 L565.0,1349.3 L565.3,1349.5 L565.5,1349.7 L565.8,1349.9 L566.0,1350.1 L566.3,1350.3 L566.5,1350.4 L566.8,1350.6 L567.0,1350.7 L567.3,1350.8 L567.5,1351.0 L567.8,1351.1 L568.0,1351.2 L568.3,1351.2 L568.5,1351.3 L568.8,1351.4 L569.0,1351.4 L569.3,1351.5 L569.5,1351.5 L569.8,1351.5 L570.0,1351.5 L570.3,1351.5 L570.5,1351.5 L570.8,1351.5 L571.0,1351.4 L571.3,1351.4 L571.5,1351.3 L571.8,1351.3 L572.0,1351.2 L572.3,1351.1 L572.5,1351.0 L572.8,1350.9 L573.0,1350.8 L573.3,1350.7 L573.5,1350.6 L573.8,1350.4 L574.0,1350.3 L574.3,1350.2 L574.5,1350.1 L574.8,1350.0 L575.0,1349.8 L575.3,1349.7 L575.5,1349.6 L575.8,1349.6 L576.0,1349.5 L576.3,1349.4 L576.5,1349.4 L576.8,1349.4 L577.0,1349.4 L577.3,1349.4 L577.5,1349.4 L577.8,1349.4 L578.0,1349.5 L578.3,1349.6 L578.5,1349.6 L578.8,1349.7 L579.0,1349.8 L579.3,1349.9 L579.5,1350.0 L579.8,1350.2 L580.0,1350.3 L580.3,1350.4 L580.5,1350.5 L580.8,1350.6 L581.0,1350.7 L581.3,1350.8 L581.5,1350.9 L581.8,1351.0 L582.0,1351.1 L582.3,1351.1 L582.5,1351.2 L582.8,1351.3 L583.0,1351.3 L583.3,1351.4 L583.5,1351.4 L583.8,1351.4 L584.0,1351.5 L584.3,1351.5 L584.5,1351.5 L584.8,1351.5 L585.0,1351.5 L585.3,1351.5 L585.5,1351.5 L585.8,1351.5 L586.0,1351.5 L586.3,1351.5 L586.5,1351.5 L586.8,1351.5 L587.0,1351.5 L587.3,1351.5 L587.5,1351.5 L587.8,1351.5 L588.0,1351.5 L588.3,1351.5 L588.5,1351.5 L588.8,1351.5 L589.0,1351.5 L589.3,1351.5 L589.5,1351.5 L589.8,1351.5 L590.0,1351.5 L590.3,1351.5 L590.5,1351.5 L590.8,1351.5 L591.0,1351.5 L591.3,1351.5 L591.5,1351.5 L591.8,1351.4 L592.0,1351.4 L592.3,1351.4 L592.5,1351.4 L592.8,1351.4 L593.0,1351.4 L593.3,1351.4 L593.5,1351.4 L593.8,1351.4 L594.0,1351.4 L594.3,1351.4 L594.5,1351.4 L594.8,1351.4 L595.0,1351.4 L595.3,1351.4 L595.5,1351.4 L595.8,1351.4 L596.0,1351.4 L596.3,1351.4 L596.5,1351.4 L596.8,1351.4 L597.0,1351.4 L597.3,1351.4 L597.5,1351.4 L597.8,1351.4 L598.0,1351.4 L598.3,1351.4 L598.5,1351.4 L598.8,1351.4 L599.0,1351.4 L599.3,1351.4 L599.5,1351.4 L599.8,1351.4 L600.0,1351.4 L600.3,1351.4 L600.5,1351.4 L600.8,1351.4 L601.0,1351.4 L601.3,1351.4 L601.5,1351.4 L601.8,1351.4 L602.0,1351.4 L602.3,1351.4 L602.5,1351.4 L602.8,1351.4 L603.0,1351.4 L603.3,1351.4 L603.5,1351.4 L603.8,1351.4 L604.0,1351.4 L604.3,1351.4 L604.5,1351.4 L604.8,1351.4 L605.0,1351.4 L605.3,1351.4 L605.5,1351.4 L605.8,1351.4 L606.0,1351.4 L606.3,1351.4 L606.5,1351.4 L606.8,1351.4 L607.0,1351.4 L607.3,1351.4 L607.5,1351.4 L607.8,1351.4 L608.0,1351.4 L608.3,1351.4 L608.5,1351.4 L608.8,1351.4 L609.0,1351.4 L609.3,1351.4 L609.5,1351.4 L609.8,1351.4 L610.0,1351.4 L610.3,1351.4 L610.5,1351.4 L610.8,1351.4 L611.0,1351.4 L611.3,1351.4 L611.5,1351.4 L611.8,1351.4 L612.0,1351.4 L612.3,1351.5 L612.5,1351.5 L612.8,1351.5 L613.0,1351.5 L613.3,1351.5 L613.5,1351.5 L613.8,1351.5 L614.0,1351.5 L614.3,1351.5 L614.5,1351.5 L614.8,1351.5 L615.0,1351.5 L615.3,1351.5 L615.5,1351.5 L615.8,1351.5 L616.0,1351.5 L616.3,1351.5 L616.5,1351.5 L616.8,1351.5 L617.0,1351.6 L617.3,1351.6 L617.5,1351.6 L617.8,1351.6 L618.0,1351.6 L618.3,1351.6 L618.5,1351.6 L618.8,1351.6 L619.0,1351.6 L619.3,1351.6 L619.5,1351.6 L619.8,1351.6 L620.0,1351.6 L620.3,1351.6 L620.5,1351.6 L620.8,1351.6 L621.0,1351.6 L621.3,1351.6 L621.5,1351.7 L621.8,1351.7 L622.0,1351.7 L622.3,1351.7 L622.5,1351.7 L622.8,1351.7 L623.0,1351.7 L623.3,1351.7 L623.5,1351.7 L623.8,1351.7 L624.0,1351.7 L624.3,1351.7 L624.5,1351.7 L624.8,1351.7 L625.0,1351.7 L625.3,1351.7 L625.5,1351.7 L625.8,1351.7 L626.0,1351.7 L626.3,1351.7 L626.5,1351.8 L626.8,1351.8 L627.0,1351.8 L627.3,1351.8 L627.5,1351.8 L627.8,1351.8 L628.0,1351.8 L628.3,1351.8 L628.5,1351.8 L628.8,1351.8 L629.0,1351.8 L629.3,1351.8 L629.5,1351.8 L629.8,1351.8 L630.0,1351.8 L630.3,1351.8 L630.5,1351.8 L630.8,1351.8 L631.0,1351.8 L631.3,1351.7 L631.5,1351.7 L631.8,1351.6 L632.0,1351.6 L632.3,1351.4 L632.5,1351.2 L632.8,1351.0 L633.0,1350.6 L633.3,1350.1 L633.5,1349.4 L633.8,1348.4 L634.0,1347.1 L634.3,1345.4 L634.5,1343.1 L634.8,1340.2 L635.0,1336.5 L635.3,1331.8 L635.5,1325.9 L635.8,1318.7 L636.0,1309.8 L636.3,1299.2 L636.5,1286.5 L636.8,1271.7 L637.0,1254.4 L637.3,1234.7 L637.5,1212.4 L637.8,1187.7 L638.0,1160.5 L638.3,1131.2 L638.5,1100.0 L638.8,1067.4 L639.0,1033.8 L639.3,1000.0 L639.5,966.7 L639.8,934.5 L640.0,904.4 L640.3,877.0 L640.5,853.2 L640.8,833.6 L641.0,818.8 L641.3,809.3 L641.5,805.3 L641.8,806.3 L642.0,810.5 L642.3,818.0 L642.5,828.8 L642.8,842.7 L643.0,859.5 L643.3,878.9 L643.5,900.7 L643.8,924.4 L644.0,949.6 L644.3,976.0 L644.5,1003.0 L644.8,1030.3 L645.0,1057.5 L645.3,1084.2 L645.5,1110.1 L645.8,1134.9 L646.0,1158.4 L646.3,1180.4 L646.5,1200.8 L646.8,1219.5 L647.0,1236.5 L647.3,1251.9 L647.5,1265.5 L647.8,1277.6 L648.0,1288.2 L648.3,1297.5 L648.5,1305.4 L648.8,1312.3 L649.0,1318.1 L649.3,1323.0 L649.5,1327.2 L649.8,1330.7 L650.0,1333.6 L650.3,1336.0 L650.5,1338.0 L650.8,1339.6 L651.0,1341.0 L651.3,1342.1 L651.5,1343.1 L651.8,1343.9 L652.0,1344.5 L652.3,1345.1 L652.5,1345.6 L652.8,1346.0 L653.0,1346.3 L653.3,1346.7 L653.5,1346.9 L653.8,1347.2 L654.0,1347.4 L654.3,1347.7 L654.5,1347.9 L654.8,1348.0 L655.0,1348.2 L655.3,1348.4 L655.5,1348.5 L655.8,1348.7 L656.0,1348.8 L656.3,1348.9 L656.5,1349.1 L656.8,1349.2 L657.0,1349.3 L657.3,1349.4 L657.5,1349.5 L657.8,1349.6 L658.0,1349.7 L658.3,1349.8 L658.5,1349.8 L658.8,1349.9 L659.0,1350.0 L659.3,1350.1 L659.5,1350.1 L659.8,1350.2 L660.0,1350.2 L660.3,1350.3 L660.5,1350.3 L660.8,1350.4 L661.0,1350.4 L661.3,1350.5 L661.5,1350.5 L661.8,1350.6 L662.0,1350.6 L662.3,1350.6 L662.5,1350.7 L662.8,1350.7 L663.0,1350.7 L663.3,1350.8 L663.5,1350.8 L663.8,1350.8 L664.0,1350.8 L664.3,1350.9 L664.5,1350.9 L664.8,1350.9 L665.0,1350.9 L665.3,1351.0 L665.5,1351.0 L665.8,1351.0 L666.0,1351.0 L666.3,1351.0 L666.5,1351.0 L666.8,1351.1 L667.0,1351.1 L667.3,1351.1 L667.5,1351.1 L667.8,1351.1 L668.0,1351.1 L668.3,1351.1 L668.5,1351.1 L668.8,1351.1 L669.0,1351.2 L669.3,1351.2 L669.5,1351.2 L669.8,1351.2 L670.0,1351.2 L670.3,1351.2 L670.5,1351.2 L670.8,1351.2 L671.0,1351.2 L671.3,1351.2 L671.5,1351.2 L671.8,1351.2 L672.0,1351.2 L672.3,1351.2 L672.5,1351.3 L672.8,1351.3 L673.0,1351.3 L673.3,1351.3 L673.5,1351.3 L673.8,1351.3 L674.0,1351.3 L674.3,1351.3 L674.5,1351.3 L674.8,1351.3 L675.0,1351.3 L675.3,1351.3 L675.5,1351.3 L675.8,1351.3 L676.0,1351.3 L676.3,1351.3 L676.5,1351.3 L676.8,1351.3 L677.0,1351.3 L677.3,1351.3 L677.5,1351.4 L677.8,1351.4 L678.0,1351.4 L678.3,1351.4 L678.5,1351.4 L678.8,1351.4 L679.0,1351.4 L679.3,1351.4 L679.5,1351.4 L679.8,1351.4 L680.0,1351.4 L680.3,1351.4 L680.5,1351.4 L680.8,1351.4 L681.0,1351.4 L681.3,1351.4 L681.5,1351.4 L681.8,1351.4 L682.0,1351.4 L682.3,1351.5 L682.5,1351.5 L682.8,1351.5 L683.0,1351.5 L683.3,1351.5 L683.5,1351.5 L683.8,1351.5 L684.0,1351.5 L684.3,1351.5 L684.5,1351.5 L684.8,1351.5 L685.0,1351.5 L685.3,1351.5 L685.5,1351.5 L685.8,1351.5 L686.0,1351.5 L686.3,1351.5 L686.5,1351.6 L686.8,1351.6 L687.0,1351.6 L687.3,1351.6 L687.5,1351.6 L687.8,1351.6 L688.0,1351.6 L688.3,1351.6 L688.5,1351.6 L688.8,1351.6 L689.0,1351.6 L689.3,1351.6 L689.5,1351.6 L689.8,1351.6 L690.0,1351.6 L690.3,1351.6 L690.5,1351.6 L690.8,1351.7 L691.0,1351.7 L691.3,1351.7 L691.5,1351.7 L691.8,1351.7 L692.0,1351.7 L692.3,1351.7 L692.5,1351.7 L692.8,1351.7 L693.0,1351.7 L693.3,1351.7 L693.5,1351.7 L693.8,1351.7 L694.0,1351.7 L694.3,1351.7 L694.5,1351.7 L694.8,1351.7 L695.0,1351.7 L695.3,1351.7 L695.5,1351.8 L695.8,1351.8 L696.0,1351.8 L696.3,1351.8 L696.5,1351.8 L696.8,1351.8 L697.0,1351.8 L697.3,1351.8 L697.5,1351.8 L697.8,1351.8 L698.0,1351.8 L698.3,1351.8 L698.5,1351.8 L698.8,1351.8 L699.0,1351.8 L699.3,1351.8 L699.5,1351.8 L699.8,1351.8 L700.0,1351.8 L700.3,1351.8 L700.5,1351.8 L700.8,1351.8 L701.0,1351.8 L701.3,1351.8 L701.5,1351.8 L701.8,1351.8 L702.0,1351.8 L702.3,1351.8 L702.5,1351.8 L702.8,1351.8 L703.0,1351.8 L703.3,1351.8 L703.5,1351.8 L703.8,1351.8 L704.0,1351.8 L704.3,1351.8 L704.5,1351.8 L704.8,1351.8 L705.0,1351.8 L705.3,1351.8 L705.5,1351.8 L705.8,1351.8 L706.0,1351.8 L706.3,1351.8 L706.5,1351.8 L706.8,1351.8 L707.0,1351.8 L707.3,1351.8 L707.5,1351.8 L707.8,1351.8 L708.0,1351.8 L708.3,1351.8 L708.5,1351.8 L708.8,1351.8 L709.0,1351.8 L709.3,1351.8 L709.5,1351.8 L709.8,1351.8 L710.0,1351.8 L710.3,1351.8 L710.5,1351.8 L710.8,1351.8 L711.0,1351.8 L711.3,1351.8 L711.5,1351.8 L711.8,1351.8 L712.0,1351.8 L712.3,1351.8 L712.5,1351.8 L712.8,1351.8 L713.0,1351.8 L713.3,1351.8 L713.5,1351.8 L713.8,1351.8 L714.0,1351.8 L714.3,1351.8 L714.5,1351.8 L714.8,1351.8 L715.0,1351.8 L715.3,1351.8 L715.5,1351.8 L715.8,1351.8 L716.0,1351.7 L716.3,1351.7 L716.5,1351.7 L716.8,1351.7 L717.0,1351.7 L717.3,1351.7 L717.5,1351.7 L717.8,1351.7 L718.0,1351.7 L718.3,1351.7 L718.5,1351.7 L718.8,1351.7 L719.0,1351.7 L719.3,1351.7 L719.5,1351.7 L719.8,1351.7 L720.0,1351.7 L720.3,1351.7 L720.5,1351.7 L720.8,1351.6 L721.0,1351.6 L721.3,1351.6 L721.5,1351.6 L721.8,1351.6 L722.0,1351.6 L722.3,1351.6 L722.5,1351.6 L722.8,1351.6 L723.0,1351.6 L723.3,1351.6 L723.5,1351.6 L723.8,1351.6 L724.0,1351.6 L724.3,1351.6 L724.5,1351.6 L724.8,1351.6 L725.0,1351.6 L725.3,1351.5 L725.5,1351.5 L725.8,1351.5 L726.0,1351.5 L726.3,1351.5 L726.5,1351.5 L726.8,1351.5 L727.0,1351.5 L727.3,1351.5 L727.5,1351.5 L727.8,1351.5 L728.0,1351.5 L728.3,1351.5 L728.5,1351.5 L728.8,1351.5 L729.0,1351.5 L729.3,1351.5 L729.5,1351.5 L729.8,1351.5 L730.0,1351.4 L730.3,1351.4 L730.5,1351.4 L730.8,1351.4 L731.0,1351.4 L731.3,1351.4 L731.5,1351.4 L731.8,1351.4 L732.0,1351.4 L732.3,1351.4 L732.5,1351.4 L732.8,1351.4 L733.0,1351.4 L733.3,1351.4 L733.5,1351.4 L733.8,1351.4 L734.0,1351.4 L734.3,1351.4 L734.5,1351.4 L734.8,1351.4 L735.0,1351.4 L735.3,1351.4 L735.5,1351.4 L735.8,1351.4 L736.0,1351.4 L736.3,1351.4 L736.5,1351.4 L736.8,1351.4 L737.0,1351.4 L737.3,1351.4 L737.5,1351.4 L737.8,1351.4 L738.0,1351.4 L738.3,1351.4 L738.5,1351.4 L738.8,1351.4 L739.0,1351.4 L739.3,1351.4 L739.5,1351.4 L739.8,1351.4 L740.0,1351.4 L740.3,1351.4 L740.5,1351.4 L740.8,1351.4 L741.0,1351.4 L741.3,1351.4 L741.5,1351.4 L741.8,1351.4 L742.0,1351.4 L742.3,1351.4 L742.5,1351.4 L742.8,1351.4 L743.0,1351.4 L743.3,1351.4 L743.5,1351.4 L743.8,1351.4 L744.0,1351.4 L744.3,1351.4 L744.5,1351.4 L744.8,1351.4 L745.0,1351.4 L745.3,1351.4 L745.5,1351.4 L745.8,1351.4 L746.0,1351.4 L746.3,1351.4 L746.5,1351.4 L746.8,1351.4 L747.0,1351.4 L747.3,1351.4 L747.5,1351.4 L747.8,1351.4 L748.0,1351.4 L748.3,1351.4 L748.5,1351.4 L748.8,1351.4 L749.0,1351.4 L749.3,1351.4 L749.5,1351.4 L749.8,1351.4 L750.0,1351.4 L750.3,1351.4 L750.5,1351.5 L750.8,1351.5 L751.0,1351.5 L751.3,1351.5 L751.5,1351.5 L751.8,1351.5 L752.0,1351.5 L752.3,1351.5 L752.5,1351.5 L752.8,1351.5 L753.0,1351.5 L753.3,1351.5 L753.5,1351.5 L753.8,1351.5 L754.0,1351.5 L754.3,1351.5 L754.5,1351.5 L754.8,1351.5 L755.0,1351.5 L755.3,1351.6 L755.5,1351.6 L755.8,1351.6 L756.0,1351.6 L756.3,1351.6 L756.5,1351.6 L756.8,1351.6 L757.0,1351.6 L757.3,1351.6 L757.5,1351.6 L757.8,1351.6 L758.0,1351.6 L758.3,1351.6 L758.5,1351.6 L758.8,1351.6 L759.0,1351.6 L759.3,1351.6 L759.5,1351.6 L759.8,1351.6 L760.0,1351.6 L760.3,1351.6 L760.5,1351.6 L760.8,1351.6 L761.0,1351.6 L761.3,1351.5 L761.5,1351.5 L761.8,1351.5 L762.0,1351.4 L762.3,1351.4 L762.5,1351.3 L762.8,1351.3 L763.0,1351.2 L763.3,1351.1 L763.5,1351.1 L763.8,1351.0 L764.0,1350.9 L764.3,1350.7 L764.5,1350.6 L764.8,1350.5 L765.0,1350.4 L765.3,1350.2 L765.5,1350.1 L765.8,1350.0 L766.0,1349.8 L766.3,1349.7 L766.5,1349.6 L766.8,1349.4 L767.0,1349.3 L767.3,1349.2 L767.5,1349.2 L767.8,1349.1 L768.0,1349.1 L768.3,1349.0 L768.5,1349.0 L768.8,1349.0 L769.0,1349.0 L769.3,1349.1 L769.5,1349.2 L769.8,1349.2 L770.0,1349.3 L770.3,1349.4 L770.5,1349.6 L770.8,1349.7 L771.0,1349.8 L771.3,1350.0 L771.5,1350.1 L771.8,1350.2 L772.0,1350.4 L772.3,1350.5 L772.5,1350.6 L772.8,1350.8 L773.0,1350.9 L773.3,1351.0 L773.5,1351.1 L773.8,1351.1 L774.0,1351.2 L774.3,1351.3 L774.5,1351.3 L774.8,1351.3 L775.0,1351.3 L775.3,1351.4 L775.5,1351.4 L775.8,1351.3 L776.0,1351.3 L776.3,1351.3 L776.5,1351.2 L776.8,1351.2 L777.0,1351.1 L777.3,1351.1 L777.5,1351.0 L777.8,1350.9 L778.0,1350.8 L778.3,1350.8 L778.5,1350.7 L778.8,1350.6 L779.0,1350.5 L779.3,1350.5 L779.5,1350.4 L779.8,1350.3 L780.0,1350.3 L780.3,1350.3 L780.5,1350.2 L780.8,1350.2 L781.0,1350.2 L781.3,1350.2 L781.5,1350.2 L781.8,1350.3 L782.0,1350.3 L782.3,1350.3 L782.5,1350.4 L782.8,1350.4 L783.0,1350.5 L783.3,1350.6 L783.5,1350.7 L783.8,1350.7 L784.0,1350.8 L784.3,1350.9 L784.5,1351.0 L784.8,1351.0 L785.0,1351.1 L785.3,1351.2 L785.5,1351.2 L785.8,1351.3 L786.0,1351.3 L786.3,1351.4 L786.5,1351.4 L786.8,1351.5 L787.0,1351.5 L787.3,1351.5 L787.5,1351.6 L787.8,1351.6 L788.0,1351.6 L788.3,1351.6 L788.5,1351.6 L788.8,1351.6 L789.0,1351.6 L789.3,1351.6 L789.5,1351.6 L789.8,1351.6 L790.0,1351.6 L790.3,1351.6 L790.5,1351.6 L790.8,1351.6 L791.0,1351.6 L791.3,1351.6 L791.5,1351.6 L791.8,1351.6 L792.0,1351.6 L792.3,1351.6 L792.5,1351.6 L792.8,1351.6 L793.0,1351.6 L793.3,1351.6 L793.5,1351.6 L793.8,1351.6 L794.0,1351.6 L794.3,1351.5 L794.5,1351.5 L794.8,1351.5 L795.0,1351.5 L795.3,1351.5 L795.5,1351.5 L795.8,1351.5 L796.0,1351.5 L796.3,1351.5 L796.5,1351.5 L796.8,1351.5 L797.0,1351.5 L797.3,1351.5 L797.5,1351.5 L797.8,1351.5 L798.0,1351.5 L798.3,1351.5 L798.5,1351.5 L798.8,1351.5 L799.0,1351.5 L799.3,1351.4 L799.5,1351.4 L799.8,1351.4 L800.0,1351.4 L800.3,1351.4 L800.5,1351.4 L800.8,1351.4 L801.0,1351.4 L801.3,1351.4 L801.5,1351.4 L801.8,1351.4 L802.0,1351.4 L802.3,1351.4 L802.5,1351.4 L802.8,1351.4 L803.0,1351.4 L803.3,1351.4 L803.5,1351.4 L803.8,1351.4 L804.0,1351.4 L804.3,1351.4 L804.5,1351.4 L804.8,1351.4 L805.0,1351.4 L805.3,1351.4 L805.5,1351.4 L805.8,1351.4 L806.0,1351.4 L806.3,1351.4 L806.5,1351.4 L806.8,1351.4 L807.0,1351.4 L807.3,1351.4 L807.5,1351.4 L807.8,1351.4 L808.0,1351.3 L808.3,1351.3 L808.5,1351.3 L808.8,1351.3 L809.0,1351.3 L809.3,1351.3 L809.5,1351.3 L809.8,1351.3 L810.0,1351.3 L810.3,1351.3 L810.5,1351.3 L810.8,1351.3 L811.0,1351.2 L811.3,1351.2 L811.5,1351.2 L811.8,1351.1 L812.0,1351.1 L812.3,1351.0 L812.5,1350.9 L812.8,1350.8 L813.0,1350.6 L813.3,1350.4 L813.5,1350.2 L813.8,1350.0 L814.0,1349.7 L814.3,1349.4 L814.5,1349.0 L814.8,1348.6 L815.0,1348.2 L815.3,1347.7 L815.5,1347.2 L815.8,1346.6 L816.0,1346.0 L816.3,1345.3 L816.5,1344.7 L816.8,1344.0 L817.0,1343.3 L817.3,1342.6 L817.5,1342.0 L817.8,1341.3 L818.0,1340.7 L818.3,1340.2 L818.5,1339.8 L818.8,1339.4 L819.0,1339.1 L819.3,1338.9 L819.5,1338.8 L819.8,1338.8 L820.0,1338.8 L820.3,1338.9 L820.5,1339.1 L820.8,1339.4 L821.0,1339.6 L821.3,1340.0 L821.5,1340.4 L821.8,1340.8 L822.0,1341.2 L822.3,1341.7 L822.5,1342.2 L822.8,1342.7 L823.0,1343.3 L823.3,1343.8 L823.5,1344.4 L823.8,1344.9 L824.0,1345.4 L824.3,1345.9 L824.5,1346.4 L824.8,1346.9 L825.0,1347.4 L825.3,1347.8 L825.5,1348.2 L825.8,1348.6 L826.0,1348.9 L826.3,1349.2 L826.5,1349.5 L826.8,1349.8 L827.0,1350.0 L827.3,1350.2 L827.5,1350.4 L827.8,1350.6 L828.0,1350.8 L828.3,1350.9 L828.5,1351.0 L828.8,1351.1 L829.0,1351.2 L829.3,1351.3 L829.5,1351.4 L829.8,1351.4 L830.0,1351.5 L830.3,1351.5 L830.5,1351.6 L830.8,1351.6 L831.0,1351.6 L831.3,1351.6 L831.5,1351.7 L831.8,1351.7 L832.0,1351.7 L832.3,1351.7 L832.5,1351.7 L832.8,1351.7 L833.0,1351.7 L833.3,1351.7 L833.5,1351.7 L833.8,1351.7 L834.0,1351.8 L834.3,1351.8 L834.5,1351.8 L834.8,1351.8 L835.0,1351.8 L835.3,1351.8 L835.5,1351.8 L835.8,1351.8 L836.0,1351.8 L836.3,1351.8 L836.5,1351.8 L836.8,1351.8 L837.0,1351.8 L837.3,1351.8 L837.5,1351.8 L837.8,1351.8 L838.0,1351.8 L838.3,1351.8 L838.5,1351.8 L838.8,1351.8 L839.0,1351.8 L839.3,1351.8 L839.5,1351.8 L839.8,1351.8 L840.0,1351.8 L840.3,1351.8 L840.5,1351.8 L840.8,1351.8 L841.0,1351.8 L841.3,1351.8 L841.5,1351.8 L841.8,1351.8 L842.0,1351.8 L842.3,1351.8 L842.5,1351.8 L842.8,1351.8 L843.0,1351.8 L843.3,1351.8 L843.5,1351.8 L843.8,1351.8 L844.0,1351.8 L844.3,1351.8 L844.5,1351.8 L844.8,1351.8 L845.0,1351.8 L845.3,1351.8 L845.5,1351.8 L845.8,1351.8 L846.0,1351.8 L846.3,1351.8 L846.5,1351.8 L846.8,1351.8 L847.0,1351.8 L847.3,1351.8 L847.5,1351.8 L847.8,1351.8 L848.0,1351.8 L848.3,1351.8 L848.5,1351.8 L848.8,1351.8 L849.0,1351.8 L849.3,1351.8 L849.5,1351.8 L849.8,1351.8 L850.0,1351.8 L850.3,1351.8 L850.5,1351.8 L850.8,1351.8 L851.0,1351.8 L851.3,1351.8 L851.5,1351.8 L851.8,1351.8 L852.0,1351.8 L852.3,1351.8 L852.5,1351.8 L852.8,1351.8 L853.0,1351.8 L853.3,1351.8 L853.5,1351.8 L853.8,1351.8 L854.0,1351.8 L854.3,1351.7 L854.5,1351.7 L854.8,1351.7 L855.0,1351.7 L855.3,1351.7 L855.5,1351.7 L855.8,1351.7 L856.0,1351.7 L856.3,1351.7 L856.5,1351.7 L856.8,1351.7 L857.0,1351.7 L857.3,1351.7 L857.5,1351.7 L857.8,1351.7 L858.0,1351.7 L858.3,1351.7 L858.5,1351.7 L858.8,1351.7 L859.0,1351.6 L859.3,1351.6 L859.5,1351.6 L859.8,1351.6 L860.0,1351.6 L860.3,1351.6 L860.5,1351.6 L860.8,1351.6 L861.0,1351.6 L861.3,1351.6 L861.5,1351.6 L861.8,1351.6 L862.0,1351.6 L862.3,1351.6 L862.5,1351.6 L862.8,1351.6 L863.0,1351.6 L863.3,1351.6 L863.5,1351.5 L863.8,1351.5 L864.0,1351.5 L864.3,1351.5 L864.5,1351.5 L864.8,1351.5 L865.0,1351.5 L865.3,1351.5 L865.5,1351.5 L865.8,1351.5 L866.0,1351.5 L866.3,1351.5 L866.5,1351.5 L866.8,1351.5 L867.0,1351.5 L867.3,1351.5 L867.5,1351.5 L867.8,1351.5 L868.0,1351.5 L868.3,1351.4 L868.5,1351.4 L868.8,1351.4 L869.0,1351.4 L869.3,1351.4 L869.5,1351.4 L869.8,1351.4 L870.0,1351.4 L870.3,1351.4 L870.5,1351.4 L870.8,1351.4 L871.0,1351.4 L871.3,1351.4 L871.5,1351.4 L871.8,1351.4 L872.0,1351.4 L872.3,1351.4 L872.5,1351.4 L872.8,1351.4 L873.0,1351.4 L873.3,1351.4 L873.5,1351.4 L873.8,1351.4 L874.0,1351.4 L874.3,1351.4 L874.5,1351.4 L874.8,1351.4 L875.0,1351.4 L875.3,1351.4 L875.5,1351.4 L875.8,1351.4 L876.0,1351.4 L876.3,1351.4 L876.5,1351.4 L876.8,1351.4 L877.0,1351.4 L877.3,1351.4 L877.5,1351.4 L877.8,1351.4 L878.0,1351.4 L878.3,1351.4 L878.5,1351.4 L878.8,1351.4 L879.0,1351.4 L879.3,1351.4 L879.5,1351.4 L879.8,1351.4 L880.0,1351.4 L880.3,1351.4 L880.5,1351.4 L880.8,1351.4 L881.0,1351.4 L881.3,1351.4 L881.5,1351.4 L881.8,1351.4 L882.0,1351.4 L882.3,1351.4 L882.5,1351.4 L882.8,1351.4 L883.0,1351.4 L883.3,1351.4 L883.5,1351.4 L883.8,1351.4 L884.0,1351.4 L884.3,1351.4 L884.5,1351.4 L884.8,1351.4 L885.0,1351.4 L885.3,1351.4 L885.5,1351.4 L885.8,1351.4 L886.0,1351.4 L886.3,1351.4 L886.5,1351.4 L886.8,1351.4 L887.0,1351.4 L887.3,1351.4 L887.5,1351.4 L887.8,1351.4 L888.0,1351.4 L888.3,1351.4 L888.5,1351.4 L888.8,1351.5 L889.0,1351.5 L889.3,1351.5 L889.5,1351.5 L889.8,1351.5 L890.0,1351.5 L890.3,1351.5 L890.5,1351.5 L890.8,1351.5 L891.0,1351.5 L891.3,1351.5 L891.5,1351.5 L891.8,1351.5 L892.0,1351.5 L892.3,1351.5 L892.5,1351.5 L892.8,1351.5 L893.0,1351.5 L893.3,1351.5 L893.5,1351.6 L893.8,1351.6 L894.0,1351.6 L894.3,1351.6 L894.5,1351.6 L894.8,1351.6 L895.0,1351.6 L895.3,1351.6 L895.5,1351.6 L895.8,1351.6 L896.0,1351.6 L896.3,1351.6 L896.5,1351.6 L896.8,1351.6 L897.0,1351.6 L897.3,1351.6 L897.5,1351.6 L897.8,1351.6 L898.0,1351.7 L898.3,1351.7 L898.5,1351.7 L898.8,1351.7 L899.0,1351.7 L899.3,1351.7 L899.5,1351.7 L899.8,1351.7 L900.0,1351.7 L900.3,1351.7 L900.5,1351.7 L900.8,1351.7 L901.0,1351.7 L901.3,1351.7 L901.5,1351.7 L901.8,1351.7 L902.0,1351.7 L902.3,1351.7 L902.5,1351.7 L902.8,1351.8 L903.0,1351.8 L903.3,1351.8 L903.5,1351.8 L903.8,1351.8 L904.0,1351.8 L904.3,1351.8 L904.5,1351.8 L904.8,1351.8 L905.0,1351.8 L905.3,1351.8 L905.5,1351.8 L905.8,1351.8 L906.0,1351.8 L906.3,1351.8 L906.5,1351.8 L906.8,1351.8 L907.0,1351.8 L907.3,1351.8 L907.5,1351.8 L907.8,1351.8 L908.0,1351.8 L908.3,1351.8 L908.5,1351.8 L908.8,1351.8 L909.0,1351.8 L909.3,1351.8 L909.5,1351.8 L909.8,1351.8 L910.0,1351.8 L910.3,1351.8 L910.5,1351.8 L910.8,1351.8 L911.0,1351.8 L911.3,1351.8 L911.5,1351.8 L911.8,1351.8 L912.0,1351.8 L912.3,1351.8 L912.5,1351.8 L912.8,1351.8 L913.0,1351.8 L913.3,1351.8 L913.5,1351.8 L913.8,1351.8 L914.0,1351.8 L914.3,1351.8 L914.5,1351.8 L914.8,1351.8 L915.0,1351.8 L915.3,1351.8 L915.5,1351.8 L915.8,1351.8 L916.0,1351.8 L916.3,1351.8 L916.5,1351.8 L916.8,1351.8 L917.0,1351.8 L917.3,1351.8 L917.5,1351.8 L917.8,1351.8 L918.0,1351.8 L918.3,1351.8 L918.5,1351.8 L918.8,1351.8 L919.0,1351.8 L919.3,1351.8 L919.5,1351.8 L919.8,1351.8 L920.0,1351.8 L920.3,1351.8 L920.5,1351.8 L920.8,1351.8 L921.0,1351.8 L921.3,1351.8 L921.5,1351.8 L921.8,1351.8 L922.0,1351.8 L922.3,1351.8 L922.5,1351.8 L922.8,1351.8 L923.0,1351.8 L923.3,1351.7 L923.5,1351.7 L923.8,1351.7 L924.0,1351.7 L924.3,1351.7 L924.5,1351.7 L924.8,1351.7 L925.0,1351.7 L925.3,1351.7 L925.5,1351.7 L925.8,1351.7 L926.0,1351.7 L926.3,1351.7 L926.5,1351.7 L926.8,1351.7 L927.0,1351.7 L927.3,1351.7 L927.5,1351.7 L927.8,1351.7 L928.0,1351.7 L928.3,1351.6 L928.5,1351.6 L928.8,1351.6 L929.0,1351.6 L929.3,1351.6 L929.5,1351.6 L929.8,1351.6 L930.0,1351.6 L930.3,1351.6 L930.5,1351.6 L930.8,1351.6 L931.0,1351.6 L931.3,1351.6 L931.5,1351.6 L931.8,1351.6 L932.0,1351.6 L932.3,1351.6 L932.5,1351.5 L932.8,1351.5 L933.0,1351.5 L933.3,1351.5 L933.5,1351.5 L933.8,1351.5 L934.0,1351.5 L934.3,1351.5 L934.5,1351.5 L934.8,1351.5 L935.0,1351.5 L935.3,1351.5 L935.5,1351.5 L935.8,1351.5 L936.0,1351.5 L936.3,1351.5 L936.5,1351.5 L936.8,1351.5 L937.0,1351.5 L937.3,1351.5 L937.5,1351.4 L937.8,1351.4 L938.0,1351.4 L938.3,1351.4 L938.5,1351.4 L938.8,1351.4 L939.0,1351.4 L939.3,1351.4 L939.5,1351.4 L939.8,1351.4 L940.0,1351.4 L940.3,1351.4 L940.5,1351.4 L940.8,1351.4 L941.0,1351.4 L941.3,1351.4 L941.5,1351.4 L941.8,1351.4 L942.0,1351.4 L942.3,1351.4 L942.5,1351.4 L942.8,1351.4 L943.0,1351.4 L943.3,1351.4 L943.5,1351.4 L943.8,1351.4 L944.0,1351.4 L944.3,1351.4 L944.5,1351.4 L944.8,1351.4 L945.0,1351.4 L945.3,1351.4 L945.5,1351.4 L945.8,1351.4 L946.0,1351.4 L946.3,1351.4 L946.5,1351.4 L946.8,1351.4 L947.0,1351.4 L947.3,1351.4 L947.5,1351.4 L947.8,1351.4 L948.0,1351.4 L948.3,1351.4 L948.5,1351.4 L948.8,1351.4 L949.0,1351.4 L949.3,1351.4 L949.5,1351.4 L949.8,1351.4 L950.0,1351.4 L950.3,1351.4 L950.5,1351.4 L950.8,1351.4 L951.0,1351.4 L951.3,1351.4 L951.5,1351.4 L951.8,1351.4 L952.0,1351.4 L952.3,1351.4 L952.5,1351.4 L952.8,1351.4 L953.0,1351.4 L953.3,1351.4 L953.5,1351.4 L953.8,1351.4 L954.0,1351.4 L954.3,1351.4 L954.5,1351.4 L954.8,1351.4 L955.0,1351.4 L955.3,1351.4 L955.5,1351.4 L955.8,1351.4 L956.0,1351.4 L956.3,1351.4 L956.5,1351.4 L956.8,1351.4 L957.0,1351.4 L957.3,1351.4 L957.5,1351.4 L957.8,1351.5 L958.0,1351.5 L958.3,1351.5 L958.5,1351.5 L958.8,1351.5 L959.0,1351.5 L959.3,1351.5 L959.5,1351.5 L959.8,1351.5 L960.0,1351.5 L960.3,1351.5 L960.5,1351.5 L960.8,1351.5 L961.0,1351.5 L961.3,1351.5 L961.5,1351.5 L961.8,1351.5 L962.0,1351.5 L962.3,1351.5 L962.5,1351.5 L962.8,1351.6 L963.0,1351.6 L963.3,1351.6 L963.5,1351.6 L963.8,1351.6 L964.0,1351.6 L964.3,1351.6 L964.5,1351.6 L964.8,1351.6 L965.0,1351.6 L965.3,1351.6 L965.5,1351.6 L965.8,1351.6 L966.0,1351.6 L966.3,1351.6 L966.5,1351.6 L966.8,1351.6 L967.0,1351.6 L967.3,1351.6 L967.5,1351.6 L967.8,1351.7 L968.0,1351.7 L968.3,1351.7 L968.5,1351.7 L968.8,1351.7 L969.0,1351.7 L969.3,1351.7 L969.5,1351.7 L969.8,1351.7 L970.0,1351.7 L970.3,1351.7 L970.5,1351.7 L970.8,1351.7 L971.0,1351.7 L971.3,1351.7 L971.5,1351.7 L971.8,1351.7 L972.0,1351.7 L972.3,1351.7 L972.5,1351.7 L972.8,1351.7 L973.0,1351.7 L973.3,1351.7 L973.5,1351.6 L973.8,1351.6 L974.0,1351.6 L974.3,1351.6 L974.5,1351.6 L974.8,1351.6 L975.0,1351.6 L975.3,1351.6 L975.5,1351.6 L975.8,1351.6 L976.0,1351.6 L976.3,1351.5 L976.5,1351.5 L976.8,1351.5 L977.0,1351.5 L977.3,1351.5 L977.5,1351.5 L977.8,1351.4 L978.0,1351.4 L978.3,1351.4 L978.5,1351.4 L978.8,1351.4 L979.0,1351.4 L979.3,1351.3 L979.5,1351.3 L979.8,1351.3 L980.0,1351.3 L980.3,1351.3 L980.5,1351.2 L980.8,1351.2 L981.0,1351.2 L981.3,1351.2 L981.5,1351.2 L981.8,1351.2 L982.0,1351.1 L982.3,1351.1 L982.5,1351.1 L982.8,1351.1 L983.0,1351.1 L983.3,1351.1 L983.5,1351.1 L983.8,1351.1 L984.0,1351.1 L984.3,1351.1 L984.5,1351.0 L984.8,1351.0 L985.0,1351.0 L985.3,1351.0 L985.5,1351.0 L985.8,1351.0 L986.0,1351.0 L986.3,1351.1 L986.5,1351.1 L986.8,1351.1 L987.0,1351.1 L987.3,1351.1 L987.5,1351.1 L987.8,1351.1 L988.0,1351.1 L988.3,1351.1 L988.5,1351.1 L988.8,1351.2 L989.0,1351.2 L989.3,1351.2 L989.5,1351.2 L989.8,1351.2 L990.0,1351.2 L990.3,1351.2 L990.5,1351.3 L990.8,1351.3 L991.0,1351.3 L991.3,1351.3 L991.5,1351.3 L991.8,1351.3 L992.0,1351.4 L992.3,1351.4 L992.5,1351.4 L992.8,1351.4 L993.0,1351.4 L993.3,1351.4 L993.5,1351.4 L993.8,1351.4 L994.0,1351.5 L994.3,1351.5 L994.5,1351.5 L994.8,1351.5 L995.0,1351.5 L995.3,1351.5 L995.5,1351.5 L995.8,1351.5 L996.0,1351.5 L996.3,1351.5 L996.5,1351.5 L996.8,1351.5 L997.0,1351.5 L997.3,1351.5 L997.5,1351.6 L997.8,1351.6 L998.0,1351.6 L998.3,1351.6 L998.5,1351.6 L998.8,1351.6 L999.0,1351.6 L999.3,1351.6 L999.5,1351.6 L999.8,1351.5 L1000.0,1351.5 L1000.3,1351.5 L1000.5,1351.5 L1000.8,1351.5 L1001.0,1351.5 L1001.3,1351.5 L1001.5,1351.5 L1001.8,1351.5 L1002.0,1351.5 L1002.3,1351.5 L1002.5,1351.5 L1002.8,1351.5 L1003.0,1351.5 L1003.3,1351.5 L1003.5,1351.5 L1003.8,1351.5 L1004.0,1351.5 L1004.3,1351.5 L1004.5,1351.5 L1004.8,1351.4 L1005.0,1351.4 L1005.3,1351.4 L1005.5,1351.4 L1005.8,1351.4 L1006.0,1351.4 L1006.3,1351.4 L1006.5,1351.4 L1006.8,1351.4 L1007.0,1351.4 L1007.3,1351.3 L1007.5,1351.3 L1007.8,1351.3 L1008.0,1351.3 L1008.3,1351.3 L1008.5,1351.3 L1008.8,1351.3 L1009.0,1351.3 L1009.3,1351.2 L1009.5,1351.2 L1009.8,1351.2 L1010.0,1351.2 L1010.3,1351.2 L1010.5,1351.2 L1010.8,1351.1 L1011.0,1351.1 L1011.3,1351.1 L1011.5,1351.1 L1011.8,1351.1 L1012.0,1351.0 L1012.3,1351.0 L1012.5,1351.0 L1012.8,1351.0 L1013.0,1351.0 L1013.3,1350.9 L1013.5,1350.9 L1013.8,1350.9 L1014.0,1350.9 L1014.3,1350.8 L1014.5,1350.8 L1014.8,1350.8 L1015.0,1350.8 L1015.3,1350.8 L1015.5,1350.7 L1015.8,1350.7 L1016.0,1350.7 L1016.3,1350.7 L1016.5,1350.7 L1016.8,1350.7 L1017.0,1350.6 L1017.3,1350.6 L1017.5,1350.6 L1017.8,1350.6 L1018.0,1350.6 L1018.3,1350.6 L1018.5,1350.6 L1018.8,1350.6 L1019.0,1350.6 L1019.3,1350.6 L1019.5,1350.6 L1019.8,1350.6 L1020.0,1350.6 L1020.3,1350.6 L1020.5,1350.6 L1020.8,1350.6 L1021.0,1350.6 L1021.3,1350.6 L1021.5,1350.6 L1021.8,1350.6 L1022.0,1350.6 L1022.3,1350.6 L1022.5,1350.7 L1022.8,1350.7 L1023.0,1350.7 L1023.3,1350.7 L1023.5,1350.7 L1023.8,1350.7 L1024.0,1350.8 L1024.3,1350.8 L1024.5,1350.8 L1024.8,1350.8 L1025.0,1350.9 L1025.3,1350.9 L1025.5,1350.9 L1025.8,1350.9 L1026.0,1351.0 L1026.3,1351.0 L1026.5,1351.0 L1026.8,1351.0 L1027.0,1351.1 L1027.3,1351.1 L1027.5,1351.1 L1027.8,1351.1 L1028.0,1351.1 L1028.3,1351.2 L1028.5,1351.2 L1028.8,1351.2 L1029.0,1351.2 L1029.3,1351.3 L1029.5,1351.3 L1029.8,1351.3 L1030.0,1351.3 L1030.3,1351.3 L1030.5,1351.4 L1030.8,1351.4 L1031.0,1351.4 L1031.3,1351.4 L1031.5,1351.4 L1031.8,1351.4 L1032.0,1351.5 L1032.3,1351.5 L1032.5,1351.5 L1032.8,1351.5 L1033.0,1351.5 L1033.3,1351.5 L1033.5,1351.5 L1033.8,1351.5 L1034.0,1351.6 L1034.3,1351.6 L1034.5,1351.6 L1034.8,1351.6 L1035.0,1351.6 L1035.3,1351.6 L1035.5,1351.6 L1035.8,1351.6 L1036.0,1351.6 L1036.3,1351.6 L1036.5,1351.6 L1036.8,1351.6 L1037.0,1351.7 L1037.3,1351.7 L1037.5,1351.7 L1037.8,1351.7 L1038.0,1351.7 L1038.3,1351.7 L1038.5,1351.7 L1038.8,1351.7 L1039.0,1351.7 L1039.3,1351.7 L1039.5,1351.7 L1039.8,1351.7 L1040.0,1351.7 L1040.3,1351.7 L1040.5,1351.7 L1040.8,1351.7 L1041.0,1351.7 L1041.3,1351.8 L1041.5,1351.8 L1041.8,1351.8 L1042.0,1351.8 L1042.3,1351.8 L1042.5,1351.8 L1042.8,1351.8 L1043.0,1351.8 L1043.3,1351.8 L1043.5,1351.8 L1043.8,1351.8 L1044.0,1351.8 L1044.3,1351.8 L1044.5,1351.8 L1044.8,1351.8 L1045.0,1351.8 L1045.3,1351.8 L1045.5,1351.8 L1045.8,1351.8 L1046.0,1351.8 L1046.3,1351.8 L1046.5,1351.8 L1046.8,1351.8 L1047.0,1351.8 L1047.3,1351.8 L1047.5,1351.8 L1047.8,1351.8 L1048.0,1351.8 L1048.3,1351.8 L1048.5,1351.8 L1048.8,1351.8 L1049.0,1351.8 L1049.3,1351.8 L1049.5,1351.8 L1049.8,1351.8 L1050.0,1351.8 L1050.3,1351.8 L1050.5,1351.8 L1050.8,1351.8 L1051.0,1351.8 L1051.3,1351.8 L1051.5,1351.8 L1051.8,1351.8 L1052.0,1351.8 L1052.3,1351.8 L1052.5,1351.8 L1052.8,1351.8 L1053.0,1351.8 L1053.3,1351.8 L1053.5,1351.8 L1053.8,1351.8 L1054.0,1351.8 L1054.3,1351.8 L1054.5,1351.8 L1054.8,1351.8 L1055.0,1351.8 L1055.3,1351.8 L1055.5,1351.8 L1055.8,1351.8 L1056.0,1351.8 L1056.3,1351.8 L1056.5,1351.8 L1056.8,1351.8 L1057.0,1351.8 L1057.3,1351.8 L1057.5,1351.8 L1057.8,1351.8 L1058.0,1351.8 L1058.3,1351.8 L1058.5,1351.8 L1058.8,1351.8 L1059.0,1351.8 L1059.3,1351.8 L1059.5,1351.8 L1059.8,1351.8 L1060.0,1351.8 L1060.3,1351.8 L1060.5,1351.8 L1060.8,1351.8 L1061.0,1351.8 L1061.3,1351.8 L1061.5,1351.7 L1061.8,1351.7 L1062.0,1351.7 L1062.3,1351.7 L1062.5,1351.7 L1062.8,1351.7 L1063.0,1351.7 L1063.3,1351.7 L1063.5,1351.7 L1063.8,1351.7 L1064.0,1351.7 L1064.3,1351.7 L1064.5,1351.7 L1064.8,1351.7 L1065.0,1351.7 L1065.3,1351.7 L1065.5,1351.7 L1065.8,1351.7 L1066.0,1351.7 L1066.3,1351.6 L1066.5,1351.6 L1066.8,1351.6 L1067.0,1351.6 L1067.3,1351.6 L1067.5,1351.6 L1067.8,1351.6 L1068.0,1351.6 L1068.3,1351.6 L1068.5,1351.6 L1068.8,1351.6 L1069.0,1351.6 L1069.3,1351.6 L1069.5,1351.6 L1069.8,1351.6 L1070.0,1351.6 L1070.3,1351.6 L1070.5,1351.6 L1070.8,1351.5 L1071.0,1351.5 L1071.3,1351.5 L1071.5,1351.5 L1071.8,1351.5 L1072.0,1351.5 L1072.3,1351.5 L1072.5,1351.5 L1072.8,1351.5 L1073.0,1351.5 L1073.3,1351.4 L1073.5,1351.4 L1073.8,1351.4 L1074.0,1351.4 L1074.3,1351.3 L1074.5,1351.3 L1074.8,1351.2 L1075.0,1351.1 L1075.3,1351.0 L1075.5,1350.9 L1075.8,1350.8 L1076.0,1350.6 L1076.3,1350.4 L1076.5,1350.2 L1076.8,1350.0 L1077.0,1349.8 L1077.3,1349.5 L1077.5,1349.2 L1077.8,1348.9 L1078.0,1348.6 L1078.3,1348.2 L1078.5,1347.9 L1078.8,1347.6 L1079.0,1347.3 L1079.3,1347.1 L1079.5,1346.8 L1079.8,1346.7 L1080.0,1346.5 L1080.3,1346.4 L1080.5,1346.4 L1080.8,1346.4 L1081.0,1346.4 L1081.3,1346.5 L1081.5,1346.6 L1081.8,1346.8 L1082.0,1346.9 L1082.3,1347.1 L1082.5,1347.3 L1082.8,1347.5 L1083.0,1347.8 L1083.3,1348.0 L1083.5,1348.3 L1083.8,1348.5 L1084.0,1348.8 L1084.3,1349.0 L1084.5,1349.3 L1084.8,1349.5 L1085.0,1349.7 L1085.3,1349.9 L1085.5,1350.1 L1085.8,1350.2 L1086.0,1350.4 L1086.3,1350.5 L1086.5,1350.7 L1086.8,1350.8 L1087.0,1350.9 L1087.3,1350.9 L1087.5,1351.0 L1087.8,1351.1 L1088.0,1351.1 L1088.3,1351.2 L1088.5,1351.2 L1088.8,1351.2 L1089.0,1351.3 L1089.3,1351.3 L1089.5,1351.3 L1089.8,1351.3 L1090.0,1351.3 L1090.3,1351.3 L1090.5,1351.4 L1090.8,1351.4 L1091.0,1351.4 L1091.3,1351.4 L1091.5,1351.4 L1091.8,1351.4 L1092.0,1351.4 L1092.3,1351.4 L1092.5,1351.4 L1092.8,1351.4 L1093.0,1351.4 L1093.3,1351.4 L1093.5,1351.4 L1093.8,1351.4 L1094.0,1351.4 L1094.3,1351.4 L1094.5,1351.4 L1094.8,1351.4 L1095.0,1351.4 L1095.3,1351.4 L1095.5,1351.4 L1095.8,1351.4 L1096.0,1351.5 L1096.3,1351.5 L1096.5,1351.5 L1096.8,1351.5 L1097.0,1351.5 L1097.3,1351.5 L1097.5,1351.5 L1097.8,1351.5 L1098.0,1351.5 L1098.3,1351.5 L1098.5,1351.5 L1098.8,1351.5 L1099.0,1351.5 L1099.3,1351.5 L1099.5,1351.5 L1099.8,1351.5 L1100.0,1351.5 L1100.3,1351.5 L1100.5,1351.5 L1100.8,1351.5 L1101.0,1351.6 L1101.3,1351.6 L1101.5,1351.6 L1101.8,1351.6 L1102.0,1351.6 L1102.3,1351.6 L1102.5,1351.6 L1102.8,1351.6 L1103.0,1351.6 L1103.3,1351.6 L1103.5,1351.6 L1103.8,1351.6 L1104.0,1351.6 L1104.3,1351.6 L1104.5,1351.6 L1104.8,1351.6 L1105.0,1351.6 L1105.3,1351.7 L1105.5,1351.7 L1105.8,1351.7 L1106.0,1351.7 L1106.3,1351.7 L1106.5,1351.7 L1106.8,1351.7 L1107.0,1351.7 L1107.3,1351.7 L1107.5,1351.7 L1107.8,1351.7 L1108.0,1351.7 L1108.3,1351.7 L1108.5,1351.7 L1108.8,1351.7 L1109.0,1351.7 L1109.3,1351.7 L1109.5,1351.7 L1109.8,1351.7 L1110.0,1351.7 L1110.3,1351.8 L1110.5,1351.8 L1110.8,1351.8 L1111.0,1351.8 L1111.3,1351.8 L1111.5,1351.8 L1111.8,1351.8 L1112.0,1351.8 L1112.3,1351.8 L1112.5,1351.8 L1112.8,1351.8 L1113.0,1351.8 L1113.3,1351.8 L1113.5,1351.8 L1113.8,1351.8 L1114.0,1351.8 L1114.3,1351.8 L1114.5,1351.8 L1114.8,1351.8 L1115.0,1351.8 L1115.3,1351.8 L1115.5,1351.8 L1115.8,1351.8 L1116.0,1351.8 L1116.3,1351.8 L1116.5,1351.8 L1116.8,1351.8 L1117.0,1351.8 L1117.3,1351.8 L1117.5,1351.8 L1117.8,1351.8 L1118.0,1351.8 L1118.3,1351.8 L1118.5,1351.8 L1118.8,1351.7 L1119.0,1351.7 L1119.3,1351.7 L1119.5,1351.6 L1119.8,1351.6 L1120.0,1351.5 L1120.3,1351.5 L1120.5,1351.4 L1120.8,1351.3 L1121.0,1351.2 L1121.3,1351.1 L1121.5,1351.0 L1121.8,1350.8 L1122.0,1350.7 L1122.3,1350.5 L1122.5,1350.4 L1122.8,1350.2 L1123.0,1350.0 L1123.3,1349.9 L1123.5,1349.7 L1123.8,1349.6 L1124.0,1349.5 L1124.3,1349.4 L1124.5,1349.3 L1124.8,1349.3 L1125.0,1349.2 L1125.3,1349.2 L1125.5,1349.2 L1125.8,1349.3 L1126.0,1349.3 L1126.3,1349.4 L1126.5,1349.5 L1126.8,1349.6 L1127.0,1349.7 L1127.3,1349.8 L1127.5,1349.9 L1127.8,1350.0 L1128.0,1350.1 L1128.3,1350.3 L1128.5,1350.4 L1128.8,1350.5 L1129.0,1350.6 L1129.3,1350.7 L1129.5,1350.9 L1129.8,1351.0 L1130.0,1351.1 L1130.3,1351.1 L1130.5,1351.2 L1130.8,1351.3 L1131.0,1351.4 L1131.3,1351.4 L1131.5,1351.5 L1131.8,1351.5 L1132.0,1351.5 L1132.3,1351.6 L1132.5,1351.6 L1132.8,1351.6 L1133.0,1351.6 L1133.3,1351.6 L1133.5,1351.6 L1133.8,1351.6 L1134.0,1351.6 L1134.3,1351.6 L1134.5,1351.6 L1134.8,1351.6 L1135.0,1351.6 L1135.3,1351.6 L1135.5,1351.6 L1135.8,1351.6 L1136.0,1351.6 L1136.3,1351.6 L1136.5,1351.6 L1136.8,1351.6 L1137.0,1351.6 L1137.3,1351.6 L1137.5,1351.6 L1137.8,1351.6 L1138.0,1351.6 L1138.3,1351.6 L1138.5,1351.6 L1138.8,1351.6 L1139.0,1351.6 L1139.3,1351.6 L1139.5,1351.6 L1139.8,1351.6 L1140.0,1351.5 L1140.3,1351.5 L1140.5,1351.5 L1140.8,1351.5 L1141.0,1351.5 L1141.3,1351.5 L1141.5,1351.5 L1141.8,1351.5 L1142.0,1351.5 L1142.3,1351.5 L1142.5,1351.5 L1142.8,1351.5 L1143.0,1351.5 L1143.3,1351.5 L1143.5,1351.5 L1143.8,1351.5 L1144.0,1351.5 L1144.3,1351.5 L1144.5,1351.5 L1144.8,1351.4 L1145.0,1351.4 L1145.3,1351.4 L1145.5,1351.4 L1145.8,1351.4 L1146.0,1351.4 L1146.3,1351.4 L1146.5,1351.4 L1146.8,1351.4 L1147.0,1351.4 L1147.3,1351.4 L1147.5,1351.4 L1147.8,1351.4 L1148.0,1351.4 L1148.3,1351.4 L1148.5,1351.4 L1148.8,1351.4 L1149.0,1351.4 L1149.3,1351.4 L1149.5,1351.4 L1149.8,1351.4 L1150.0,1351.4 L1150.3,1351.4 L1150.5,1351.4 L1150.8,1351.4 L1151.0,1351.4 L1151.3,1351.4 L1151.5,1351.4 L1151.8,1351.4 L1152.0,1351.4 L1152.3,1351.4 L1152.5,1351.4 L1152.8,1351.4 L1153.0,1351.4 L1153.3,1351.4 L1153.5,1351.4 L1153.8,1351.4 L1154.0,1351.4 L1154.3,1351.4 L1154.5,1351.4 L1154.8,1351.4 L1155.0,1351.4 L1155.3,1351.4 L1155.5,1351.4 L1155.8,1351.4 L1156.0,1351.4 L1156.3,1351.4 L1156.5,1351.4 L1156.8,1351.4 L1157.0,1351.4 L1157.3,1351.4 L1157.5,1351.4 L1157.8,1351.4 L1158.0,1351.4 L1158.3,1351.4 L1158.5,1351.4 L1158.8,1351.4 L1159.0,1351.4 L1159.3,1351.4 L1159.5,1351.4 L1159.8,1351.4 L1160.0,1351.4 L1160.3,1351.4 L1160.5,1351.4 L1160.8,1351.4 L1161.0,1351.4 L1161.3,1351.4 L1161.5,1351.4 L1161.8,1351.4 L1162.0,1351.4 L1162.3,1351.4 L1162.5,1351.4 L1162.8,1351.4 L1163.0,1351.4 L1163.3,1351.4 L1163.5,1351.4 L1163.8,1351.4 L1164.0,1351.4 L1164.3,1351.4 L1164.5,1351.4 L1164.8,1351.4 L1165.0,1351.4 L1165.3,1351.5 L1165.5,1351.5 L1165.8,1351.5 L1166.0,1351.5 L1166.3,1351.5 L1166.5,1351.5 L1166.8,1351.5 L1167.0,1351.5 L1167.3,1351.5 L1167.5,1351.5 L1167.8,1351.5 L1168.0,1351.5 L1168.3,1351.5 L1168.5,1351.5 L1168.8,1351.5 L1169.0,1351.5 L1169.3,1351.5 L1169.5,1351.5 L1169.8,1351.5 L1170.0,1351.6 L1170.3,1351.6 L1170.5,1351.6 L1170.8,1351.6 L1171.0,1351.6 L1171.3,1351.6 L1171.5,1351.6 L1171.8,1351.6 L1172.0,1351.6 L1172.3,1351.6 L1172.5,1351.6 L1172.8,1351.6 L1173.0,1351.6 L1173.3,1351.6 L1173.5,1351.6 L1173.8,1351.6 L1174.0,1351.6 L1174.3,1351.6 L1174.5,1351.7 L1174.8,1351.7 L1175.0,1351.7 L1175.3,1351.7 L1175.5,1351.7 L1175.8,1351.7 L1176.0,1351.7 L1176.3,1351.7 L1176.5,1351.7 L1176.8,1351.7 L1177.0,1351.7 L1177.3,1351.7 L1177.5,1351.7 L1177.8,1351.7 L1178.0,1351.7 L1178.3,1351.7 L1178.5,1351.7 L1178.8,1351.7 L1179.0,1351.7 L1179.3,1351.8 L1179.5,1351.8 L1179.8,1351.8 L1180.0,1351.8 L1180.3,1351.8 L1180.5,1351.8 L1180.8,1351.8 L1181.0,1351.8 L1181.3,1351.8 L1181.5,1351.8 L1181.8,1351.8 L1182.0,1351.8 L1182.3,1351.8 L1182.5,1351.8 L1182.8,1351.8 L1183.0,1351.8 L1183.3,1351.8 L1183.5,1351.8 L1183.8,1351.8 L1184.0,1351.8 L1184.3,1351.8 L1184.5,1351.8 L1184.8,1351.8 L1185.0,1351.8 L1185.3,1351.8 L1185.5,1351.8 L1185.8,1351.8 L1186.0,1351.8 L1186.3,1351.8 L1186.5,1351.8 L1186.8,1351.8 L1187.0,1351.8 L1187.3,1351.8 L1187.5,1351.8 L1187.8,1351.8 L1188.0,1351.8 L1188.3,1351.8 L1188.5,1351.8 L1188.8,1351.8 L1189.0,1351.8 L1189.3,1351.8 L1189.5,1351.8 L1189.8,1351.8 L1190.0,1351.8 L1190.3,1351.8 L1190.5,1351.8 L1190.8,1351.8 L1191.0,1351.8 L1191.3,1351.8 L1191.5,1351.8 L1191.8,1351.8 L1192.0,1351.8 L1192.3,1351.8 L1192.5,1351.8 L1192.8,1351.8 L1193.0,1351.8 L1193.3,1351.8 L1193.5,1351.8 L1193.8,1351.8 L1194.0,1351.8 L1194.3,1351.8 L1194.5,1351.8 L1194.8,1351.8 L1195.0,1351.8 L1195.3,1351.8 L1195.5,1351.8 L1195.8,1351.8 L1196.0,1351.8 L1196.3,1351.8 L1196.5,1351.8 L1196.8,1351.8 L1197.0,1351.8 L1197.3,1351.8 L1197.5,1351.8 L1197.8,1351.8 L1198.0,1351.8 L1198.3,1351.8 L1198.5,1351.8 L1198.8,1351.8 L1199.0,1351.8 L1199.3,1351.8 L1199.5,1351.8 L1199.8,1351.7 L1200.0,1351.7 L1200.3,1351.7 L1200.5,1351.7 L1200.8,1351.7 L1201.0,1351.7 L1201.3,1351.7 L1201.5,1351.7 L1201.8,1351.7 L1202.0,1351.7 L1202.3,1351.7 L1202.5,1351.7 L1202.8,1351.7 L1203.0,1351.7 L1203.3,1351.7 L1203.5,1351.7 L1203.8,1351.7 L1204.0,1351.7 L1204.3,1351.7 L1204.5,1351.6 L1204.8,1351.6 L1205.0,1351.6 L1205.3,1351.6 L1205.5,1351.6 L1205.8,1351.6 L1206.0,1351.6 L1206.3,1351.6 L1206.5,1351.6 L1206.8,1351.6 L1207.0,1351.6 L1207.3,1351.6 L1207.5,1351.6 L1207.8,1351.6 L1208.0,1351.6 L1208.3,1351.6 L1208.5,1351.6 L1208.8,1351.6 L1209.0,1351.5 L1209.3,1351.5 L1209.5,1351.5 L1209.8,1351.5 L1210.0,1351.5 L1210.3,1351.5 L1210.5,1351.5 L1210.8,1351.5 L1211.0,1351.5 L1211.3,1351.5 L1211.5,1351.5 L1211.8,1351.5 L1212.0,1351.5 L1212.3,1351.5 L1212.5,1351.5 L1212.8,1351.5 L1213.0,1351.5 L1213.3,1351.5 L1213.5,1351.5 L1213.8,1351.5 L1214.0,1351.4 L1214.3,1351.4 L1214.5,1351.4 L1214.8,1351.4 L1215.0,1351.4 L1215.3,1351.4 L1215.5,1351.4 L1215.8,1351.4 L1216.0,1351.4 L1216.3,1351.4 L1216.5,1351.4 L1216.8,1351.4 L1217.0,1351.4 L1217.3,1351.4 L1217.5,1351.4 L1217.8,1351.4 L1218.0,1351.4 L1218.3,1351.4 L1218.5,1351.4 L1218.8,1351.4 L1219.0,1351.4 L1219.3,1351.4 L1219.5,1351.4 L1219.8,1351.4 L1220.0,1351.4 L1220.3,1351.4 L1220.5,1351.4 L1220.8,1351.4 L1221.0,1351.4 L1221.3,1351.4 L1221.5,1351.4 L1221.8,1351.4 L1222.0,1351.4 L1222.3,1351.4 L1222.5,1351.4 L1222.8,1351.4 L1223.0,1351.4 L1223.3,1351.4 L1223.5,1351.4 L1223.8,1351.4 L1224.0,1351.4 L1224.3,1351.4 L1224.5,1351.4 L1224.8,1351.4 L1225.0,1351.4 L1225.3,1351.4 L1225.5,1351.4 L1225.8,1351.4 L1226.0,1351.4 L1226.3,1351.4 L1226.5,1351.4 L1226.8,1351.4 L1227.0,1351.4 L1227.3,1351.4 L1227.5,1351.4 L1227.8,1351.4 L1228.0,1351.4 L1228.3,1351.4 L1228.5,1351.4 L1228.8,1351.4 L1229.0,1351.4 L1229.3,1351.4 L1229.5,1351.4 L1229.8,1351.4 L1230.0,1351.4 L1230.3,1351.4 L1230.5,1351.4 L1230.8,1351.4 L1231.0,1351.4 L1231.3,1351.4 L1231.5,1351.4 L1231.8,1351.4 L1232.0,1351.4 L1232.3,1351.4 L1232.5,1351.4 L1232.8,1351.4 L1233.0,1351.4 L1233.3,1351.4 L1233.5,1351.4 L1233.8,1351.4 L1234.0,1351.4 L1234.3,1351.5 L1234.5,1351.5 L1234.8,1351.5 L1235.0,1351.5 L1235.3,1351.5 L1235.5,1351.5 L1235.8,1351.5 L1236.0,1351.5 L1236.3,1351.5 L1236.5,1351.5 L1236.8,1351.5 L1237.0,1351.5 L1237.3,1351.5 L1237.5,1351.5 L1237.8,1351.5 L1238.0,1351.5 L1238.3,1351.5 L1238.5,1351.5 L1238.8,1351.5 L1239.0,1351.5 L1239.3,1351.6 L1239.5,1351.6 L1239.8,1351.6 L1240.0,1351.6 L1240.3,1351.6 L1240.5,1351.6 L1240.8,1351.6 L1241.0,1351.6 L1241.3,1351.6 L1241.5,1351.6 L1241.8,1351.6 L1242.0,1351.6 L1242.3,1351.6 L1242.5,1351.6 L1242.8,1351.6 L1243.0,1351.6 L1243.3,1351.6 L1243.5,1351.7 L1243.8,1351.7 L1244.0,1351.7 L1244.3,1351.7 L1244.5,1351.7 L1244.8,1351.7 L1245.0,1351.7 L1245.3,1351.7 L1245.5,1351.7 L1245.8,1351.7 L1246.0,1351.7 L1246.3,1351.7 L1246.5,1351.7 L1246.8,1351.7 L1247.0,1351.7 L1247.3,1351.7 L1247.5,1351.7 L1247.8,1351.7 L1248.0,1351.7 L1248.3,1351.7 L1248.5,1351.8 L1248.8,1351.8 L1249.0,1351.8 L1249.3,1351.8 L1249.5,1351.8 L1249.8,1351.8 L1250.0,1351.8 L1250.3,1351.8 L1250.5,1351.8 L1250.8,1351.8 L1251.0,1351.8 L1251.3,1351.8 L1251.5,1351.8 L1251.8,1351.8 L1252.0,1351.8 L1252.3,1351.8 L1252.5,1351.8 L1252.8,1351.8 L1253.0,1351.8 L1253.3,1351.8 L1253.5,1351.8 L1253.8,1351.8 L1254.0,1351.8 L1254.3,1351.8 L1254.5,1351.8 L1254.8,1351.8 L1255.0,1351.8 L1255.3,1351.8 L1255.5,1351.8 L1255.8,1351.8 L1256.0,1351.8 L1256.3,1351.8 L1256.5,1351.8 L1256.8,1351.8 L1257.0,1351.8 L1257.3,1351.8 L1257.5,1351.8 L1257.8,1351.8 L1258.0,1351.8 L1258.3,1351.8 L1258.5,1351.8 L1258.8,1351.8 L1259.0,1351.8 L1259.3,1351.8 L1259.5,1351.8 L1259.8,1351.8 L1260.0,1351.8 L1260.3,1351.8 L1260.5,1351.8 L1260.8,1351.8 L1261.0,1351.8 L1261.3,1351.8 L1261.5,1351.8 L1261.8,1351.8 L1262.0,1351.8 L1262.3,1351.8 L1262.5,1351.8 L1262.8,1351.8 L1263.0,1351.8 L1263.3,1351.8 L1263.5,1351.8 L1263.8,1351.8 L1264.0,1351.8 L1264.3,1351.8 L1264.5,1351.8 L1264.8,1351.8 L1265.0,1351.8 L1265.3,1351.8 L1265.5,1351.8 L1265.8,1351.8 L1266.0,1351.8 L1266.3,1351.8 L1266.5,1351.8 L1266.8,1351.8 L1267.0,1351.8 L1267.3,1351.8 L1267.5,1351.8 L1267.8,1351.8 L1268.0,1351.8 L1268.3,1351.8 L1268.5,1351.8 L1268.8,1351.7 L1269.0,1351.7 L1269.3,1351.7 L1269.5,1351.7 L1269.8,1351.7 L1270.0,1351.7 L1270.3,1351.7 L1270.5,1351.7 L1270.8,1351.7 L1271.0,1351.7 L1271.3,1351.7 L1271.5,1351.7 L1271.8,1351.7 L1272.0,1351.7 L1272.3,1351.7 L1272.5,1351.7 L1272.8,1351.7 L1273.0,1351.7 L1273.3,1351.7 L1273.5,1351.6 L1273.8,1351.6 L1274.0,1351.6 L1274.3,1351.6 L1274.5,1351.6 L1274.8,1351.6 L1275.0,1351.6 L1275.3,1351.6 L1275.5,1351.6 L1275.8,1351.5 L1276.0,1351.5 L1276.3,1351.5 L1276.5,1351.5 L1276.8,1351.4 L1277.0,1351.4 L1277.3,1351.3 L1277.5,1351.3 L1277.8,1351.2 L1278.0,1351.1 L1278.3,1351.1 L1278.5,1351.0 L1278.8,1350.9 L1279.0,1350.8 L1279.3,1350.6 L1279.5,1350.5 L1279.8,1350.4 L1280.0,1350.3 L1280.3,1350.1 L1280.5,1350.0 L1280.8,1349.9 L1281.0,1349.8 L1281.3,1349.7 L1281.5,1349.6 L1281.8,1349.5 L1282.0,1349.5 L1282.3,1349.5 L1282.5,1349.5 L1282.8,1349.5 L1283.0,1349.5 L1283.3,1349.5 L1283.5,1349.6 L1283.8,1349.7 L1284.0,1349.8 L1284.3,1349.9 L1284.5,1350.0 L1284.8,1350.1 L1285.0,1350.2 L1285.3,1350.3 L1285.5,1350.5 L1285.8,1350.6 L1286.0,1350.7 L1286.3,1350.8 L1286.5,1350.9 L1286.8,1350.9 L1287.0,1351.0 L1287.3,1351.1 L1287.5,1351.1 L1287.8,1351.2 L1288.0,1351.2 L1288.3,1351.2 L1288.5,1351.3 L1288.8,1351.3 L1289.0,1351.3 L1289.3,1351.3 L1289.5,1351.3 L1289.8,1351.3 L1290.0,1351.3 L1290.3,1351.3 L1290.5,1351.3 L1290.8,1351.3 L1291.0,1351.3 L1291.3,1351.3 L1291.5,1351.3 L1291.8,1351.3 L1292.0,1351.3 L1292.3,1351.3 L1292.5,1351.3 L1292.8,1351.3 L1293.0,1351.3 L1293.3,1351.3 L1293.5,1351.4 L1293.8,1351.4 L1294.0,1351.4 L1294.3,1351.4 L1294.5,1351.4 L1294.8,1351.4 L1295.0,1351.4 L1295.3,1351.4 L1295.5,1351.4 L1295.8,1351.4 L1296.0,1351.4 L1296.3,1351.4 L1296.5,1351.4 L1296.8,1351.4 L1297.0,1351.4 L1297.3,1351.4 L1297.5,1351.4 L1297.8,1351.4 L1298.0,1351.4 L1298.3,1351.4 L1298.5,1351.4 L1298.8,1351.4 L1299.0,1351.4 L1299.3,1351.4 L1299.5,1351.4 L1299.8,1351.4 L1300.0,1351.6 L1300.3,1351.6 L1300.5,1351.6 L1300.8,1351.6 L1301.0,1351.6 L1301.3,1351.6 L1301.5,1351.6 L1301.8,1351.6 L1302.0,1351.6 L1302.3,1351.6 L1302.5,1351.6 L1302.8,1351.6 L1303.0,1351.6 L1303.3,1351.6 L1303.5,1351.6 L1303.8,1351.6 L1304.0,1351.6 L1304.3,1351.6 L1304.5,1351.6 L1304.8,1351.6 L1305.0,1351.6 L1305.3,1351.6 L1305.5,1351.6 L1305.8,1351.6 L1306.0,1351.6 L1306.3,1351.6 L1306.5,1351.6 L1306.8,1351.6 L1307.0,1351.6 L1307.3,1351.6 L1307.5,1351.6 L1307.8,1351.6 L1308.0,1351.6 L1308.3,1351.6 L1308.5,1351.6 L1308.8,1351.6 L1309.0,1351.6 L1309.3,1351.6 L1309.5,1351.6 L1309.8,1351.6 L1310.0,1351.6 L1310.3,1351.6 L1310.5,1351.6 L1310.8,1351.6 L1311.0,1351.6 L1311.3,1351.6 L1311.5,1351.6 L1311.8,1351.6 L1312.0,1351.6 L1312.3,1351.6 L1312.5,1351.6 L1312.8,1351.6 L1313.0,1351.6 L1313.3,1351.6 L1313.5,1351.6 L1313.8,1351.6 L1314.0,1351.6 L1314.3,1351.6 L1314.5,1351.6 L1314.8,1351.6 L1315.0,1351.6 L1315.3,1351.6 L1315.5,1351.6 L1315.8,1351.6 L1316.0,1351.6 L1316.3,1351.6 L1316.5,1351.6 L1316.8,1351.6 L1317.0,1351.6 L1317.3,1351.6 L1317.5,1351.6 L1317.8,1351.6 L1318.0,1351.6 L1318.3,1351.6 L1318.5,1351.6 L1318.8,1351.6 L1319.0,1351.6 L1319.3,1351.6 L1319.5,1351.6 L1319.8,1351.6 L1320.0,1351.6 L1320.3,1351.6 L1320.5,1351.6 L1320.8,1351.6 L1321.0,1351.6 L1321.3,1351.6 L1321.5,1351.6 L1321.8,1351.6 L1322.0,1351.6 L1322.3,1351.6 L1322.5,1351.6 L1322.8,1351.6 L1323.0,1351.6 L1323.3,1351.6 L1323.5,1351.6 L1323.8,1351.6 L1324.0,1351.6 L1324.3,1351.6 L1324.5,1351.6 L1324.8,1351.6 L1325.0,1351.6 L1325.3,1351.6 L1325.5,1351.6 L1325.8,1351.6 L1326.0,1351.6 L1326.3,1351.6 L1326.5,1351.6 L1326.8,1351.6 L1327.0,1351.6 L1327.3,1351.6 L1327.5,1351.6 L1327.8,1351.6 L1328.0,1351.6 L1328.3,1351.6 L1328.5,1351.6 L1328.8,1351.6 L1329.0,1351.6 L1329.3,1351.6 L1329.5,1351.6 L1329.8,1351.6 L1330.0,1351.6 L1330.3,1351.6 L1330.5,1351.6 L1330.8,1351.6 L1331.0,1351.6 L1331.3,1351.6 L1331.5,1351.6 L1331.8,1351.6 L1332.0,1351.6 L1332.3,1351.6 L1332.5,1351.6 L1332.8,1351.6 L1333.0,1351.6 L1333.3,1351.6 L1333.5,1351.6 L1333.8,1351.6 L1334.0,1351.6 L1334.3,1351.6 L1334.5,1351.6 L1334.8,1351.6 L1335.0,1351.6 L1335.3,1351.6 L1335.5,1351.6 L1335.8,1351.6 L1336.0,1351.6 L1336.3,1351.6 L1336.5,1351.6 L1336.8,1351.6 L1337.0,1351.6 L1337.3,1351.6 L1337.5,1351.6 L1337.8,1351.6 L1338.0,1351.6 L1338.3,1351.6 L1338.5,1351.6 L1338.8,1351.6 L1339.0,1351.6 L1339.3,1351.6 L1339.5,1351.6 L1339.8,1351.6 L1340.0,1351.6 L1340.3,1351.6 L1340.5,1351.6 L1340.8,1351.6 L1341.0,1351.6 L1341.3,1351.6 L1341.5,1351.6 L1341.8,1351.6 L1342.0,1351.6 L1342.3,1351.6 L1342.5,1351.6 L1342.8,1351.6 L1343.0,1351.6 L1343.3,1351.6 L1343.5,1351.6 L1343.8,1351.6 L1344.0,1351.6 L1344.3,1351.6 L1344.5,1351.6 L1344.8,1351.6 L1345.0,1351.6 L1345.3,1351.6 L1345.5,1351.6 L1345.8,1351.6 L1346.0,1351.6 L1346.3,1351.6 L1346.5,1351.6 L1346.8,1351.6 L1347.0,1351.6 L1347.3,1351.6 L1347.5,1351.6 L1347.8,1351.6 L1348.0,1351.6 L1348.3,1351.6 L1348.5,1351.6 L1348.8,1351.6 L1349.0,1351.6 L1349.3,1351.6 L1349.5,1351.6 L1349.8,1351.6 L1350.0,1351.6 L1350.3,1351.6 L1350.5,1351.6 L1350.8,1351.6 L1351.0,1351.6 L1351.3,1351.6 L1351.5,1351.6 L1351.8,1351.6 L1352.0,1351.6 L1352.3,1351.6 L1352.5,1351.6 L1352.8,1351.6 L1353.0,1351.6 L1353.3,1351.6 L1353.5,1351.6 L1353.8,1351.6 L1354.0,1351.6 L1354.3,1351.6 L1354.5,1351.6 L1354.8,1351.6 L1355.0,1351.6 L1355.3,1351.6 L1355.5,1351.6 L1355.8,1351.6 L1356.0,1351.6 L1356.3,1351.6 L1356.5,1351.6 L1356.8,1351.6 L1357.0,1351.6 L1357.3,1351.6 L1357.5,1351.6 L1357.8,1351.6 L1358.0,1351.6 L1358.3,1351.6 L1358.5,1351.6 L1358.8,1351.6 L1359.0,1351.6 L1359.3,1351.6 L1359.5,1351.6 L1359.8,1351.6 L1360.0,1351.6 L1360.3,1351.6 L1360.5,1351.6 L1360.8,1351.6 L1361.0,1351.6 L1361.3,1351.6 L1361.5,1351.6 L1361.8,1351.6 L1362.0,1351.6 L1362.3,1351.6 L1362.5,1351.6 L1362.8,1351.6 L1363.0,1351.6 L1363.3,1351.6 L1363.5,1351.6 L1363.8,1351.6 L1364.0,1351.6 L1364.3,1351.6 L1364.5,1351.6 L1364.8,1351.6 L1365.0,1351.6 L1365.3,1351.6 L1365.5,1351.6 L1365.8,1351.6 L1366.0,1351.6 L1366.3,1351.6 L1366.5,1351.6 L1366.8,1351.6 L1367.0,1351.6 L1367.3,1351.6 L1367.5,1351.6 L1367.8,1351.6 L1368.0,1351.6 L1368.3,1351.6 L1368.5,1351.6 L1368.8,1351.6 L1369.0,1351.6 L1369.3,1351.6 L1369.5,1351.6 L1369.8,1351.6 L1370.0,1351.6 L1370.3,1351.6 L1370.5,1351.6 L1370.8,1351.6 L1371.0,1351.6 L1371.3,1351.6 L1371.5,1351.6 L1371.8,1351.6 L1372.0,1351.6 L1372.3,1351.6 L1372.5,1351.6 L1372.8,1351.6 L1373.0,1351.6 L1373.3,1351.6 L1373.5,1351.6 L1373.8,1351.6 L1374.0,1351.6 L1374.3,1351.6 L1374.5,1351.6 L1374.8,1351.6 L1375.0,1351.6 L1375.3,1351.6 L1375.5,1351.6 L1375.8,1351.6 L1376.0,1351.6 L1376.3,1351.6 L1376.5,1351.6 L1376.8,1351.6 L1377.0,1351.6 L1377.3,1351.6 L1377.5,1351.6 L1377.8,1351.6 L1378.0,1351.6 L1378.3,1351.6 L1378.5,1351.6 L1378.8,1351.6 L1379.0,1351.6 L1379.3,1351.6 L1379.5,1351.6 L1379.8,1351.6 L1380.0,1351.6 L1380.3,1351.6 L1380.5,1351.6 L1380.8,1351.6 L1381.0,1351.6 L1381.3,1351.6 L1381.5,1351.6 L1381.8,1351.6 L1382.0,1351.6 L1382.3,1351.6 L1382.5,1351.6 L1382.8,1351.6 L1383.0,1351.6 L1383.3,1351.6 L1383.5,1351.6 L1383.8,1351.6 L1384.0,1351.6 L1384.3,1351.6 L1384.5,1351.6 L1384.8,1351.6 L1385.0,1351.6 L1385.3,1351.6 L1385.5,1351.6 L1385.8,1351.6 L1386.0,1351.6 L1386.3,1351.6 L1386.5,1351.6 L1386.8,1351.6 L1387.0,1351.6 L1387.3,1351.6 L1387.5,1351.6 L1387.8,1351.6 L1388.0,1351.6 L1388.3,1351.6 L1388.5,1351.6 L1388.8,1351.6 L1389.0,1351.6 L1389.3,1351.6 L1389.5,1351.6 L1389.8,1351.6 L1390.0,1351.6 L1390.3,1351.6 L1390.5,1351.6 L1390.8,1351.6 L1391.0,1351.6 L1391.3,1351.6 L1391.5,1351.6 L1391.8,1351.6 L1392.0,1351.6 L1392.3,1351.6 L1392.5,1351.6 L1392.8,1351.6 L1393.0,1351.6 L1393.3,1351.6 L1393.5,1351.6 L1393.8,1351.6 L1394.0,1351.6 L1394.3,1351.6 L1394.5,1351.6 L1394.8,1351.6 L1395.0,1351.6 L1395.3,1351.6 L1395.5,1351.6 L1395.8,1351.6 L1396.0,1351.6 L1396.3,1351.6 L1396.5,1351.6 L1396.8,1351.6 L1397.0,1351.6 L1397.3,1351.6 L1397.5,1351.6 L1397.8,1351.6 L1398.0,1351.6 L1398.3,1351.6 L1398.5,1351.6 L1398.8,1351.6 L1399.0,1351.6 L1399.3,1351.6 L1399.5,1351.6 L1399.8,1351.6 L1400.0,1351.6 L1400.3,1351.6 L1400.5,1351.6 L1400.8,1351.6 L1401.0,1351.6 L1401.3,1351.6 L1401.5,1351.6 L1401.8,1351.6 L1402.0,1351.6 L1402.3,1351.6 L1402.5,1351.6 L1402.8,1351.6 L1403.0,1351.6 L1403.3,1351.6 L1403.5,1351.6 L1403.8,1351.6 L1404.0,1351.6 L1404.3,1351.6 L1404.5,1351.6 L1404.8,1351.6 L1405.0,1351.6 L1405.3,1351.6 L1405.5,1351.6 L1405.8,1351.6 L1406.0,1351.6 L1406.3,1351.6 L1406.5,1351.6 L1406.8,1351.6 L1407.0,1351.6 L1407.3,1351.6 L1407.5,1351.6 L1407.8,1351.6 L1408.0,1351.6 L1408.3,1351.6 L1408.5,1351.6 L1408.8,1351.6 L1409.0,1351.6 L1409.3,1351.6 L1409.5,1351.6 L1409.8,1351.6 L1410.0,1351.6 L1410.3,1351.6 L1410.5,1351.6 L1410.8,1351.6 L1411.0,1351.6 L1411.3,1351.6 L1411.5,1351.6 L1411.8,1351.6 L1412.0,1351.6 L1412.3,1351.6 L1412.5,1351.6 L1412.8,1351.6 L1413.0,1351.6 L1413.3,1351.6 L1413.5,1351.6 L1413.8,1351.6 L1414.0,1351.6 L1414.3,1351.6 L1414.5,1351.6 L1414.8,1351.6 L1415.0,1351.6 L1415.3,1351.6 L1415.5,1351.6 L1415.8,1351.6 L1416.0,1351.6 L1416.3,1351.6 L1416.5,1351.6 L1416.8,1351.6 L1417.0,1351.6 L1417.3,1351.6 L1417.5,1351.6 L1417.8,1351.6 L1418.0,1351.6 L1418.3,1351.6 L1418.5,1351.6 L1418.8,1351.6 L1419.0,1351.6 L1419.3,1351.6 L1419.5,1351.6 L1419.8,1351.6 L1420.0,1351.6 L1420.3,1351.6 L1420.5,1351.6 L1420.8,1351.6 L1421.0,1351.6 L1421.3,1351.6 L1421.5,1351.6 L1421.8,1351.6 L1422.0,1351.6 L1422.3,1351.6 L1422.5,1351.6 L1422.8,1351.6 L1423.0,1351.6 L1423.3,1351.6 L1423.5,1351.6 L1423.8,1351.6 L1424.0,1351.6 L1424.3,1351.6 L1424.5,1351.6 L1424.8,1351.6 L1425.0,1351.6 L1425.3,1351.6 L1425.5,1351.6 L1425.8,1351.6 L1426.0,1351.6 L1426.3,1351.6 L1426.5,1351.6 L1426.8,1351.6 L1427.0,1351.6 L1427.3,1351.6 L1427.5,1351.6 L1427.8,1351.6 L1428.0,1351.6 L1428.3,1351.6 L1428.5,1351.6 L1428.8,1351.6 L1429.0,1351.6 L1429.3,1351.6 L1429.5,1351.6 L1429.8,1351.6 L1430.0,1351.6 L1430.3,1351.6 L1430.5,1351.6 L1430.8,1351.6 L1431.0,1351.6 L1431.3,1351.6 L1431.5,1351.6 L1431.8,1351.6 L1432.0,1351.6 L1432.3,1351.6 L1432.5,1351.6 L1432.8,1351.6 L1433.0,1351.6 L1433.3,1351.6 L1433.5,1351.6 L1433.8,1351.6 L1434.0,1351.6 L1434.3,1351.6 L1434.5,1351.6 L1434.8,1351.6 L1435.0,1351.6 L1435.3,1351.6 L1435.5,1351.6 L1435.8,1351.6 L1436.0,1351.6 L1436.3,1351.6 L1436.5,1351.6 L1436.8,1351.6 L1437.0,1351.6 L1437.3,1351.6 L1437.5,1351.6 L1437.8,1351.6 L1438.0,1351.6 L1438.3,1351.6 L1438.5,1351.6 L1438.8,1351.6 L1439.0,1351.6 L1439.3,1351.6 L1439.5,1351.6 L1439.8,1351.6 L1440.0,1351.6 L1440.3,1351.6 L1440.5,1351.6 L1440.8,1351.6 L1441.0,1351.6 L1441.3,1351.6 L1441.5,1351.6 L1441.8,1351.6 L1442.0,1351.6 L1442.3,1351.6 L1442.5,1351.6 L1442.8,1351.6 L1443.0,1351.6 L1443.3,1351.6 L1443.5,1351.6 L1443.8,1351.6 L1444.0,1351.6 L1444.3,1351.6 L1444.5,1351.6 L1444.8,1351.6 L1445.0,1351.6 L1445.3,1351.6 L1445.5,1351.6 L1445.8,1351.6 L1446.0,1351.6 L1446.3,1351.6 L1446.5,1351.6 L1446.8,1351.6 L1447.0,1351.6 L1447.3,1351.6 L1447.5,1351.6 L1447.8,1351.6 L1448.0,1351.6 L1448.3,1351.6 L1448.5,1351.6 L1448.8,1351.6 L1449.0,1351.6 L1449.3,1351.6 L1449.5,1351.6 L1449.8,1351.6 L1450.0,1351.6 L1450.3,1351.6 L1450.5,1351.6 L1450.8,1351.6 L1451.0,1351.6 L1451.3,1351.6 L1451.5,1351.6 L1451.8,1351.6 L1452.0,1351.6 L1452.3,1351.6 L1452.5,1351.6 L1452.8,1351.6 L1453.0,1351.6 L1453.3,1351.6 L1453.5,1351.6 L1453.8,1351.6 L1454.0,1351.6 L1454.3,1351.6 L1454.5,1351.6 L1454.8,1351.6 L1455.0,1351.6 L1455.3,1351.6 L1455.5,1351.6 L1455.8,1351.6 L1456.0,1351.6 L1456.3,1351.6 L1456.5,1351.6"/>
<g class="m">
<path class="s" d="M250.4,1346.6L259.3,1348.0"/>
<path class="s" d="M624.1,1351.6L676.9,1351.0"/>
<path d="M250.4,1354.9 L250.4,1346.4 M247.8,1350.0 L250.4,1346.4 L253.0,1350.0" />
<path d="M259.3,1339.9 L259.3,1348.4 M256.7,1344.8 L259.3,1348.4 L261.9,1344.8" />
<path d="M624.1,1360.1 L624.1,1351.6 M621.5,1355.2 L624.1,1351.6 L626.7,1355.2" />
<path d="M676.9,1342.5 L676.9,1351.0 M674.3,1347.4 L676.9,1351.0 L679.5,1347.4" />
</g>
<text class="r" transform="translate(266.6,1333.0) rotate(-90) scale(1,1.06)">4.137</text>
<text class="r" transform="translate(653.8,805.0) rotate(-90) scale(1,1.06)">14.078</text>
<text class="b" transform="translate(97.8,798.0) scale(1,1.005)">Green tea infusion</text>
<text class="b" transform="translate(99.0,857.8) scale(1,1.005)">with PVPP treatment</text>
<text class="b" transform="translate(662.4,798.6) scale(1,1.005)">Caffeine</text>
<text class="b" transform="translate(248.6,1278.4) scale(1,1.05)">GA</text>
</g>
</g>
</svg></body></html>
